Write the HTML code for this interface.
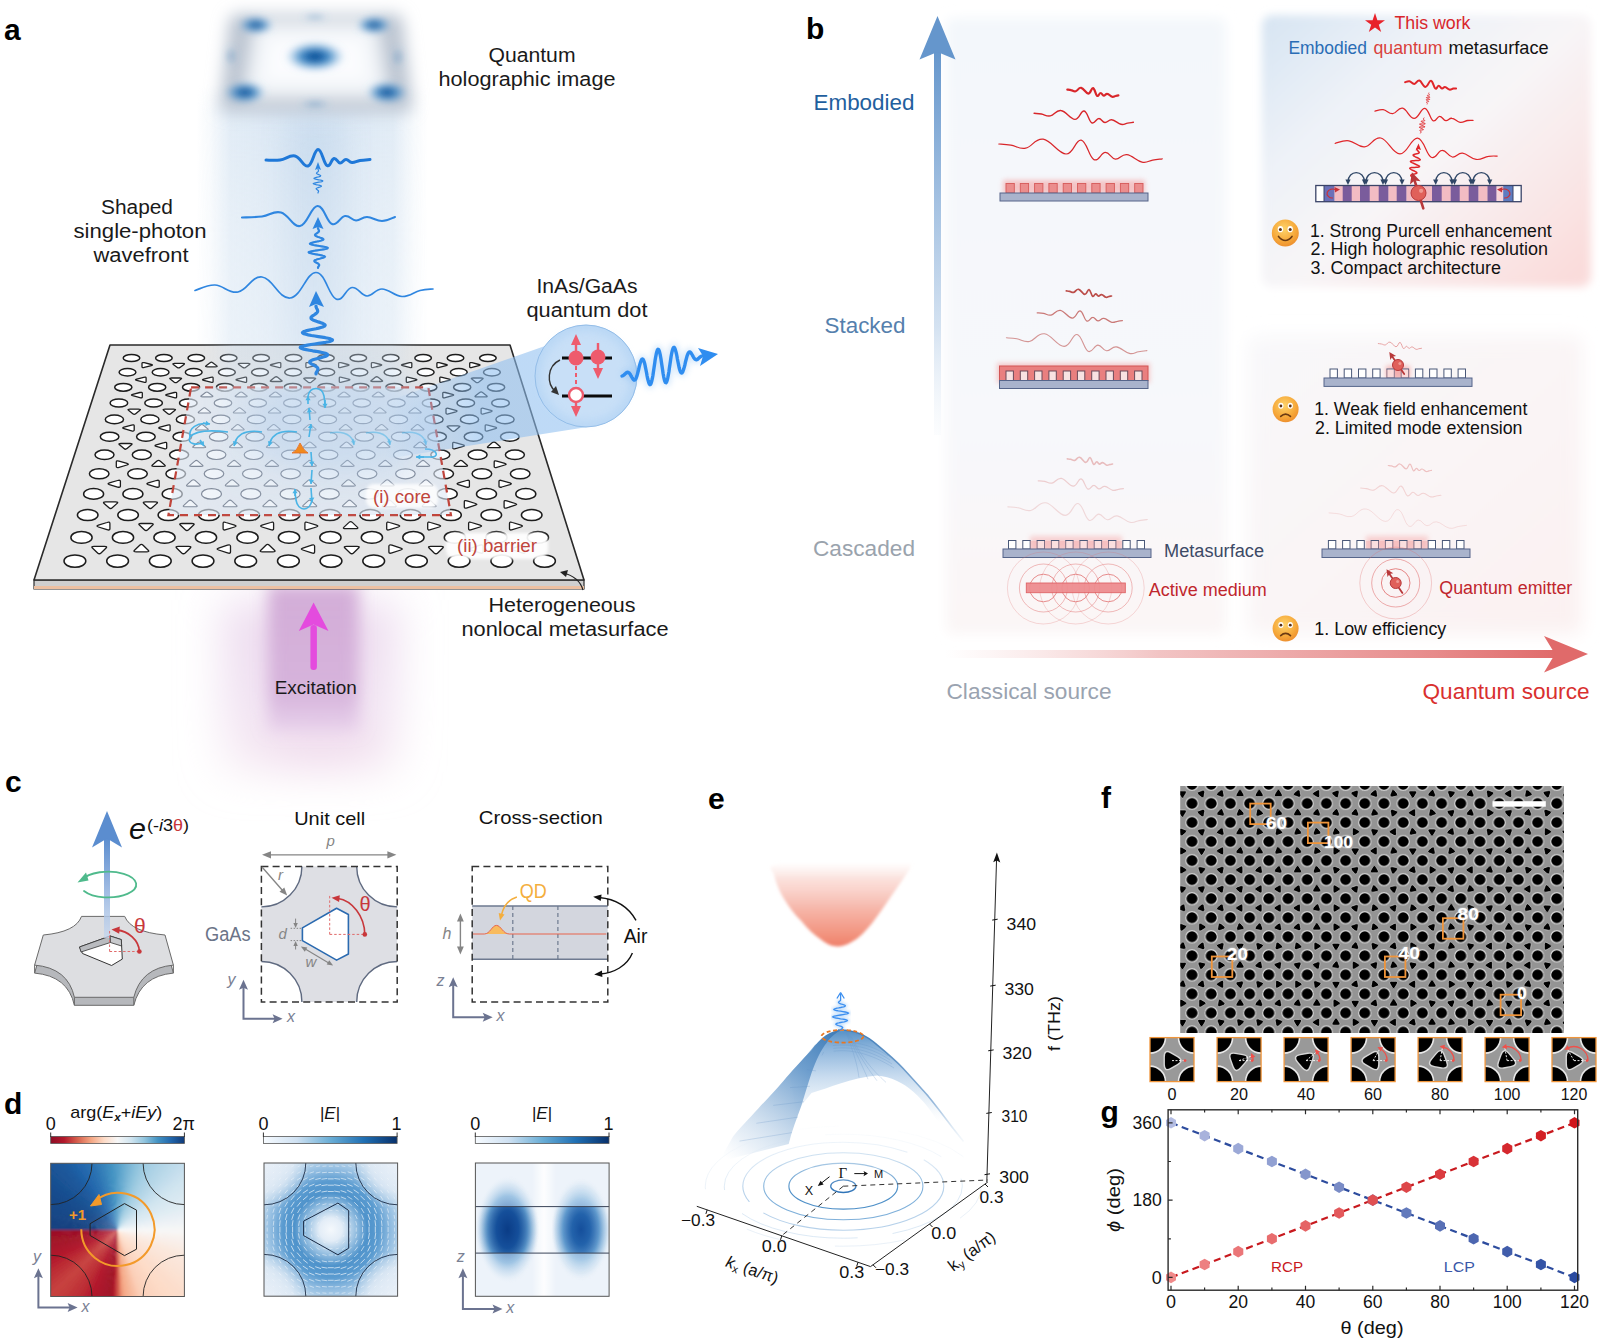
<!DOCTYPE html>
<html><head><meta charset="utf-8"><title>Figure</title>
<style>
html,body{margin:0;padding:0;background:#fff;}
body{width:1600px;height:1342px;overflow:hidden;font-family:"Liberation Sans",sans-serif;}
svg{display:block;}
svg text{font-family:"Liberation Sans",sans-serif;}
svg text.serif{font-family:"Liberation Serif",serif;}
</style></head><body>
<svg width="1600" height="1342" viewBox="0 0 1600 1342">
<rect width="1600" height="1342" fill="#fff"/>
<g id="panel_a">
<defs>
<filter id="blur3" x="-30%" y="-30%" width="160%" height="160%"><feGaussianBlur stdDeviation="3"/></filter>
<filter id="blur6" x="-30%" y="-30%" width="160%" height="160%"><feGaussianBlur stdDeviation="8"/></filter>
<filter id="blur4" x="-30%" y="-30%" width="160%" height="160%"><feGaussianBlur stdDeviation="3.6"/></filter>
<filter id="blur5" x="-30%" y="-30%" width="160%" height="160%"><feGaussianBlur stdDeviation="5"/></filter>
<filter id="blur8" x="-30%" y="-30%" width="160%" height="160%"><feGaussianBlur stdDeviation="8"/></filter>
<filter id="blur14" x="-50%" y="-50%" width="200%" height="200%"><feGaussianBlur stdDeviation="14"/></filter>
<filter id="blur22" x="-50%" y="-50%" width="200%" height="200%"><feGaussianBlur stdDeviation="22"/></filter>
<filter id="blur2" x="-30%" y="-30%" width="160%" height="160%"><feGaussianBlur stdDeviation="1.6"/></filter>
<linearGradient id="beamH" x1="0" x2="1" y1="0" y2="0">
<stop offset="0" stop-color="#c9dcee" stop-opacity="0"/><stop offset="0.06" stop-color="#c9dcee" stop-opacity="0.15"/><stop offset="0.15" stop-color="#c9dcee" stop-opacity="0.55"/>
<stop offset="0.5" stop-color="#c2d7ec" stop-opacity="0.68"/>
<stop offset="0.85" stop-color="#c9dcee" stop-opacity="0.55"/><stop offset="0.94" stop-color="#c9dcee" stop-opacity="0.15"/><stop offset="1" stop-color="#c9dcee" stop-opacity="0"/></linearGradient>
<linearGradient id="beamV" x1="0" x2="0" y1="0" y2="1">
<stop offset="0" stop-color="#fff" stop-opacity="0"/><stop offset="0.06" stop-color="#fff" stop-opacity="1"/><stop offset="0.3" stop-color="#fff" stop-opacity="0.8"/><stop offset="0.85" stop-color="#fff" stop-opacity="0.5"/><stop offset="1" stop-color="#fff" stop-opacity="0"/></linearGradient>
<mask id="beamMask"><rect x="160" y="84" width="310" height="476" fill="url(#beamV)"/></mask>
<radialGradient id="spot"><stop offset="0" stop-color="#063c80"/><stop offset="0.25" stop-color="#1560a8"/><stop offset="0.5" stop-color="#2f7fc0" stop-opacity="0.85"/><stop offset="1" stop-color="#7fb3dd" stop-opacity="0"/></radialGradient>
<linearGradient id="excV" x1="0" x2="0" y1="0" y2="1">
<stop offset="0" stop-color="#cfa6d4" stop-opacity="0.9"/><stop offset="0.75" stop-color="#d2acd8" stop-opacity="0.85"/><stop offset="1" stop-color="#d9b8e2" stop-opacity="0.4"/></linearGradient>
<linearGradient id="excV2" x1="0" x2="0" y1="0" y2="1"><stop offset="0" stop-color="#e6cfe9" stop-opacity="0.75"/><stop offset="0.6" stop-color="#ead6ec" stop-opacity="0.7"/><stop offset="1" stop-color="#f0dcea" stop-opacity="0.45"/></linearGradient>
<linearGradient id="excArrow" x1="0" x2="0" y1="0" y2="1"><stop offset="0" stop-color="#e34ce0"/><stop offset="1" stop-color="#e76fe6" stop-opacity="0.75"/></linearGradient>
</defs>
<g mask="url(#beamMask)"><rect x="196" y="84" width="232" height="476" fill="url(#beamH)"/><rect x="286" y="120" width="60" height="260" fill="#a9c6e4" opacity="0.28" filter="url(#blur14)"/></g>
<g filter="url(#blur6)"><path d="M238 14 L394 14 Q402 14 403 22 L412 102 Q413 112 403 112 L229 112 Q219 112 220 102 L229 22 Q230 14 238 14 Z" fill="#bcc5d1"/><path d="M262 30 L370 30 L379 90 L253 90 Z" fill="#fbfcfe" stroke="#f1f4f8" stroke-width="16" stroke-linejoin="round"/></g>
<g filter="url(#blur4)">
<ellipse cx="315" cy="56.5" rx="30" ry="15" fill="url(#spot)" opacity="1"/>
<ellipse cx="256" cy="25" rx="18" ry="9" fill="url(#spot)" opacity="0.9"/>
<ellipse cx="374" cy="25" rx="18" ry="9" fill="url(#spot)" opacity="0.9"/>
<ellipse cx="245" cy="92.5" rx="21" ry="11" fill="url(#spot)" opacity="0.95"/>
<ellipse cx="387" cy="92.5" rx="21" ry="11" fill="url(#spot)" opacity="0.95"/>
<ellipse cx="315" cy="17" rx="14" ry="4" fill="url(#spot)" opacity="0.3"/>
<ellipse cx="315" cy="104" rx="16" ry="4" fill="url(#spot)" opacity="0.35"/>
<ellipse cx="231" cy="56" rx="6" ry="10" fill="url(#spot)" opacity="0.3"/>
<ellipse cx="398" cy="57" rx="6" ry="10" fill="url(#spot)" opacity="0.3"/>
</g>
<g filter="url(#blur22)"><rect x="222" y="600" width="176" height="172" fill="url(#excV2)"/><ellipse cx="320" cy="748" rx="62" ry="18" fill="#e9c9e4" opacity="0.55"/></g>
<g filter="url(#blur8)"><rect x="268" y="585" width="91" height="146" fill="url(#excV)"/></g>
<rect x="310.4" y="625" width="6.5" height="45" rx="3" fill="#e44bde"/>
<path d="M313.6 602.5 L328.5 631 L313.6 624.5 L298.8 631 Z" fill="#e44bde"/>
<path d="M34 580 L584 580 L584 589 L34 589 Z" fill="#cfcfcf" stroke="#2a2a2a" stroke-width="1.2"/>
<path d="M34 586 L584 586 L584 589 L34 589 Z" fill="#ecc0a2"/>
<path d="M110 345 L510 345 L584 580 L34 580 Z" fill="#e6e6e6" stroke="#2a2a2a" stroke-width="1.6" stroke-linejoin="round"/>
<g fill="#fff" stroke="#1c1c1c" stroke-width="1.5"><ellipse cx="131.5" cy="358" rx="8.3" ry="3.6"/><ellipse cx="163.9" cy="358" rx="8.3" ry="3.6"/><ellipse cx="196.3" cy="358" rx="8.3" ry="3.6"/><ellipse cx="228.7" cy="358" rx="8.3" ry="3.6"/><ellipse cx="261.1" cy="358" rx="8.3" ry="3.6"/><ellipse cx="293.5" cy="358" rx="8.3" ry="3.6"/><ellipse cx="325.9" cy="358" rx="8.3" ry="3.6"/><ellipse cx="358.3" cy="358" rx="8.3" ry="3.6"/><ellipse cx="390.7" cy="358" rx="8.3" ry="3.6"/><ellipse cx="423.1" cy="358" rx="8.3" ry="3.6"/><ellipse cx="455.5" cy="358" rx="8.3" ry="3.6"/><ellipse cx="487.9" cy="358" rx="8.3" ry="3.6"/><ellipse cx="127.5" cy="372.3" rx="8.4" ry="3.7"/><ellipse cx="160.6" cy="372.3" rx="8.4" ry="3.7"/><ellipse cx="193.7" cy="372.3" rx="8.4" ry="3.7"/><ellipse cx="226.9" cy="372.3" rx="8.4" ry="3.7"/><ellipse cx="260" cy="372.3" rx="8.4" ry="3.7"/><ellipse cx="293.1" cy="372.3" rx="8.4" ry="3.7"/><ellipse cx="326.3" cy="372.3" rx="8.4" ry="3.7"/><ellipse cx="359.4" cy="372.3" rx="8.4" ry="3.7"/><ellipse cx="392.5" cy="372.3" rx="8.4" ry="3.7"/><ellipse cx="425.7" cy="372.3" rx="8.4" ry="3.7"/><ellipse cx="458.8" cy="372.3" rx="8.4" ry="3.7"/><ellipse cx="491.9" cy="372.3" rx="8.4" ry="3.7"/><ellipse cx="123.3" cy="387.3" rx="8.6" ry="3.9"/><ellipse cx="157.2" cy="387.3" rx="8.6" ry="3.9"/><ellipse cx="191.1" cy="387.3" rx="8.6" ry="3.9"/><ellipse cx="225" cy="387.3" rx="8.6" ry="3.9"/><ellipse cx="258.9" cy="387.3" rx="8.6" ry="3.9"/><ellipse cx="292.8" cy="387.3" rx="8.6" ry="3.9"/><ellipse cx="326.6" cy="387.3" rx="8.6" ry="3.9"/><ellipse cx="360.5" cy="387.3" rx="8.6" ry="3.9"/><ellipse cx="394.4" cy="387.3" rx="8.6" ry="3.9"/><ellipse cx="428.3" cy="387.3" rx="8.6" ry="3.9"/><ellipse cx="462.2" cy="387.3" rx="8.6" ry="3.9"/><ellipse cx="496.1" cy="387.3" rx="8.6" ry="3.9"/><ellipse cx="118.9" cy="403" rx="8.8" ry="4.1"/><ellipse cx="153.6" cy="403" rx="8.8" ry="4.1"/><ellipse cx="188.3" cy="403" rx="8.8" ry="4.1"/><ellipse cx="431.1" cy="403" rx="8.8" ry="4.1"/><ellipse cx="465.8" cy="403" rx="8.8" ry="4.1"/><ellipse cx="500.5" cy="403" rx="8.8" ry="4.1"/><ellipse cx="114.4" cy="419.4" rx="9.1" ry="4.3"/><ellipse cx="149.9" cy="419.4" rx="9.1" ry="4.3"/><ellipse cx="185.4" cy="419.4" rx="9.1" ry="4.3"/><ellipse cx="434" cy="419.4" rx="9.1" ry="4.3"/><ellipse cx="469.5" cy="419.4" rx="9.1" ry="4.3"/><ellipse cx="505" cy="419.4" rx="9.1" ry="4.3"/><ellipse cx="109.6" cy="436.7" rx="9.3" ry="4.5"/><ellipse cx="145.9" cy="436.7" rx="9.3" ry="4.5"/><ellipse cx="182.3" cy="436.7" rx="9.3" ry="4.5"/><ellipse cx="437.1" cy="436.7" rx="9.3" ry="4.5"/><ellipse cx="473.5" cy="436.7" rx="9.3" ry="4.5"/><ellipse cx="509.8" cy="436.7" rx="9.3" ry="4.5"/><ellipse cx="104.5" cy="454.8" rx="9.5" ry="4.7"/><ellipse cx="141.8" cy="454.8" rx="9.5" ry="4.7"/><ellipse cx="179.1" cy="454.8" rx="9.5" ry="4.7"/><ellipse cx="440.3" cy="454.8" rx="9.5" ry="4.7"/><ellipse cx="477.6" cy="454.8" rx="9.5" ry="4.7"/><ellipse cx="514.9" cy="454.8" rx="9.5" ry="4.7"/><ellipse cx="99.2" cy="473.8" rx="9.8" ry="5"/><ellipse cx="137.5" cy="473.8" rx="9.8" ry="5"/><ellipse cx="175.7" cy="473.8" rx="9.8" ry="5"/><ellipse cx="443.7" cy="473.8" rx="9.8" ry="5"/><ellipse cx="481.9" cy="473.8" rx="9.8" ry="5"/><ellipse cx="520.2" cy="473.8" rx="9.8" ry="5"/><ellipse cx="93.6" cy="493.9" rx="10" ry="5.3"/><ellipse cx="132.9" cy="493.9" rx="10" ry="5.3"/><ellipse cx="172.2" cy="493.9" rx="10" ry="5.3"/><ellipse cx="447.2" cy="493.9" rx="10" ry="5.3"/><ellipse cx="486.5" cy="493.9" rx="10" ry="5.3"/><ellipse cx="525.8" cy="493.9" rx="10" ry="5.3"/><ellipse cx="87.7" cy="515.1" rx="10.3" ry="5.5"/><ellipse cx="128.1" cy="515.1" rx="10.3" ry="5.5"/><ellipse cx="168.4" cy="515.1" rx="10.3" ry="5.5"/><ellipse cx="208.8" cy="515.1" rx="10.3" ry="5.5"/><ellipse cx="249.2" cy="515.1" rx="10.3" ry="5.5"/><ellipse cx="289.5" cy="515.1" rx="10.3" ry="5.5"/><ellipse cx="329.9" cy="515.1" rx="10.3" ry="5.5"/><ellipse cx="370.2" cy="515.1" rx="10.3" ry="5.5"/><ellipse cx="410.6" cy="515.1" rx="10.3" ry="5.5"/><ellipse cx="451" cy="515.1" rx="10.3" ry="5.5"/><ellipse cx="491.3" cy="515.1" rx="10.3" ry="5.5"/><ellipse cx="531.7" cy="515.1" rx="10.3" ry="5.5"/><ellipse cx="81.5" cy="537.4" rx="10.6" ry="5.9"/><ellipse cx="123" cy="537.4" rx="10.6" ry="5.9"/><ellipse cx="164.5" cy="537.4" rx="10.6" ry="5.9"/><ellipse cx="206" cy="537.4" rx="10.6" ry="5.9"/><ellipse cx="247.5" cy="537.4" rx="10.6" ry="5.9"/><ellipse cx="289" cy="537.4" rx="10.6" ry="5.9"/><ellipse cx="330.4" cy="537.4" rx="10.6" ry="5.9"/><ellipse cx="371.9" cy="537.4" rx="10.6" ry="5.9"/><ellipse cx="413.4" cy="537.4" rx="10.6" ry="5.9"/><ellipse cx="454.9" cy="537.4" rx="10.6" ry="5.9"/><ellipse cx="496.4" cy="537.4" rx="10.6" ry="5.9"/><ellipse cx="537.9" cy="537.4" rx="10.6" ry="5.9"/><ellipse cx="74.9" cy="561.1" rx="10.9" ry="6.2"/><ellipse cx="117.6" cy="561.1" rx="10.9" ry="6.2"/><ellipse cx="160.3" cy="561.1" rx="10.9" ry="6.2"/><ellipse cx="203" cy="561.1" rx="10.9" ry="6.2"/><ellipse cx="245.7" cy="561.1" rx="10.9" ry="6.2"/><ellipse cx="288.4" cy="561.1" rx="10.9" ry="6.2"/><ellipse cx="331" cy="561.1" rx="10.9" ry="6.2"/><ellipse cx="373.7" cy="561.1" rx="10.9" ry="6.2"/><ellipse cx="416.4" cy="561.1" rx="10.9" ry="6.2"/><ellipse cx="459.1" cy="561.1" rx="10.9" ry="6.2"/><ellipse cx="501.8" cy="561.1" rx="10.9" ry="6.2"/><ellipse cx="544.5" cy="561.1" rx="10.9" ry="6.2"/></g>
<g fill="#fff" stroke="#1c1c1c" stroke-width="1.3" stroke-linejoin="round"><path d="M142 363.3 Q142 362.2 144.3 362.7 L151.3 364.5 Q153.6 365.1 151.3 365.7 L144.3 367.4 Q142 368 142 366.8 Z"/><path d="M173.3 364.4 Q172 363.4 174.6 363.4 L182.6 363.4 Q185.3 363.4 184 364.4 L180 367.4 Q178.6 368.4 177.3 367.4 Z"/><path d="M210.1 362.7 Q211.4 361.7 212.7 362.7 L216.7 365.8 Q218.1 366.8 215.4 366.8 L207.4 366.8 Q204.7 366.8 206.1 365.8 Z"/><path d="M248.2 363.4 Q250.8 363.4 249.5 364.4 L245.5 367.4 Q244.2 368.4 242.8 367.4 L238.8 364.4 Q237.5 363.4 240.2 363.4 Z"/><path d="M271.5 365.7 Q269.2 365.1 271.5 364.5 L278.5 362.7 Q280.8 362.2 280.8 363.3 L280.8 366.8 Q280.8 368 278.5 367.4 Z"/><path d="M315.1 364.5 Q317.4 365.1 315.1 365.7 L308.2 367.4 Q305.9 368 305.9 366.8 L305.9 363.3 Q305.9 362.2 308.2 362.7 Z"/><path d="M340.9 367.4 Q338.6 368 338.6 366.8 L338.6 363.3 Q338.6 362.2 340.9 362.7 L347.9 364.5 Q350.2 365.1 347.9 365.7 Z"/><path d="M380.6 364.5 Q382.9 365.1 380.6 365.7 L373.7 367.4 Q371.4 368 371.4 366.8 L371.4 363.3 Q371.4 362.2 373.7 362.7 Z"/><path d="M411.8 366.8 Q411.8 368 409.5 367.4 L402.6 365.7 Q400.3 365.1 402.6 364.5 L409.5 362.7 Q411.8 362.2 411.8 363.3 Z"/><path d="M439.2 367.4 Q436.9 368 436.9 366.8 L436.9 363.3 Q436.9 362.2 439.2 362.7 L446.1 364.5 Q448.5 365.1 446.1 365.7 Z"/><path d="M478.9 364.5 Q481.2 365.1 478.9 365.7 L472 367.4 Q469.7 368 469.7 366.8 L469.7 363.3 Q469.7 362.2 472 362.7 Z"/><path d="M143.7 377.3 Q146.1 376.7 146.1 377.9 L146.1 381.6 Q146.1 382.8 143.7 382.2 L136.7 380.3 Q134.3 379.7 136.7 379.1 Z"/><path d="M170.2 379 Q168.9 378 171.6 378 L179.8 378 Q182.5 378 181.1 379 L177 382.2 Q175.7 383.2 174.3 382.2 Z"/><path d="M203.7 380.3 Q201.3 379.7 203.7 379.1 L210.8 377.3 Q213.1 376.7 213.1 377.9 L213.1 381.6 Q213.1 382.8 210.8 382.2 Z"/><path d="M237.2 380.3 Q234.8 379.7 237.2 379.1 L244.3 377.3 Q246.6 376.7 246.6 377.9 L246.6 381.6 Q246.6 382.8 244.3 382.2 Z"/><path d="M274.8 377.3 Q276.2 376.2 277.6 377.3 L281.6 380.4 Q283 381.5 280.3 381.5 L272.1 381.5 Q269.4 381.5 270.7 380.4 Z"/><path d="M311.1 382.2 Q309.7 383.2 308.3 382.2 L304.2 379 Q302.9 378 305.6 378 L313.8 378 Q316.5 378 315.2 379 Z"/><path d="M348.7 379.1 Q351.1 379.7 348.7 380.3 L341.6 382.2 Q339.3 382.8 339.3 381.6 L339.3 377.9 Q339.3 376.7 341.6 377.3 Z"/><path d="M382.2 380.4 Q383.5 381.5 380.8 381.5 L372.6 381.5 Q369.9 381.5 371.3 380.4 L375.3 377.3 Q376.7 376.2 378.1 377.3 Z"/><path d="M415.7 379.1 Q418.1 379.7 415.7 380.3 L408.6 382.2 Q406.3 382.8 406.3 381.6 L406.3 377.9 Q406.3 376.7 408.6 377.3 Z"/><path d="M442.1 382.2 Q439.8 382.8 439.8 381.6 L439.8 377.9 Q439.8 376.7 442.1 377.3 L449.2 379.1 Q451.6 379.7 449.2 380.3 Z"/><path d="M478.6 382.2 Q477.2 383.2 475.9 382.2 L471.8 379 Q470.4 378 473.1 378 L481.3 378 Q484 378 482.7 379 Z"/><path d="M132.7 395.7 Q130.2 395.1 132.7 394.4 L139.9 392.5 Q142.3 391.9 142.3 393.1 L142.3 397 Q142.3 398.2 139.9 397.6 Z"/><path d="M174.2 392.5 Q176.6 391.9 176.6 393.1 L176.6 397 Q176.6 398.2 174.2 397.6 L166.9 395.7 Q164.5 395.1 166.9 394.4 Z"/><path d="M452.5 394.4 Q454.9 395.1 452.5 395.7 L445.2 397.6 Q442.8 398.2 442.8 397 L442.8 393.1 Q442.8 391.9 445.2 392.5 Z"/><path d="M486.7 395.8 Q488.1 396.9 485.3 396.9 L476.9 396.9 Q474.1 396.9 475.5 395.8 L479.7 392.5 Q481.1 391.4 482.5 392.5 Z"/><path d="M138.5 409.2 Q141.4 409.2 139.9 410.3 L135.7 413.8 Q134.2 415 132.8 413.8 L128.5 410.3 Q127.1 409.2 129.9 409.2 Z"/><path d="M173.6 409.2 Q176.5 409.2 175 410.3 L170.7 413.8 Q169.3 415 167.9 413.8 L163.6 410.3 Q162.2 409.2 165 409.2 Z"/><path d="M448.4 413.8 Q446 414.5 446 413.1 L446 409.1 Q446 407.8 448.4 408.4 L455.9 410.4 Q458.3 411.1 455.9 411.8 Z"/><path d="M490.9 410.4 Q493.4 411.1 490.9 411.8 L483.5 413.8 Q481.1 414.5 481.1 413.1 L481.1 409.1 Q481.1 407.8 483.5 408.4 Z"/><path d="M131.6 425.1 Q134.2 424.4 134.2 425.8 L134.2 430.1 Q134.2 431.5 131.6 430.8 L124 428.6 Q121.5 427.9 124 427.2 Z"/><path d="M167.6 425.1 Q170.1 424.4 170.1 425.8 L170.1 430.1 Q170.1 431.5 167.6 430.8 L160 428.6 Q157.5 427.9 160 427.2 Z"/><path d="M455 430.8 Q453.5 432 452 430.8 L447.6 427.1 Q446.2 425.9 449.1 425.9 L457.9 425.9 Q460.8 425.9 459.3 427.1 Z"/><path d="M495.4 427.2 Q497.9 427.9 495.4 428.6 L487.8 430.8 Q485.2 431.5 485.2 430.1 L485.2 425.8 Q485.2 424.4 487.8 425.1 Z"/><path d="M119.5 444.8 Q118 443.5 121 443.5 L130 443.5 Q133 443.5 131.5 444.8 L127 448.6 Q125.5 449.9 124 448.6 Z"/><path d="M156.3 446.4 Q153.7 445.6 156.3 444.9 L164.1 442.7 Q166.7 441.9 166.7 443.4 L166.7 447.8 Q166.7 449.3 164.1 448.6 Z"/><path d="M455.3 448.6 Q452.7 449.3 452.7 447.8 L452.7 443.4 Q452.7 441.9 455.3 442.7 L463.1 444.9 Q465.7 445.6 463.1 446.4 Z"/><path d="M499.9 446.5 Q501.4 447.7 498.4 447.7 L489.4 447.7 Q486.4 447.7 487.9 446.5 L492.4 442.6 Q493.9 441.4 495.4 442.6 Z"/><path d="M116.3 461.9 Q116.3 460.3 119 461.1 L127 463.4 Q129.7 464.2 127 465 L119 467.3 Q116.3 468.1 116.3 466.5 Z"/><path d="M157 461.1 Q158.6 459.7 160.1 461.1 L164.7 465.1 Q166.3 466.4 163.2 466.4 L153.9 466.4 Q150.9 466.4 152.4 465.1 Z"/><path d="M467 465.1 Q468.5 466.4 465.5 466.4 L456.2 466.4 Q453.1 466.4 454.7 465.1 L459.3 461.1 Q460.8 459.7 462.4 461.1 Z"/><path d="M496.8 467.3 Q494.2 468.1 494.2 466.5 L494.2 461.9 Q494.2 460.3 496.8 461.1 L504.8 463.4 Q507.5 464.2 504.8 465 Z"/><path d="M109.4 484.6 Q106.7 483.7 109.4 482.9 L117.6 480.5 Q120.4 479.7 120.4 481.3 L120.4 486.2 Q120.4 487.8 117.6 487 Z"/><path d="M156.4 480.5 Q159.2 479.7 159.2 481.3 L159.2 486.2 Q159.2 487.8 156.4 487 L148.2 484.6 Q145.5 483.7 148.2 482.9 Z"/><path d="M469.4 486.2 Q469.4 487.8 466.6 487 L458.4 484.6 Q455.7 483.7 458.4 482.9 L466.6 480.5 Q469.4 479.7 469.4 481.3 Z"/><path d="M501.8 487 Q499 487.8 499 486.2 L499 481.3 Q499 479.7 501.8 480.5 L510 482.9 Q512.7 483.7 510 484.6 Z"/><path d="M115.5 501.9 Q118.7 501.9 117.1 503.4 L112.2 507.8 Q110.6 509.3 109 507.8 L104.1 503.4 Q102.5 501.9 105.7 501.9 Z"/><path d="M143.9 503.4 Q142.3 501.9 145.6 501.9 L155.3 501.9 Q158.5 501.9 156.9 503.4 L152 507.8 Q150.4 509.3 148.8 507.8 Z"/><path d="M475.5 503.5 Q478.3 504.3 475.5 505.2 L467.1 507.8 Q464.3 508.7 464.3 506.9 L464.3 501.8 Q464.3 500 467.1 500.9 Z"/><path d="M506.9 507.8 Q504.1 508.7 504.1 506.9 L504.1 501.8 Q504.1 500 506.9 500.9 L515.3 503.5 Q518.1 504.3 515.3 505.2 Z"/><path d="M107 522.5 Q109.9 521.5 109.9 523.4 L109.9 528.8 Q109.9 530.6 107 529.7 L98.4 527 Q95.5 526.1 98.4 525.2 Z"/><path d="M151 523.5 Q154.3 523.5 152.7 525 L147.7 529.8 Q146 531.3 144.4 529.8 L139.4 525 Q137.7 523.5 141 523.5 Z"/><path d="M180.3 525 Q178.6 523.5 181.9 523.5 L191.9 523.5 Q195.3 523.5 193.6 525 L188.6 529.8 Q186.9 531.3 185.3 529.8 Z"/><path d="M223.1 523.4 Q223.1 521.5 225.9 522.5 L234.6 525.2 Q237.5 526.1 234.6 527 L225.9 529.7 Q223.1 530.6 223.1 528.8 Z"/><path d="M262 527 Q259.2 526.1 262 525.2 L270.7 522.5 Q273.6 521.5 273.6 523.4 L273.6 528.8 Q273.6 530.6 270.7 529.7 Z"/><path d="M307.8 529.7 Q304.9 530.6 304.9 528.8 L304.9 523.4 Q304.9 521.5 307.8 522.5 L316.4 525.2 Q319.3 526.1 316.4 527 Z"/><path d="M345.6 528.7 Q342.3 528.7 344 527.1 L349 522.4 Q350.6 520.8 352.3 522.4 L357.3 527.1 Q358.9 528.7 355.6 528.7 Z"/><path d="M398.3 525.2 Q401.2 526.1 398.3 527 L389.6 529.7 Q386.7 530.6 386.7 528.8 L386.7 523.4 Q386.7 521.5 389.6 522.5 Z"/><path d="M430.5 529.7 Q427.7 530.6 427.7 528.8 L427.7 523.4 Q427.7 521.5 430.5 522.5 L439.2 525.2 Q442.1 526.1 439.2 527 Z"/><path d="M480.1 525.2 Q483 526.1 480.1 527 L471.5 529.7 Q468.6 530.6 468.6 528.8 L468.6 523.4 Q468.6 521.5 471.5 522.5 Z"/><path d="M512.4 529.7 Q509.5 530.6 509.5 528.8 L509.5 523.4 Q509.5 521.5 512.4 522.5 L521 525.2 Q523.9 526.1 521 527 Z"/><path d="M92.4 548 Q90.7 546.3 94.1 546.3 L104.4 546.3 Q107.8 546.3 106.1 548 L101 553 Q99.3 554.6 97.6 553 Z"/><path d="M139.7 545.2 Q141.4 543.5 143.1 545.2 L148.2 550.2 Q149.9 551.8 146.5 551.8 L136.2 551.8 Q132.8 551.8 134.5 550.2 Z"/><path d="M188.6 546.3 Q192 546.3 190.3 548 L185.2 553 Q183.4 554.6 181.7 553 L176.6 548 Q174.9 546.3 178.3 546.3 Z"/><path d="M227.5 545.2 Q230.5 544.3 230.5 546.2 L230.5 552 Q230.5 553.9 227.5 552.9 L218.6 550 Q215.6 549.1 218.6 548.1 Z"/><path d="M265.9 545.2 Q267.6 543.5 269.3 545.2 L274.5 550.2 Q276.2 551.8 272.8 551.8 L262.5 551.8 Q259.1 551.8 260.8 550.2 Z"/><path d="M314.6 552 Q314.6 553.9 311.7 552.9 L302.8 550 Q299.8 549.1 302.8 548.1 L311.7 545.2 Q314.6 544.3 314.6 546.2 Z"/><path d="M353.5 553 Q351.8 554.6 350.1 553 L344.9 548 Q343.2 546.3 346.6 546.3 L356.9 546.3 Q360.3 546.3 358.6 548 Z"/><path d="M391.9 552.9 Q388.9 553.9 388.9 552 L388.9 546.2 Q388.9 544.3 391.9 545.2 L400.8 548.1 Q403.8 549.1 400.8 550 Z"/><path d="M437.7 553 Q436 554.6 434.2 553 L429.1 548 Q427.4 546.3 430.8 546.3 L441.1 546.3 Q444.5 546.3 442.8 548 Z"/><path d="M483 552 Q483 553.9 480 552.9 L471.1 550 Q468.1 549.1 471.1 548.1 L480 545.2 Q483 544.3 483 546.2 Z"/><path d="M525.1 552 Q525.1 553.9 522.1 552.9 L513.2 550 Q510.2 549.1 513.2 548.1 L522.1 545.2 Q525.1 544.3 525.1 546.2 Z"/></g>
<polygon points="191.1,387.3 428.3,387.3 451,515.1 168.4,515.1" fill="#dfe9f5" opacity="0.62"/>
<g fill="#f1f5fa" stroke="#808a9a" stroke-width="1.2"><ellipse cx="223" cy="403" rx="8.8" ry="4.1"/><ellipse cx="257.7" cy="403" rx="8.8" ry="4.1"/><ellipse cx="292.4" cy="403" rx="8.8" ry="4.1"/><ellipse cx="327" cy="403" rx="8.8" ry="4.1"/><ellipse cx="361.7" cy="403" rx="8.8" ry="4.1"/><ellipse cx="396.4" cy="403" rx="8.8" ry="4.1"/><ellipse cx="220.9" cy="419.4" rx="9.1" ry="4.3"/><ellipse cx="256.4" cy="419.4" rx="9.1" ry="4.3"/><ellipse cx="291.9" cy="419.4" rx="9.1" ry="4.3"/><ellipse cx="327.5" cy="419.4" rx="9.1" ry="4.3"/><ellipse cx="363" cy="419.4" rx="9.1" ry="4.3"/><ellipse cx="398.5" cy="419.4" rx="9.1" ry="4.3"/><ellipse cx="218.7" cy="436.7" rx="9.3" ry="4.5"/><ellipse cx="255.1" cy="436.7" rx="9.3" ry="4.5"/><ellipse cx="291.5" cy="436.7" rx="9.3" ry="4.5"/><ellipse cx="327.9" cy="436.7" rx="9.3" ry="4.5"/><ellipse cx="364.3" cy="436.7" rx="9.3" ry="4.5"/><ellipse cx="400.7" cy="436.7" rx="9.3" ry="4.5"/><ellipse cx="216.4" cy="454.8" rx="9.5" ry="4.7"/><ellipse cx="253.7" cy="454.8" rx="9.5" ry="4.7"/><ellipse cx="291" cy="454.8" rx="9.5" ry="4.7"/><ellipse cx="328.4" cy="454.8" rx="9.5" ry="4.7"/><ellipse cx="365.7" cy="454.8" rx="9.5" ry="4.7"/><ellipse cx="403" cy="454.8" rx="9.5" ry="4.7"/><ellipse cx="214" cy="473.8" rx="9.8" ry="5"/><ellipse cx="252.3" cy="473.8" rx="9.8" ry="5"/><ellipse cx="290.6" cy="473.8" rx="9.8" ry="5"/><ellipse cx="328.8" cy="473.8" rx="9.8" ry="5"/><ellipse cx="367.1" cy="473.8" rx="9.8" ry="5"/><ellipse cx="405.4" cy="473.8" rx="9.8" ry="5"/><ellipse cx="211.5" cy="493.9" rx="10" ry="5.3"/><ellipse cx="250.8" cy="493.9" rx="10" ry="5.3"/><ellipse cx="290.1" cy="493.9" rx="10" ry="5.3"/><ellipse cx="329.3" cy="493.9" rx="10" ry="5.3"/><ellipse cx="368.6" cy="493.9" rx="10" ry="5.3"/><ellipse cx="407.9" cy="493.9" rx="10" ry="5.3"/></g>
<g fill="#f1f5fa" stroke="#808a9a" stroke-width="1.1" stroke-linejoin="round"><path d="M205.5 392.5 Q206.9 391.4 208.2 392.5 L212.4 395.8 Q213.8 396.9 211 396.9 L202.7 396.9 Q199.9 396.9 201.3 395.8 Z"/><path d="M239.7 392.5 Q241.1 391.4 242.5 392.5 L246.7 395.8 Q248.1 396.9 245.3 396.9 L237 396.9 Q234.2 396.9 235.6 395.8 Z"/><path d="M274 392.5 Q275.4 391.4 276.8 392.5 L281 395.8 Q282.4 396.9 279.6 396.9 L271.2 396.9 Q268.4 396.9 269.8 395.8 Z"/><path d="M308.3 392.5 Q309.7 391.4 311.1 392.5 L315.3 395.8 Q316.7 396.9 313.9 396.9 L305.5 396.9 Q302.7 396.9 304.1 395.8 Z"/><path d="M342.6 392.5 Q344 391.4 345.4 392.5 L349.6 395.8 Q351 396.9 348.2 396.9 L339.8 396.9 Q337 396.9 338.4 395.8 Z"/><path d="M376.9 392.5 Q378.3 391.4 379.7 392.5 L383.8 395.8 Q385.2 396.9 382.4 396.9 L374.1 396.9 Q371.3 396.9 372.7 395.8 Z"/><path d="M411.2 392.5 Q412.5 391.4 413.9 392.5 L418.1 395.8 Q419.5 396.9 416.7 396.9 L408.4 396.9 Q405.6 396.9 407 395.8 Z"/><path d="M203 408.4 Q204.4 407.2 205.8 408.4 L210.1 411.9 Q211.6 413 208.7 413 L200.1 413 Q197.3 413 198.7 411.9 Z"/><path d="M238.1 408.4 Q239.5 407.2 240.9 408.4 L245.2 411.9 Q246.7 413 243.8 413 L235.2 413 Q232.4 413 233.8 411.9 Z"/><path d="M273.2 408.4 Q274.6 407.2 276 408.4 L280.3 411.9 Q281.7 413 278.9 413 L270.3 413 Q267.5 413 268.9 411.9 Z"/><path d="M308.3 408.4 Q309.7 407.2 311.1 408.4 L315.4 411.9 Q316.8 413 314 413 L305.4 413 Q302.6 413 304 411.9 Z"/><path d="M343.4 408.4 Q344.8 407.2 346.2 408.4 L350.5 411.9 Q351.9 413 349.1 413 L340.5 413 Q337.7 413 339.1 411.9 Z"/><path d="M378.5 408.4 Q379.9 407.2 381.3 408.4 L385.6 411.9 Q387 413 384.2 413 L375.6 413 Q372.7 413 374.2 411.9 Z"/><path d="M413.6 408.4 Q415 407.2 416.4 408.4 L420.7 411.9 Q422.1 413 419.3 413 L410.7 413 Q407.8 413 409.3 411.9 Z"/><path d="M200.4 425.1 Q201.9 423.9 203.3 425.1 L207.7 428.8 Q209.2 430 206.2 430 L197.5 430 Q194.5 430 196 428.8 Z"/><path d="M236.3 425.1 Q237.8 423.9 239.3 425.1 L243.7 428.8 Q245.1 430 242.2 430 L233.4 430 Q230.5 430 232 428.8 Z"/><path d="M272.3 425.1 Q273.8 423.9 275.2 425.1 L279.6 428.8 Q281.1 430 278.1 430 L269.4 430 Q266.4 430 267.9 428.8 Z"/><path d="M308.2 425.1 Q309.7 423.9 311.2 425.1 L315.6 428.8 Q317 430 314.1 430 L305.3 430 Q302.4 430 303.8 428.8 Z"/><path d="M344.2 425.1 Q345.6 423.9 347.1 425.1 L351.5 428.8 Q353 430 350 430 L341.3 430 Q338.3 430 339.8 428.8 Z"/><path d="M380.1 425.1 Q381.6 423.9 383.1 425.1 L387.4 428.8 Q388.9 430 386 430 L377.2 430 Q374.3 430 375.7 428.8 Z"/><path d="M416.1 425.1 Q417.5 423.9 419 425.1 L423.4 428.8 Q424.9 430 421.9 430 L413.2 430 Q410.2 430 411.7 428.8 Z"/><path d="M197.7 442.6 Q199.2 441.4 200.7 442.6 L205.2 446.5 Q206.7 447.7 203.7 447.7 L194.7 447.7 Q191.7 447.7 193.2 446.5 Z"/><path d="M234.5 442.6 Q236 441.4 237.5 442.6 L242 446.5 Q243.5 447.7 240.5 447.7 L231.5 447.7 Q228.5 447.7 230 446.5 Z"/><path d="M271.4 442.6 Q272.9 441.4 274.4 442.6 L278.9 446.5 Q280.4 447.7 277.4 447.7 L268.4 447.7 Q265.4 447.7 266.9 446.5 Z"/><path d="M308.2 442.6 Q309.7 441.4 311.2 442.6 L315.7 446.5 Q317.2 447.7 314.2 447.7 L305.2 447.7 Q302.2 447.7 303.7 446.5 Z"/><path d="M345 442.6 Q346.5 441.4 348 442.6 L352.5 446.5 Q354 447.7 351 447.7 L342 447.7 Q339 447.7 340.5 446.5 Z"/><path d="M381.9 442.6 Q383.4 441.4 384.9 442.6 L389.4 446.5 Q390.9 447.7 387.9 447.7 L378.9 447.7 Q375.9 447.7 377.4 446.5 Z"/><path d="M418.7 442.6 Q420.2 441.4 421.7 442.6 L426.2 446.5 Q427.7 447.7 424.7 447.7 L415.7 447.7 Q412.7 447.7 414.2 446.5 Z"/><path d="M194.8 461.1 Q196.3 459.7 197.9 461.1 L202.5 465.1 Q204 466.4 201 466.4 L191.7 466.4 Q188.7 466.4 190.2 465.1 Z"/><path d="M232.6 461.1 Q234.1 459.7 235.7 461.1 L240.3 465.1 Q241.8 466.4 238.7 466.4 L229.5 466.4 Q226.4 466.4 228 465.1 Z"/><path d="M270.4 461.1 Q271.9 459.7 273.5 461.1 L278.1 465.1 Q279.6 466.4 276.5 466.4 L267.3 466.4 Q264.2 466.4 265.8 465.1 Z"/><path d="M308.2 461.1 Q309.7 459.7 311.2 461.1 L315.9 465.1 Q317.4 466.4 314.3 466.4 L305.1 466.4 Q302 466.4 303.5 465.1 Z"/><path d="M345.9 461.1 Q347.5 459.7 349 461.1 L353.6 465.1 Q355.2 466.4 352.1 466.4 L342.9 466.4 Q339.8 466.4 341.3 465.1 Z"/><path d="M383.7 461.1 Q385.3 459.7 386.8 461.1 L391.4 465.1 Q393 466.4 389.9 466.4 L380.7 466.4 Q377.6 466.4 379.1 465.1 Z"/><path d="M421.5 461.1 Q423.1 459.7 424.6 461.1 L429.2 465.1 Q430.7 466.4 427.7 466.4 L418.4 466.4 Q415.4 466.4 416.9 465.1 Z"/><path d="M191.8 480.4 Q193.4 479 195 480.4 L199.7 484.7 Q201.3 486.1 198.1 486.1 L188.6 486.1 Q185.5 486.1 187.1 484.7 Z"/><path d="M230.6 480.4 Q232.2 479 233.7 480.4 L238.5 484.7 Q240 486.1 236.9 486.1 L227.4 486.1 Q224.3 486.1 225.8 484.7 Z"/><path d="M269.3 480.4 Q270.9 479 272.5 480.4 L277.2 484.7 Q278.8 486.1 275.7 486.1 L266.2 486.1 Q263 486.1 264.6 484.7 Z"/><path d="M308.1 480.4 Q309.7 479 311.3 480.4 L316 484.7 Q317.6 486.1 314.4 486.1 L305 486.1 Q301.8 486.1 303.4 484.7 Z"/><path d="M346.9 480.4 Q348.5 479 350.1 480.4 L354.8 484.7 Q356.4 486.1 353.2 486.1 L343.7 486.1 Q340.6 486.1 342.2 484.7 Z"/><path d="M385.7 480.4 Q387.2 479 388.8 480.4 L393.6 484.7 Q395.1 486.1 392 486.1 L382.5 486.1 Q379.4 486.1 380.9 484.7 Z"/><path d="M424.4 480.4 Q426 479 427.6 480.4 L432.3 484.7 Q433.9 486.1 430.8 486.1 L421.3 486.1 Q418.1 486.1 419.7 484.7 Z"/><path d="M188.6 500.9 Q190.2 499.4 191.9 500.9 L196.7 505.3 Q198.3 506.8 195.1 506.8 L185.4 506.8 Q182.1 506.8 183.8 505.3 Z"/><path d="M228.4 500.9 Q230.1 499.4 231.7 500.9 L236.5 505.3 Q238.2 506.8 234.9 506.8 L225.2 506.8 Q222 506.8 223.6 505.3 Z"/><path d="M268.3 500.9 Q269.9 499.4 271.5 500.9 L276.4 505.3 Q278 506.8 274.7 506.8 L265 506.8 Q261.8 506.8 263.4 505.3 Z"/><path d="M308.1 500.9 Q309.7 499.4 311.3 500.9 L316.2 505.3 Q317.8 506.8 314.6 506.8 L304.8 506.8 Q301.6 506.8 303.2 505.3 Z"/><path d="M347.9 500.9 Q349.5 499.4 351.1 500.9 L356 505.3 Q357.6 506.8 354.4 506.8 L344.7 506.8 Q341.4 506.8 343 505.3 Z"/><path d="M387.7 500.9 Q389.3 499.4 391 500.9 L395.8 505.3 Q397.4 506.8 394.2 506.8 L384.5 506.8 Q381.2 506.8 382.9 505.3 Z"/><path d="M427.5 500.9 Q429.2 499.4 430.8 500.9 L435.6 505.3 Q437.3 506.8 434 506.8 L424.3 506.8 Q421.1 506.8 422.7 505.3 Z"/></g>
<polygon points="191.1,387.3 428.3,387.3 451,515.1 168.4,515.1" fill="none" stroke="#c0453c" stroke-width="2.2" stroke-dasharray="8 6"/>
<linearGradient id="beamOv" x1="0" x2="0" y1="0" y2="1"><stop offset="0" stop-color="#fff" stop-opacity="0.9"/><stop offset="0.45" stop-color="#fff" stop-opacity="0.55"/><stop offset="1" stop-color="#fff" stop-opacity="0"/></linearGradient><mask id="beamOvM"><rect x="190" y="345" width="250" height="190" fill="url(#beamOv)"/></mask>
<g mask="url(#beamOvM)"><rect x="200" y="345" width="225" height="190" fill="url(#beamH)" opacity="0.75"/></g>
<ellipse cx="345" cy="425" rx="100" ry="50" fill="#a9c9ec" opacity="0.3" filter="url(#blur14)"/>
<path d="M292 453 L308 453 Q304 451 300 443 Q297 451 292 453 Z" fill="#f08a1e" stroke="#e8681a" stroke-width="0.8"/>
<path d="M309 437 L311 424" stroke="#4ab4e6" stroke-width="1.6" fill="none" opacity="1"/><path d="M311 424 L312.9 428.6 L307.8 427.8 Z" fill="#4ab4e6" opacity="1"/>
<path d="M310 420 L309 408" stroke="#4ab4e6" stroke-width="1.6" fill="none" opacity="1"/><path d="M309 408 L311.9 412.1 L306.8 412.5 Z" fill="#4ab4e6" opacity="1"/>
<path d="M308 404 L308 396" stroke="#4ab4e6" stroke-width="1.6" fill="none" opacity="1"/><path d="M308 396 L310.6 400.3 L305.4 400.3 Z" fill="#4ab4e6" opacity="1"/>
<path d="M311 452 L312 466" stroke="#4ab4e6" stroke-width="1.6" fill="none" opacity="1"/><path d="M312 466 L309.1 461.9 L314.3 461.5 Z" fill="#4ab4e6" opacity="1"/>
<path d="M312 470 L311 484" stroke="#4ab4e6" stroke-width="1.6" fill="none" opacity="1"/><path d="M311 484 L308.7 479.5 L313.9 479.9 Z" fill="#4ab4e6" opacity="1"/>
<path d="M311 488 L312 502" stroke="#4ab4e6" stroke-width="1.6" fill="none" opacity="1"/><path d="M312 502 L309.1 497.9 L314.3 497.5 Z" fill="#4ab4e6" opacity="1"/>
<path d="M297 432 C285 430 274 432 270 442" fill="none" stroke="#4ab4e6" stroke-width="1.6"/>
<path d="M271 440 L269 446" stroke="#4ab4e6" stroke-width="1.6" fill="none" opacity="1"/><path d="M269 446 L267.9 441.1 L272.8 442.8 Z" fill="#4ab4e6" opacity="1"/>
<path d="M262 432 C250 430 239 432 235 442" fill="none" stroke="#4ab4e6" stroke-width="1.6"/>
<path d="M236 440 L234 446" stroke="#4ab4e6" stroke-width="1.6" fill="none" opacity="1"/><path d="M234 446 L232.9 441.1 L237.8 442.8 Z" fill="#4ab4e6" opacity="1"/>
<path d="M228 432 C212 430 196 430 190 437 C186 444 198 446 203 442" fill="none" stroke="#4ab4e6" stroke-width="1.6"/>
<path d="M200 440 L204 446" stroke="#4ab4e6" stroke-width="1.6" fill="none" opacity="1"/><path d="M204 446 L199.5 443.9 L203.8 441 Z" fill="#4ab4e6" opacity="1"/>
<path d="M190 437 C188 428 198 422 208 424" fill="none" stroke="#4ab4e6" stroke-width="1.6"/>
<path d="M203 423 L210 424" stroke="#4ab4e6" stroke-width="1.6" fill="none" opacity="1"/><path d="M210 424 L205.4 425.9 L206.1 420.8 Z" fill="#4ab4e6" opacity="1"/>
<path d="M330 433 C340 431 350 433 353 441" fill="none" stroke="#4ab4e6" stroke-width="1.6" opacity="0.55"/>
<path d="M353 439 L354 445" stroke="#4ab4e6" stroke-width="1.6" fill="none" opacity="0.55"/><path d="M354 445 L350.8 441.2 L355.8 440.4 Z" fill="#4ab4e6" opacity="0.55"/>
<path d="M366 433 C376 431 386 433 389 441" fill="none" stroke="#4ab4e6" stroke-width="1.6" opacity="0.55"/>
<path d="M389 439 L390 445" stroke="#4ab4e6" stroke-width="1.6" fill="none" opacity="0.55"/><path d="M390 445 L386.8 441.2 L391.8 440.4 Z" fill="#4ab4e6" opacity="0.55"/>
<path d="M402 433 C412 431 422 433 425 441" fill="none" stroke="#4ab4e6" stroke-width="1.6" opacity="0.55"/>
<path d="M425 439 L426 445" stroke="#4ab4e6" stroke-width="1.6" fill="none" opacity="0.55"/><path d="M426 445 L422.8 441.2 L427.8 440.4 Z" fill="#4ab4e6" opacity="0.55"/>
<path d="M425 449 C438 449 440 458 430 457 L418 457" fill="none" stroke="#4ab4e6" stroke-width="1.6"/>
<path d="M424 457 L416 457" stroke="#4ab4e6" stroke-width="1.6" fill="none" opacity="1"/><path d="M416 457 L420.3 454.4 L420.3 459.6 Z" fill="#4ab4e6" opacity="1"/>
<path d="M308 396 C310 386 322 386 324 396 L325 404" fill="none" stroke="#4ab4e6" stroke-width="1.6"/>
<path d="M325 400 L325 408" stroke="#4ab4e6" stroke-width="1.6" fill="none" opacity="1"/><path d="M325 408 L322.4 403.7 L327.6 403.7 Z" fill="#4ab4e6" opacity="1"/>
<path d="M312 500 C310 512 298 512 296 500 L295 492" fill="none" stroke="#4ab4e6" stroke-width="1.6"/>
<path d="M295 496 L295 489" stroke="#4ab4e6" stroke-width="1.6" fill="none" opacity="1"/><path d="M295 489 L297.6 493.3 L292.4 493.3 Z" fill="#4ab4e6" opacity="1"/>
<linearGradient id="coneG" gradientUnits="userSpaceOnUse" x1="385" y1="0" x2="480" y2="0"><stop offset="0" stop-color="#8fbff0" stop-opacity="0"/><stop offset="0.5" stop-color="#8fbff0" stop-opacity="0.32"/><stop offset="1" stop-color="#8fbff0" stop-opacity="0.58"/></linearGradient>
<path d="M385 402 L545 346 A51 51 0 1 1 600 425 L385 459 Z" fill="url(#coneG)"/>
<circle cx="586" cy="376" r="51" fill="#b9d7f5" stroke="#8db9e6" stroke-width="1" opacity="0.95"/>
<circle cx="586" cy="376" r="45" fill="#cfe3f8" opacity="0.7" filter="url(#blur5)"/>
<path d="M562 358 H612 M562 396 H612" stroke="#0b0b0b" stroke-width="3.2"/>
<path d="M576 366 V388" stroke="#ee5b6d" stroke-width="2" stroke-dasharray="4 3"/>
<circle cx="576" cy="358" r="7.5" fill="#ee5b6d"/><circle cx="598" cy="357" r="7.5" fill="#ee5b6d"/>
<path d="M576 351 V340" stroke="#ee5b6d" stroke-width="2.4"/><path d="M576 334 L581 345 L571 345 Z" fill="#ee5b6d"/>
<path d="M598 343 V350 M598 364 V372" stroke="#ee5b6d" stroke-width="2.4"/><path d="M598 379 L603 368 L593 368 Z" fill="#ee5b6d"/>
<circle cx="576" cy="395" r="7" fill="#fff" stroke="#ee5b6d" stroke-width="2.4"/>
<path d="M576 403 V410" stroke="#ee5b6d" stroke-width="2.4"/><path d="M576 417 L581 406 L571 406 Z" fill="#ee5b6d"/>
<path d="M560 360 C547 366 546 384 556 392" fill="none" stroke="#333" stroke-width="1.4"/><path d="M559 395 L551 392 L556 386 Z" fill="#333"/>
<path d="M622 376 L622.6 375.8 L623.1 375.5 L623.7 375.1 L624.3 374.6 L624.9 374.1 L625.4 373.6 L626 373.1 L626.6 372.6 L627.1 372.4 L627.7 372.3 L628.3 372.4 L628.9 372.7 L629.4 373.2 L630 374 L630.6 374.9 L631.1 375.9 L631.7 377 L632.3 378 L632.9 378.9 L633.4 379.6 L634 380 L634.6 380 L635.1 379.7 L635.7 378.9 L636.3 377.7 L636.9 376.1 L637.4 374.2 L638 372 L638.6 369.7 L639.1 367.3 L639.7 365 L640.3 362.9 L640.9 361.2 L641.4 359.9 L642 359.1 L642.6 359 L643.1 359.4 L643.7 360.6 L644.3 362.3 L644.9 364.5 L645.4 367.1 L646 370 L646.6 373 L647.1 376 L647.7 378.8 L648.3 381.1 L648.9 383 L649.4 384.2 L650 384.7 L650.6 384.3 L651.1 383.2 L651.7 381.3 L652.3 378.7 L652.9 375.5 L653.4 371.9 L654 368 L654.6 364.1 L655.1 360.2 L655.7 356.8 L656.3 353.8 L656.9 351.5 L657.4 349.9 L658 349.3 L658.6 349.5 L659.1 350.6 L659.7 352.6 L660.3 355.2 L660.9 358.5 L661.4 362.1 L662 366 L662.6 369.9 L663.1 373.5 L663.7 376.8 L664.3 379.4 L664.9 381.4 L665.4 382.5 L666 382.7 L666.6 382.1 L667.1 380.5 L667.7 378.2 L668.3 375.2 L668.9 371.8 L669.4 367.9 L670 364 L670.6 360.1 L671.1 356.5 L671.7 353.3 L672.3 350.7 L672.9 348.8 L673.4 347.7 L674 347.3 L674.6 347.8 L675.1 349 L675.7 350.9 L676.3 353.2 L676.9 356 L677.4 359 L678 362 L678.6 364.9 L679.1 367.5 L679.7 369.7 L680.3 371.4 L680.9 372.6 L681.4 373 L682 372.9 L682.6 372.1 L683.1 370.8 L683.7 369.1 L684.3 367 L684.9 364.7 L685.4 362.3 L686 360 L686.6 357.8 L687.1 355.9 L687.7 354.3 L688.3 353.1 L688.9 352.3 L689.4 352 L690 352 L690.6 352.4 L691.1 353.1 L691.7 354 L692.3 355 L692.9 356.1 L693.4 357.1 L694 358 L694.6 358.8 L695.1 359.3 L695.7 359.6 L696.3 359.7 L696.9 359.6 L697.4 359.4 L698 358.9 L698.6 358.4 L699.1 357.9 L699.7 357.4 L700.3 356.9 L700.9 356.5 L701.4 356.2 L702 356" fill="none" stroke="#7db8f2" stroke-width="7" opacity="0.35" filter="url(#blur3)"/>
<path d="M622 376 L622.6 375.8 L623.1 375.5 L623.7 375.1 L624.3 374.6 L624.9 374.1 L625.4 373.6 L626 373.1 L626.6 372.6 L627.1 372.4 L627.7 372.3 L628.3 372.4 L628.9 372.7 L629.4 373.2 L630 374 L630.6 374.9 L631.1 375.9 L631.7 377 L632.3 378 L632.9 378.9 L633.4 379.6 L634 380 L634.6 380 L635.1 379.7 L635.7 378.9 L636.3 377.7 L636.9 376.1 L637.4 374.2 L638 372 L638.6 369.7 L639.1 367.3 L639.7 365 L640.3 362.9 L640.9 361.2 L641.4 359.9 L642 359.1 L642.6 359 L643.1 359.4 L643.7 360.6 L644.3 362.3 L644.9 364.5 L645.4 367.1 L646 370 L646.6 373 L647.1 376 L647.7 378.8 L648.3 381.1 L648.9 383 L649.4 384.2 L650 384.7 L650.6 384.3 L651.1 383.2 L651.7 381.3 L652.3 378.7 L652.9 375.5 L653.4 371.9 L654 368 L654.6 364.1 L655.1 360.2 L655.7 356.8 L656.3 353.8 L656.9 351.5 L657.4 349.9 L658 349.3 L658.6 349.5 L659.1 350.6 L659.7 352.6 L660.3 355.2 L660.9 358.5 L661.4 362.1 L662 366 L662.6 369.9 L663.1 373.5 L663.7 376.8 L664.3 379.4 L664.9 381.4 L665.4 382.5 L666 382.7 L666.6 382.1 L667.1 380.5 L667.7 378.2 L668.3 375.2 L668.9 371.8 L669.4 367.9 L670 364 L670.6 360.1 L671.1 356.5 L671.7 353.3 L672.3 350.7 L672.9 348.8 L673.4 347.7 L674 347.3 L674.6 347.8 L675.1 349 L675.7 350.9 L676.3 353.2 L676.9 356 L677.4 359 L678 362 L678.6 364.9 L679.1 367.5 L679.7 369.7 L680.3 371.4 L680.9 372.6 L681.4 373 L682 372.9 L682.6 372.1 L683.1 370.8 L683.7 369.1 L684.3 367 L684.9 364.7 L685.4 362.3 L686 360 L686.6 357.8 L687.1 355.9 L687.7 354.3 L688.3 353.1 L688.9 352.3 L689.4 352 L690 352 L690.6 352.4 L691.1 353.1 L691.7 354 L692.3 355 L692.9 356.1 L693.4 357.1 L694 358 L694.6 358.8 L695.1 359.3 L695.7 359.6 L696.3 359.7 L696.9 359.6 L697.4 359.4 L698 358.9 L698.6 358.4 L699.1 357.9 L699.7 357.4 L700.3 356.9 L700.9 356.5 L701.4 356.2 L702 356" fill="none" stroke="#2f8df0" stroke-width="3.4" stroke-linecap="round" stroke-linejoin="round"/>
<path d="M718 354 L698 348 L703 356 L700 366 Z" fill="#2f8df0"/>
<path d="M195 290.5 C199.1 289.4 206.1 284.7 215 285 C223.9 285.3 228.3 293.7 238 292 C247.7 290.3 251.3 275.8 262 277 C272.7 278.2 278.8 298.9 290 298 C301.2 297.1 306.5 272.3 316 272.5 C325.5 272.7 328.6 295.9 336 299 C343.4 302.1 345.6 288.1 352 287.5 C358.4 286.9 360.8 295.7 367 296 C373.2 296.3 374.8 288.9 382 289 C389.2 289.1 394.1 296.2 402 296.5 C409.9 296.8 413.6 292.1 420 290.5 C426.4 288.9 430.3 289.3 433 289" fill="none" stroke="#2f86e0" stroke-width="1.7" stroke-linecap="round"/>
<path d="M242 217.5 C246.1 217.3 253.9 217.5 262 216.5 C270.1 215.5 273.1 210.5 281 212.5 C288.9 214.5 292.5 227.3 300 226 C307.5 224.7 310.9 206.4 317.5 206 C324.1 205.6 326.3 221.9 332 224 C337.7 226.1 340 216.7 345 216 C350 215.3 351.5 220.3 356 220.5 C360.5 220.7 361.6 216.9 367 217 C372.4 217.1 376.2 221 382 221 C387.8 221 392.3 217.8 395 217" fill="none" stroke="#2f86e0" stroke-width="2.1" stroke-linecap="round"/>
<path d="M266 160 C268.9 160 274 160.8 280 160 C286 159.2 289.2 154.8 295 156 C300.8 157.2 303.2 167.3 308 166 C312.8 164.7 314.1 149.6 318 149.5 C321.9 149.4 323.7 163.6 327 165.5 C330.3 167.4 331.3 159 334 158.5 C336.7 158 337.5 162.8 340 163 C342.5 163.2 343.5 159.6 346 159.5 C348.5 159.4 349.1 162.3 352 162.5 C354.9 162.7 356.3 161.1 360 160.5 C363.7 159.9 367.9 159.7 370 159.5" fill="none" stroke="#1f78d8" stroke-width="3" stroke-linecap="round"/>
<path d="M316 374 L316 373.4 L316.2 372.9 L316.4 372.3 L316.7 371.7 L317.1 371.2 L317.4 370.6 L317.7 370 L317.9 369.5 L318 368.9 L317.8 368.3 L317.5 367.8 L317 367.2 L316.3 366.6 L315.4 366.1 L314.4 365.5 L313.3 364.9 L312.2 364.4 L311.2 363.8 L310.4 363.2 L309.9 362.7 L309.7 362.1 L309.9 361.5 L310.5 361 L311.5 360.4 L312.9 359.8 L314.7 359.3 L316.7 358.7 L318.9 358.1 L321.1 357.6 L323.2 357 L325 356.4 L326.5 355.9 L327.4 355.3 L327.7 354.7 L327.3 354.2 L326.2 353.6 L324.4 353 L322 352.5 L319.2 351.9 L316 351.3 L312.7 350.8 L309.4 350.2 L306.3 349.6 L303.7 349.1 L301.7 348.5 L300.5 347.9 L300.2 347.4 L300.7 346.8 L302.2 346.2 L304.4 345.7 L307.4 345.1 L310.9 344.5 L314.7 344 L318.6 343.4 L322.4 342.8 L325.8 342.3 L328.7 341.7 L330.8 341.1 L332.1 340.6 L332.5 340 L331.9 339.4 L330.5 338.9 L328.2 338.3 L325.3 337.7 L322 337.2 L318.4 336.6 L314.8 336 L311.4 335.5 L308.3 334.9 L305.8 334.3 L303.9 333.8 L302.8 333.2 L302.4 332.6 L302.9 332.1 L304 331.5 L305.8 330.9 L308 330.4 L310.6 329.8 L313.3 329.2 L316 328.7 L318.6 328.1 L320.8 327.5 L322.7 327 L324 326.4 L324.9 325.8 L325.2 325.3 L324.9 324.7 L324.2 324.1 L323.1 323.6 L321.6 323 L320 322.4 L318.3 321.9 L316.5 321.3 L315 320.7 L313.6 320.2 L312.4 319.6 L311.6 319 L311.1 318.5 L311 317.9 L311.1 317.3 L311.5 316.8 L312.1 316.2 L312.9 315.6 L313.8 315.1 L314.7 314.5 L315.5 313.9 L316.2 313.4 L316.8 312.8 L317.3 312.2 L317.6 311.7 L317.7 311.1 L317.6 310.5 L317.5 310 L317.2 309.4 L316.9 308.8 L316.6 308.3 L316.4 307.7 L316.2 307.1 L316 306.6 L316 306" fill="none" stroke="#2f86e0" stroke-width="3.2" stroke-linecap="round" stroke-linejoin="round"/>
<path d="M316 291 L324 307 L316 304 L309 307 Z" fill="#2f86e0"/>
<path d="M318 268 L318 267.7 L318.1 267.3 L318.2 267 L318.4 266.7 L318.6 266.3 L318.8 266 L319 265.7 L319.1 265.3 L319.2 265 L319.1 264.7 L318.9 264.3 L318.6 264 L318.2 263.7 L317.6 263.3 L317 263 L316.4 262.7 L315.8 262.3 L315.2 262 L314.7 261.7 L314.4 261.3 L314.3 261 L314.4 260.7 L314.7 260.3 L315.3 260 L316.2 259.7 L317.2 259.3 L318.4 259 L319.7 258.7 L321 258.3 L322.2 258 L323.3 257.7 L324.2 257.3 L324.7 257 L324.9 256.7 L324.6 256.3 L324 256 L322.9 255.7 L321.6 255.3 L319.9 255 L318 254.7 L316 254.3 L314.1 254 L312.3 253.7 L310.8 253.3 L309.6 253 L308.9 252.7 L308.7 252.3 L309 252 L309.9 251.7 L311.2 251.3 L312.9 251 L315 250.7 L317.2 250.3 L319.5 250 L321.8 249.7 L323.8 249.3 L325.5 249 L326.7 248.7 L327.5 248.3 L327.7 248 L327.4 247.7 L326.5 247.3 L325.2 247 L323.5 246.7 L321.5 246.3 L319.4 246 L317.3 245.7 L315.3 245.3 L313.5 245 L312 244.7 L310.9 244.3 L310.2 244 L310 243.7 L310.3 243.3 L311 243 L312 242.7 L313.3 242.3 L314.8 242 L316.4 241.7 L318 241.3 L319.5 241 L320.8 240.7 L321.9 240.3 L322.7 240 L323.2 239.7 L323.4 239.3 L323.2 239 L322.8 238.7 L322.1 238.3 L321.3 238 L320.3 237.7 L319.3 237.3 L318.3 237 L317.4 236.7 L316.6 236.3 L315.9 236 L315.4 235.7 L315.1 235.3 L315 235 L315.1 234.7 L315.4 234.3 L315.7 234 L316.2 233.7 L316.7 233.3 L317.2 233 L317.7 232.7 L318.1 232.3 L318.5 232 L318.8 231.7 L318.9 231.3 L319 231 L319 230.7 L318.9 230.3 L318.7 230 L318.6 229.7 L318.4 229.3 L318.2 229 L318.1 228.7 L318 228.3 L318 228" fill="none" stroke="#2f86e0" stroke-width="2.2" stroke-linecap="round"/>
<path d="M318 217 L323.5 229 L318 227 L312.5 229 Z" fill="#2f86e0"/>
<path d="M318 193 L318 192.8 L318.1 192.6 L318.1 192.4 L318.2 192.2 L318.3 192 L318.4 191.8 L318.5 191.6 L318.6 191.4 L318.6 191.2 L318.5 191 L318.4 190.8 L318.3 190.6 L318.1 190.4 L317.8 190.2 L317.5 190 L317.2 189.8 L316.9 189.6 L316.6 189.4 L316.4 189.2 L316.2 189 L316.1 188.8 L316.2 188.6 L316.4 188.4 L316.7 188.2 L317.1 188 L317.6 187.8 L318.2 187.6 L318.8 187.4 L319.5 187.2 L320.1 187 L320.7 186.8 L321.1 186.6 L321.3 186.4 L321.4 186.2 L321.3 186 L321 185.8 L320.5 185.6 L319.8 185.4 L318.9 185.2 L318 185 L317 184.8 L316 184.6 L315.2 184.4 L314.4 184.2 L313.8 184 L313.5 183.8 L313.3 183.6 L313.5 183.4 L313.9 183.2 L314.6 183 L315.5 182.8 L316.5 182.6 L317.6 182.4 L318.8 182.2 L319.9 182 L320.9 181.8 L321.7 181.6 L322.4 181.4 L322.7 181.2 L322.8 181 L322.7 180.8 L322.3 180.6 L321.6 180.4 L320.7 180.2 L319.8 180 L318.7 179.8 L317.6 179.6 L316.6 179.4 L315.7 179.2 L315 179 L314.4 178.8 L314.1 178.6 L314 178.4 L314.1 178.2 L314.5 178 L315 177.8 L315.6 177.6 L316.4 177.4 L317.2 177.2 L318 177 L318.8 176.8 L319.4 176.6 L320 176.4 L320.4 176.2 L320.6 176 L320.7 175.8 L320.6 175.6 L320.4 175.4 L320.1 175.2 L319.7 175 L319.2 174.8 L318.7 174.6 L318.2 174.4 L317.7 174.2 L317.3 174 L317 173.8 L316.7 173.6 L316.6 173.4 L316.5 173.2 L316.6 173 L316.7 172.8 L316.9 172.6 L317.1 172.4 L317.3 172.2 L317.6 172 L317.9 171.8 L318.1 171.6 L318.2 171.4 L318.4 171.2 L318.5 171 L318.5 170.8 L318.5 170.6 L318.4 170.4 L318.4 170.2 L318.3 170 L318.2 169.8 L318.1 169.6 L318 169.4 L318 169.2 L318 169" fill="none" stroke="#2f86e0" stroke-width="1.2" stroke-linecap="round"/>
<path d="M318 162 L321 170 L318 168.5 L315 170 Z" fill="#2f86e0"/>
<text x="4" y="40" font-size="30" fill="#000" text-anchor="start" font-weight="bold" >a</text>
<text x="532" y="62" font-size="20" fill="#1a1a1a" text-anchor="middle" textLength="87" lengthAdjust="spacingAndGlyphs" >Quantum</text>
<text x="527" y="86" font-size="20" fill="#1a1a1a" text-anchor="middle" textLength="177" lengthAdjust="spacingAndGlyphs" >holographic image</text>
<text x="137" y="214" font-size="20" fill="#1a1a1a" text-anchor="middle" textLength="72" lengthAdjust="spacingAndGlyphs" >Shaped</text>
<text x="140" y="238" font-size="20" fill="#1a1a1a" text-anchor="middle" textLength="133" lengthAdjust="spacingAndGlyphs" >single-photon</text>
<text x="141" y="262" font-size="20" fill="#1a1a1a" text-anchor="middle" textLength="95" lengthAdjust="spacingAndGlyphs" >wavefront</text>
<text x="587" y="293" font-size="20" fill="#1a1a1a" text-anchor="middle" textLength="101" lengthAdjust="spacingAndGlyphs" >InAs/GaAs</text>
<text x="587" y="317" font-size="20" fill="#1a1a1a" text-anchor="middle" textLength="121" lengthAdjust="spacingAndGlyphs" >quantum dot</text>
<text x="562" y="612" font-size="20" fill="#1a1a1a" text-anchor="middle" textLength="147" lengthAdjust="spacingAndGlyphs" >Heterogeneous</text>
<text x="565" y="636" font-size="20" fill="#1a1a1a" text-anchor="middle" textLength="207" lengthAdjust="spacingAndGlyphs" >nonlocal metasurface</text>
<text x="315.7" y="694.3" font-size="18.5" fill="#1a1a1a" text-anchor="middle" textLength="82" lengthAdjust="spacingAndGlyphs" >Excitation</text>
<rect x="366" y="484" width="72" height="24" rx="8" fill="#fff" opacity="0.85" filter="url(#blur2)"/>
<text x="402" y="503" font-size="18" fill="#c0453c" text-anchor="middle" textLength="58" lengthAdjust="spacingAndGlyphs" >(i) core</text>
<rect x="446" y="533" width="102" height="26" rx="9" fill="#fff" opacity="0.92" filter="url(#blur2)"/>
<text x="497" y="552" font-size="18" fill="#c0453c" text-anchor="middle" textLength="80" lengthAdjust="spacingAndGlyphs" >(ii) barrier</text>
<path d="M583 590 C580 580 572 575 563 573" fill="none" stroke="#222" stroke-width="1.2"/><path d="M560 572 L568 570 L566 577 Z" fill="#222"/>
</g>
<g id="panel_b">
<defs>
<linearGradient id="bV" x1="0" x2="0" y1="0" y2="1"><stop offset="0" stop-color="#6596cc"/><stop offset="0.4" stop-color="#a5c2e2"/><stop offset="0.72" stop-color="#d4e2f1"/><stop offset="1" stop-color="#eef3f9" stop-opacity="0.2"/></linearGradient>
<linearGradient id="bH" x1="0" x2="1" y1="0" y2="0"><stop offset="0" stop-color="#f6d6d6" stop-opacity="0"/><stop offset="0.35" stop-color="#f2c4c4"/><stop offset="0.8" stop-color="#e78b8b"/><stop offset="1" stop-color="#e06a6a"/></linearGradient>
<linearGradient id="twork" x1="0" x2="1" y1="0" y2="0.9"><stop offset="0" stop-color="#d6e4f2"/><stop offset="0.3" stop-color="#eef2f8"/><stop offset="0.55" stop-color="#f8f5f7"/><stop offset="1" stop-color="#fadcdb"/></linearGradient>
<radialGradient id="emo" cx="0.45" cy="0.35" r="0.75"><stop offset="0" stop-color="#fdd36a"/><stop offset="0.6" stop-color="#f6a83a"/><stop offset="1" stop-color="#e9842a"/></radialGradient>
<linearGradient id="bgC" x1="0" x2="1" y1="0" y2="1"><stop offset="0" stop-color="#f8f8fa"/><stop offset="1" stop-color="#fbf1f1"/></linearGradient>
<linearGradient id="bgB" x1="0" x2="0" y1="0" y2="1"><stop offset="0" stop-color="#f3f7fb"/><stop offset="0.65" stop-color="#f7f8fb"/><stop offset="1" stop-color="#fbf6f6"/></linearGradient>
<filter id="bblur10" x="-10%" y="-10%" width="120%" height="120%"><feGaussianBlur stdDeviation="9"/></filter>
<filter id="bblur6" x="-10%" y="-10%" width="120%" height="120%"><feGaussianBlur stdDeviation="6"/></filter>
<filter id="bblur5" x="-10%" y="-10%" width="120%" height="120%"><feGaussianBlur stdDeviation="4.5"/></filter>
<filter id="bblur3" x="-30%" y="-60%" width="160%" height="220%"><feGaussianBlur stdDeviation="2.5"/></filter>
</defs>
<rect x="946" y="18" width="280" height="616" rx="8" fill="url(#bgB)" filter="url(#bblur6)"/>
<rect x="1248" y="336" width="334" height="298" rx="8" fill="url(#bgC)" filter="url(#bblur10)"/>
<rect x="1262" y="15" width="329" height="272" rx="10" fill="url(#twork)" filter="url(#bblur5)"/>
<rect x="934" y="50" width="7" height="385" fill="url(#bV)"/>
<path d="M937.5 16 L955.5 59.5 L937.5 52 L919.5 59.5 Z" fill="#6596cc"/>
<rect x="945" y="650" width="612" height="8" fill="url(#bH)"/>
<path d="M1588 654 L1544 636 L1555 654 L1544 672.5 Z" fill="#e06a6a"/>
<text x="806" y="39" font-size="30" fill="#000" text-anchor="start" font-weight="bold" >b</text>
<text x="864" y="110" font-size="22" fill="#1f5f9e" text-anchor="middle" textLength="101" lengthAdjust="spacingAndGlyphs" >Embodied</text>
<text x="865" y="333" font-size="22" fill="#5580ad" text-anchor="middle" textLength="81" lengthAdjust="spacingAndGlyphs" >Stacked</text>
<text x="864" y="556" font-size="22" fill="#9aa3ad" text-anchor="middle" textLength="102" lengthAdjust="spacingAndGlyphs" >Cascaded</text>
<text x="1029" y="699" font-size="22" fill="#9aa3b0" text-anchor="middle" textLength="165" lengthAdjust="spacingAndGlyphs" >Classical source</text>
<text x="1506" y="699" font-size="22" fill="#d9302f" text-anchor="middle" textLength="167" lengthAdjust="spacingAndGlyphs" >Quantum source</text>
<path d="M1067.3 89.6 C1068.1 89.7 1069.3 89.7 1071.1 90.1 C1072.8 90.4 1073.6 91.8 1075.7 91.3 C1077.7 90.8 1078.6 87.3 1081.2 87.8 C1083.8 88.3 1085.9 93.5 1088.3 93.6 C1090.8 93.6 1091.2 87.7 1093.1 88.1 C1094.9 88.6 1095.5 94.8 1097 95.8 C1098.6 96.8 1099.2 93 1100.6 93 C1102 92.9 1102.4 95.4 1103.8 95.6 C1105.2 95.7 1105.6 93.5 1107.3 93.8 C1109 94 1110.4 96.3 1112.1 96.7 C1113.7 97.2 1114.1 96.2 1115.4 96 C1116.8 95.7 1117.8 95.5 1118.4 95.4" fill="none" stroke="#d8262a" stroke-width="2.2" stroke-linecap="round" opacity="1"/><path d="M1034.1 113.3 C1035.6 113.5 1038.1 113.5 1041.4 114 C1044.8 114.6 1046.3 116.6 1050.3 115.9 C1054.4 115.2 1056 109.7 1061 110.5 C1066.1 111.2 1070.1 119.3 1074.9 119.4 C1079.7 119.5 1080.6 110.3 1084.1 111 C1087.6 111.7 1088.8 121.3 1091.8 122.8 C1094.8 124.4 1096.1 118.5 1098.8 118.5 C1101.5 118.4 1102.2 122.3 1104.9 122.5 C1107.6 122.8 1108.5 119.4 1111.8 119.8 C1115.2 120.1 1117.8 123.6 1121 124.3 C1124.3 125 1125 123.5 1127.6 123.1 C1130.1 122.7 1132.2 122.5 1133.4 122.3" fill="none" stroke="#d8262a" stroke-width="1.4" stroke-linecap="round" opacity="1"/><path d="M998.8 144 C1001.3 144.2 1005.4 144.2 1010.9 145.1 C1016.4 146 1018.9 149.4 1025.6 148.2 C1032.2 147 1034.8 138 1043.2 139.2 C1051.5 140.4 1058.2 153.8 1066 154 C1073.9 154.2 1075.4 138.9 1081.2 140.1 C1086.9 141.2 1088.9 157.1 1093.9 159.6 C1098.9 162.2 1100.8 152.5 1105.3 152.4 C1109.7 152.3 1110.9 158.7 1115.4 159.1 C1119.8 159.6 1121.3 154 1126.8 154.6 C1132.3 155.2 1136.6 160.9 1142 162.1 C1147.3 163.2 1148.5 160.8 1152.7 160.1 C1156.9 159.4 1160.3 159.1 1162.3 158.8" fill="none" stroke="#d8262a" stroke-width="1.2" stroke-linecap="round" opacity="1"/>
<rect x="1003" y="180" width="142" height="14" fill="#f29a9a" opacity="0.55" filter="url(#bblur3)"/>
<rect x="1006" y="183.5" width="8.3" height="9.5" fill="#eb8d8d" stroke="#d65a5a" stroke-width="0.9"/><rect x="1020.3" y="183.5" width="8.3" height="9.5" fill="#eb8d8d" stroke="#d65a5a" stroke-width="0.9"/><rect x="1034.6" y="183.5" width="8.3" height="9.5" fill="#eb8d8d" stroke="#d65a5a" stroke-width="0.9"/><rect x="1048.9" y="183.5" width="8.3" height="9.5" fill="#eb8d8d" stroke="#d65a5a" stroke-width="0.9"/><rect x="1063.2" y="183.5" width="8.3" height="9.5" fill="#eb8d8d" stroke="#d65a5a" stroke-width="0.9"/><rect x="1077.5" y="183.5" width="8.3" height="9.5" fill="#eb8d8d" stroke="#d65a5a" stroke-width="0.9"/><rect x="1091.8" y="183.5" width="8.3" height="9.5" fill="#eb8d8d" stroke="#d65a5a" stroke-width="0.9"/><rect x="1106.1" y="183.5" width="8.3" height="9.5" fill="#eb8d8d" stroke="#d65a5a" stroke-width="0.9"/><rect x="1120.4" y="183.5" width="8.3" height="9.5" fill="#eb8d8d" stroke="#d65a5a" stroke-width="0.9"/><rect x="1134.7" y="183.5" width="8.3" height="9.5" fill="#eb8d8d" stroke="#d65a5a" stroke-width="0.9"/>
<rect x="1000" y="193" width="148" height="8" fill="#a9b3cc" stroke="#56658a" stroke-width="1"/>
<path d="M1066.3 290.9 C1067 291 1068.1 291 1069.7 291.3 C1071.2 291.6 1071.9 292.8 1073.7 292.4 C1075.5 292 1076.3 288.9 1078.6 289.3 C1080.9 289.7 1082.7 294.3 1084.9 294.4 C1087 294.4 1087.5 289.2 1089 289.6 C1090.6 290 1091.2 295.4 1092.6 296.3 C1093.9 297.2 1094.5 293.9 1095.7 293.8 C1096.9 293.8 1097.3 296 1098.5 296.1 C1099.7 296.3 1100.1 294.4 1101.6 294.6 C1103.2 294.8 1104.4 296.8 1105.8 297.2 C1107.3 297.6 1107.6 296.7 1108.8 296.5 C1110 296.3 1110.9 296.1 1111.5 296" fill="none" stroke="#b8433f" stroke-width="1.7" stroke-linecap="round" opacity="0.95"/><path d="M1037.2 312.9 C1038.5 313 1040.6 313 1043.5 313.4 C1046.3 313.9 1047.6 315.7 1051.1 315.1 C1054.6 314.4 1055.9 309.8 1060.3 310.4 C1064.6 311 1068.1 318 1072.2 318.1 C1076.3 318.2 1077.1 310.2 1080.1 310.8 C1083.1 311.4 1084.1 319.7 1086.7 321 C1089.3 322.4 1090.3 317.3 1092.7 317.3 C1095 317.2 1095.6 320.5 1097.9 320.8 C1100.3 321 1101 318.1 1103.9 318.4 C1106.7 318.7 1109 321.7 1111.8 322.3 C1114.6 322.9 1115.2 321.6 1117.4 321.3 C1119.6 320.9 1121.4 320.7 1122.4 320.6" fill="none" stroke="#b8433f" stroke-width="1.25" stroke-linecap="round" opacity="0.7"/><path d="M1006.4 337.8 C1008.6 338 1012.1 338 1016.8 338.8 C1021.5 339.6 1023.7 342.5 1029.4 341.5 C1035.1 340.4 1037.3 332.7 1044.5 333.8 C1051.7 334.8 1057.4 346.3 1064.1 346.4 C1070.9 346.6 1072.2 333.5 1077.1 334.5 C1082.1 335.5 1083.8 349.1 1088.1 351.3 C1092.3 353.5 1094 345.2 1097.9 345.1 C1101.7 345 1102.7 350.5 1106.5 350.8 C1110.4 351.2 1111.6 346.4 1116.3 346.9 C1121.1 347.4 1124.8 352.4 1129.4 353.4 C1134 354.3 1135 352.3 1138.6 351.7 C1142.2 351.1 1145.2 350.8 1146.9 350.6" fill="none" stroke="#b8433f" stroke-width="1.1" stroke-linecap="round" opacity="0.55"/>
<rect x="997" y="363" width="153" height="20" fill="#f29a9a" opacity="0.5" filter="url(#bblur3)"/>
<rect x="999.5" y="366" width="148.5" height="14.5" fill="#e97f7f" stroke="#d25555" stroke-width="1"/>
<rect x="1006" y="371" width="7.4" height="9.5" fill="#f8e2e2" stroke="#6a4a5a" stroke-width="1"/><rect x="1020.3" y="371" width="7.4" height="9.5" fill="#f8e2e2" stroke="#6a4a5a" stroke-width="1"/><rect x="1034.6" y="371" width="7.4" height="9.5" fill="#f8e2e2" stroke="#6a4a5a" stroke-width="1"/><rect x="1048.9" y="371" width="7.4" height="9.5" fill="#f8e2e2" stroke="#6a4a5a" stroke-width="1"/><rect x="1063.2" y="371" width="7.4" height="9.5" fill="#f8e2e2" stroke="#6a4a5a" stroke-width="1"/><rect x="1077.4" y="371" width="7.4" height="9.5" fill="#f8e2e2" stroke="#6a4a5a" stroke-width="1"/><rect x="1091.7" y="371" width="7.4" height="9.5" fill="#f8e2e2" stroke="#6a4a5a" stroke-width="1"/><rect x="1106" y="371" width="7.4" height="9.5" fill="#f8e2e2" stroke="#6a4a5a" stroke-width="1"/><rect x="1120.3" y="371" width="7.4" height="9.5" fill="#f8e2e2" stroke="#6a4a5a" stroke-width="1"/><rect x="1134.6" y="371" width="7.4" height="9.5" fill="#f8e2e2" stroke="#6a4a5a" stroke-width="1"/>
<rect x="999.5" y="380.5" width="148.5" height="8" fill="#a9b3cc" stroke="#56658a" stroke-width="1"/>
<path d="M1067.3 458.9 C1068 459 1069.1 459 1070.7 459.3 C1072.2 459.6 1072.9 460.8 1074.7 460.4 C1076.5 460 1077.3 456.9 1079.6 457.3 C1081.9 457.7 1083.7 462.3 1085.9 462.4 C1088 462.4 1088.5 457.2 1090 457.6 C1091.6 458 1092.2 463.4 1093.6 464.3 C1094.9 465.2 1095.5 461.9 1096.7 461.8 C1097.9 461.8 1098.3 464 1099.5 464.1 C1100.7 464.3 1101.1 462.4 1102.6 462.6 C1104.2 462.8 1105.4 464.8 1106.8 465.2 C1108.3 465.6 1108.6 464.7 1109.8 464.5 C1111 464.3 1111.9 464.1 1112.5 464" fill="none" stroke="#dd9494" stroke-width="1.6" stroke-linecap="round" opacity="0.6"/><path d="M1038.2 480.9 C1039.5 481 1041.6 481 1044.5 481.4 C1047.3 481.9 1048.6 483.7 1052.1 483.1 C1055.6 482.4 1056.9 477.8 1061.3 478.4 C1065.6 479 1069.1 486 1073.2 486.1 C1077.3 486.2 1078.1 478.2 1081.1 478.8 C1084.1 479.4 1085.1 487.7 1087.7 489 C1090.3 490.4 1091.3 485.3 1093.7 485.3 C1096 485.2 1096.6 488.5 1098.9 488.8 C1101.3 489 1102 486.1 1104.9 486.4 C1107.7 486.7 1110 489.7 1112.8 490.3 C1115.6 490.9 1116.2 489.6 1118.4 489.3 C1120.6 488.9 1122.4 488.7 1123.4 488.6" fill="none" stroke="#dd9494" stroke-width="1.2" stroke-linecap="round" opacity="0.42"/><path d="M1007.9 506.9 C1010.1 507.1 1013.5 507.1 1018.2 507.8 C1022.9 508.6 1025.1 511.5 1030.7 510.5 C1036.4 509.4 1038.6 501.8 1045.8 502.8 C1052.9 503.8 1058.5 515.3 1065.2 515.4 C1071.9 515.5 1073.2 502.5 1078.1 503.5 C1083.1 504.5 1084.7 518 1089 520.2 C1093.2 522.4 1094.9 514.2 1098.7 514.1 C1102.5 514 1103.5 519.4 1107.3 519.8 C1111.1 520.2 1112.4 515.4 1117.1 515.9 C1121.7 516.4 1125.4 521.3 1130 522.3 C1134.6 523.3 1135.6 521.2 1139.2 520.6 C1142.8 520 1145.7 519.7 1147.4 519.5" fill="none" stroke="#dd9494" stroke-width="1.1" stroke-linecap="round" opacity="0.32"/>
<rect x="1030" y="536" width="92" height="14" fill="#f4a3a3" opacity="0.45" filter="url(#bblur3)"/>
<rect x="1008.5" y="540.5" width="7.4" height="8.5" fill="#fff" stroke="#4a5878" stroke-width="1"/><rect x="1022.8" y="540.5" width="7.4" height="8.5" fill="#fff" stroke="#4a5878" stroke-width="1"/><rect x="1037.1" y="540.5" width="7.4" height="8.5" fill="#fff" stroke="#4a5878" stroke-width="1"/><rect x="1051.4" y="540.5" width="7.4" height="8.5" fill="#fff" stroke="#4a5878" stroke-width="1"/><rect x="1065.7" y="540.5" width="7.4" height="8.5" fill="#fff" stroke="#4a5878" stroke-width="1"/><rect x="1079.9" y="540.5" width="7.4" height="8.5" fill="#fff" stroke="#4a5878" stroke-width="1"/><rect x="1094.2" y="540.5" width="7.4" height="8.5" fill="#fff" stroke="#4a5878" stroke-width="1"/><rect x="1108.5" y="540.5" width="7.4" height="8.5" fill="#fff" stroke="#4a5878" stroke-width="1"/><rect x="1122.8" y="540.5" width="7.4" height="8.5" fill="#fff" stroke="#4a5878" stroke-width="1"/><rect x="1137.1" y="540.5" width="7.4" height="8.5" fill="#fff" stroke="#4a5878" stroke-width="1"/>
<rect x="1030" y="541" width="92" height="8" fill="#f4a3a3" opacity="0.35"/>
<rect x="1003" y="549" width="148" height="8.5" fill="#a9b3cc" stroke="#56658a" stroke-width="1"/>
<circle cx="1043.4" cy="588" r="13.8" fill="none" stroke="#e06a6a" stroke-width="0.9" opacity="0.85"/>
<circle cx="1043.4" cy="588" r="24" fill="none" stroke="#e06a6a" stroke-width="0.9" opacity="0.5"/>
<circle cx="1043.4" cy="588" r="36" fill="none" stroke="#e06a6a" stroke-width="0.9" opacity="0.28"/>
<circle cx="1075.7" cy="588" r="13.8" fill="none" stroke="#e06a6a" stroke-width="0.9" opacity="0.85"/>
<circle cx="1075.7" cy="588" r="24" fill="none" stroke="#e06a6a" stroke-width="0.9" opacity="0.5"/>
<circle cx="1075.7" cy="588" r="36" fill="none" stroke="#e06a6a" stroke-width="0.9" opacity="0.28"/>
<circle cx="1108.2" cy="588" r="13.8" fill="none" stroke="#e06a6a" stroke-width="0.9" opacity="0.85"/>
<circle cx="1108.2" cy="588" r="24" fill="none" stroke="#e06a6a" stroke-width="0.9" opacity="0.5"/>
<circle cx="1108.2" cy="588" r="36" fill="none" stroke="#e06a6a" stroke-width="0.9" opacity="0.28"/>
<rect x="1026.3" y="583" width="99" height="9.7" fill="#ee8d90" stroke="#dd5c60" stroke-width="0.9" opacity="0.95"/>
<text x="1214" y="557" font-size="18" fill="#3d4a66" text-anchor="middle" textLength="100" lengthAdjust="spacingAndGlyphs" >Metasurface</text>
<text x="1207.8" y="595.5" font-size="18" fill="#c0262d" text-anchor="middle" textLength="118" lengthAdjust="spacingAndGlyphs" >Active medium</text>
<path d="M1375 13 L1377.4 20.3 L1385 20.3 L1378.8 24.8 L1381.2 32 L1375 27.5 L1368.8 32 L1371.2 24.8 L1365 20.3 L1372.6 20.3 Z" fill="#e8222a"/>
<text x="1394.5" y="29" font-size="19" fill="#d9262c" text-anchor="start" textLength="76" lengthAdjust="spacingAndGlyphs" >This work</text>
<text x="1288.4" y="53.6" font-size="19" fill="#2a6db5" text-anchor="start" textLength="78.6" lengthAdjust="spacingAndGlyphs" >Embodied</text>
<text x="1373.5" y="53.6" font-size="19" fill="#d9413c" text-anchor="start" textLength="69" lengthAdjust="spacingAndGlyphs" >quantum</text>
<text x="1448.6" y="53.6" font-size="19" fill="#111" text-anchor="start" textLength="100" lengthAdjust="spacingAndGlyphs" >metasurface</text>
<path d="M1335.2 143.3 C1338.1 142.8 1342.8 140 1348.9 140.8 C1354.9 141.5 1357.9 147.4 1364.5 146.8 C1371.1 146.3 1373.5 136.6 1380.8 138 C1388.2 139.5 1392.3 153.9 1399.9 153.9 C1407.5 154 1411.1 137.4 1417.6 138.1 C1424.1 138.8 1426.1 154.7 1431.2 157.3 C1436.3 159.8 1437.7 150.4 1442.1 150.4 C1446.5 150.3 1448.1 156.5 1452.3 157 C1456.5 157.6 1457.6 152.6 1462.5 153.1 C1467.4 153.6 1470.8 158.7 1476.1 159.4 C1481.5 160.1 1484 157 1488.4 156.4 C1492.8 155.7 1495.4 156.1 1497.2 156.1" fill="none" stroke="#e0262a" stroke-width="1.2" stroke-linecap="round" opacity="1"/>
<path d="M1375 111.2 C1376.7 110.9 1379.6 109.2 1383.2 109.7 C1386.9 110.2 1388.7 114 1392.7 113.7 C1396.7 113.3 1398.1 107.2 1402.6 108.2 C1407 109.1 1409.5 118.3 1414.1 118.4 C1418.7 118.4 1420.9 108 1424.8 108.4 C1428.7 108.9 1430 119.1 1433 120.7 C1436.1 122.4 1437 116.4 1439.6 116.4 C1442.3 116.4 1443.2 120.3 1445.8 120.7 C1448.4 121.1 1449 117.9 1452 118.3 C1455 118.6 1457 121.9 1460.2 122.4 C1463.4 122.8 1465 120.9 1467.6 120.5 C1470.3 120.1 1471.9 120.4 1473 120.4" fill="none" stroke="#e0262a" stroke-width="1.3" stroke-linecap="round" opacity="1"/>
<path d="M1405.1 82.3 C1406 82.1 1407.5 81 1409.4 81.3 C1411.3 81.7 1412.2 84 1414.3 83.9 C1416.4 83.7 1417.1 79.9 1419.4 80.5 C1421.7 81.1 1423 86.9 1425.4 86.9 C1427.8 87 1429 80.5 1431 80.8 C1433 81.1 1433.7 87.4 1435.3 88.5 C1436.9 89.5 1437.3 85.8 1438.7 85.8 C1440.1 85.8 1440.6 88.3 1441.9 88.5 C1443.3 88.8 1443.6 86.8 1445.1 87.1 C1446.7 87.3 1447.7 89.3 1449.4 89.6 C1451.1 89.9 1451.9 88.8 1453.3 88.5 C1454.7 88.3 1455.5 88.5 1456.1 88.5" fill="none" stroke="#e0262a" stroke-width="2.0" stroke-linecap="round" opacity="1"/>
<path d="M1412 181 L1412.1 180.6 L1412.3 180.3 L1412.6 179.9 L1412.8 179.6 L1413 179.2 L1413.2 178.9 L1413.1 178.5 L1412.9 178 L1412.6 177.6 L1412.1 177.1 L1411.7 176.7 L1411.2 176.2 L1410.9 175.7 L1410.8 175.3 L1411 175 L1411.5 174.7 L1412.2 174.4 L1413.2 174.2 L1414.3 174 L1415.3 173.8 L1416.1 173.6 L1416.7 173.3 L1416.9 172.9 L1416.7 172.5 L1416 172 L1415 171.4 L1413.8 170.8 L1412.5 170.2 L1411.3 169.6 L1410.4 169 L1409.8 168.5 L1409.8 168.2 L1410.3 167.9 L1411.4 167.6 L1412.8 167.5 L1414.4 167.4 L1416.1 167.3 L1417.6 167.2 L1418.8 167 L1419.4 166.7 L1419.5 166.4 L1419 165.9 L1418 165.3 L1416.6 164.7 L1415 164 L1413.4 163.3 L1412 162.7 L1411 162.1 L1410.5 161.6 L1410.6 161.3 L1411.2 161 L1412.4 160.8 L1413.9 160.7 L1415.6 160.6 L1417.2 160.5 L1418.6 160.4 L1419.7 160.1 L1420.2 159.8 L1420.2 159.5 L1419.6 159 L1418.7 158.4 L1417.5 157.8 L1416.2 157.2 L1415 156.6 L1414 156 L1413.3 155.5 L1413.1 155.1 L1413.3 154.7 L1413.9 154.4 L1414.7 154.2 L1415.7 154 L1416.8 153.8 L1417.8 153.6 L1418.5 153.3 L1419 153 L1419.2 152.7 L1419.1 152.3 L1418.8 151.8 L1418.3 151.3 L1417.9 150.9 L1417.4 150.4 L1417.1 150 L1416.9 149.5 L1416.8 149.1 L1417 148.8 L1417.2 148.4 L1417.4 148.1 L1417.7 147.7 L1417.9 147.4 L1418 147" fill="none" stroke="#e0262a" stroke-width="1.5" stroke-linecap="round" opacity="1"/>
<path d="M1418.5 143.5 L1421 150 L1418 149 L1415.5 150.5 Z" fill="#e0262a"/>
<path d="M1420.5 133 L1420.6 132.8 L1420.7 132.7 L1420.8 132.5 L1421 132.4 L1421.1 132.3 L1421.2 132.1 L1421.2 131.9 L1421.1 131.7 L1420.8 131.5 L1420.6 131.3 L1420.3 131 L1420 130.8 L1419.8 130.6 L1419.8 130.4 L1419.9 130.2 L1420.2 130.1 L1420.6 130 L1421.2 130 L1421.8 130 L1422.4 129.9 L1422.9 129.9 L1423.3 129.8 L1423.4 129.6 L1423.3 129.4 L1422.9 129.2 L1422.3 128.8 L1421.5 128.5 L1420.8 128.1 L1420.1 127.8 L1419.5 127.5 L1419.2 127.2 L1419.2 127.1 L1419.5 127 L1420.1 126.9 L1420.9 126.9 L1421.9 127 L1422.9 127.1 L1423.8 127.1 L1424.5 127.1 L1424.9 127 L1424.9 126.8 L1424.6 126.6 L1424 126.3 L1423.2 125.9 L1422.2 125.5 L1421.3 125.1 L1420.5 124.7 L1419.9 124.4 L1419.6 124.2 L1419.6 124 L1420 123.9 L1420.7 123.9 L1421.6 123.9 L1422.6 124 L1423.6 124.1 L1424.4 124.1 L1425 124 L1425.3 123.9 L1425.3 123.8 L1425 123.5 L1424.4 123.2 L1423.7 122.9 L1423 122.5 L1422.2 122.2 L1421.6 121.8 L1421.2 121.6 L1421.1 121.4 L1421.2 121.2 L1421.6 121.1 L1422.1 121.1 L1422.7 121 L1423.3 121 L1423.9 121 L1424.3 120.9 L1424.6 120.8 L1424.7 120.6 L1424.7 120.4 L1424.5 120.2 L1424.2 120 L1423.9 119.7 L1423.7 119.5 L1423.4 119.3 L1423.3 119.1 L1423.3 118.9 L1423.4 118.7 L1423.5 118.6 L1423.7 118.5 L1423.8 118.3 L1423.9 118.2 L1424 118" fill="none" stroke="#e0262a" stroke-width="1" stroke-linecap="round" opacity="1"/>
<path d="M1427 104 L1427 103.9 L1427.1 103.8 L1427.2 103.7 L1427.3 103.6 L1427.4 103.4 L1427.4 103.3 L1427.4 103.2 L1427.3 103.1 L1427.2 102.9 L1427 102.7 L1426.8 102.6 L1426.6 102.4 L1426.5 102.3 L1426.5 102.1 L1426.5 102 L1426.7 101.9 L1427 101.9 L1427.4 101.8 L1427.8 101.7 L1428.2 101.7 L1428.6 101.6 L1428.8 101.5 L1428.9 101.4 L1428.8 101.3 L1428.5 101.1 L1428.1 100.9 L1427.6 100.7 L1427.1 100.5 L1426.6 100.3 L1426.2 100.1 L1426 99.9 L1426 99.8 L1426.2 99.7 L1426.6 99.6 L1427.1 99.6 L1427.8 99.6 L1428.5 99.6 L1429.1 99.6 L1429.5 99.5 L1429.8 99.5 L1429.8 99.3 L1429.6 99.2 L1429.2 99 L1428.7 98.7 L1428 98.5 L1427.3 98.3 L1426.8 98 L1426.4 97.8 L1426.2 97.7 L1426.2 97.5 L1426.5 97.5 L1426.9 97.4 L1427.5 97.4 L1428.2 97.4 L1428.9 97.4 L1429.4 97.4 L1429.8 97.3 L1430 97.2 L1430 97.1 L1429.8 96.9 L1429.4 96.7 L1428.9 96.5 L1428.4 96.3 L1427.9 96.1 L1427.5 95.9 L1427.2 95.7 L1427.1 95.6 L1427.2 95.5 L1427.4 95.4 L1427.8 95.3 L1428.2 95.3 L1428.6 95.2 L1429 95.1 L1429.3 95.1 L1429.5 95 L1429.5 94.9 L1429.5 94.7 L1429.4 94.6 L1429.2 94.4 L1429 94.3 L1428.8 94.1 L1428.7 93.9 L1428.6 93.8 L1428.6 93.7 L1428.6 93.6 L1428.7 93.4 L1428.8 93.3 L1428.9 93.2 L1429 93.1 L1429 93" fill="none" stroke="#e0262a" stroke-width="0.8" stroke-linecap="round" opacity="1"/>
<rect x="1315.7" y="185.5" width="8.5" height="16.2" fill="#fff"/>
<rect x="1324" y="185.5" width="10.8" height="16.2" fill="#6b70b8"/>
<rect x="1334.5" y="185.5" width="8.5" height="16.2" fill="#f2bcc3"/>
<rect x="1342.7" y="185.5" width="9.3" height="16.2" fill="#7a5c9c"/>
<rect x="1351.7" y="185.5" width="8.5" height="16.2" fill="#f2bcc3"/>
<rect x="1360" y="185.5" width="10" height="16.2" fill="#7a5c9c"/>
<rect x="1369.7" y="185.5" width="9.3" height="16.2" fill="#f2bcc3"/>
<rect x="1378.7" y="185.5" width="10" height="16.2" fill="#7a5c9c"/>
<rect x="1388.5" y="185.5" width="8.5" height="16.2" fill="#f2bcc3"/>
<rect x="1396.7" y="185.5" width="10" height="16.2" fill="#7a5c9c"/>
<rect x="1406.5" y="185.5" width="25.8" height="16.2" fill="#f2bcc3"/>
<rect x="1432" y="185.5" width="10" height="16.2" fill="#7a5c9c"/>
<rect x="1441.7" y="185.5" width="9.3" height="16.2" fill="#f2bcc3"/>
<rect x="1450.7" y="185.5" width="9.3" height="16.2" fill="#7a5c9c"/>
<rect x="1459.7" y="185.5" width="9.3" height="16.2" fill="#f2bcc3"/>
<rect x="1468.7" y="185.5" width="10" height="16.2" fill="#7a5c9c"/>
<rect x="1478.5" y="185.5" width="9.3" height="16.2" fill="#f2bcc3"/>
<rect x="1487.5" y="185.5" width="9.3" height="16.2" fill="#7a5c9c"/>
<rect x="1496.5" y="185.5" width="7" height="16.2" fill="#f7d6da"/>
<rect x="1503.2" y="185.5" width="10" height="16.2" fill="#5f7cc0"/>
<rect x="1513" y="185.5" width="8.5" height="16.2" fill="#fff"/>
<rect x="1315.8" y="185.5" width="205.4" height="16.2" fill="none" stroke="#3a4468" stroke-width="1.3"/>
<path d="M1324 185.5 V201.7 M1513 185.5 V201.7" stroke="#3a4468" stroke-width="1"/>
<path d="M1348 182 C1348 169.5 1364.5 169.5 1364.5 182" fill="none" stroke="#2f4666" stroke-width="1.3"/>
<path d="M1348 185 L1345.4 179.5 L1350.6 179.5 Z" fill="#2f4666"/>
<path d="M1364.5 185 L1361.9 179.5 L1367.1 179.5 Z" fill="#2f4666"/>
<path d="M1366 182 C1366 169.5 1383 169.5 1383 182" fill="none" stroke="#2f4666" stroke-width="1.3"/>
<path d="M1366 185 L1363.4 179.5 L1368.6 179.5 Z" fill="#2f4666"/>
<path d="M1383 185 L1380.4 179.5 L1385.6 179.5 Z" fill="#2f4666"/>
<path d="M1385.5 182 C1385.5 169.5 1402 169.5 1402 182" fill="none" stroke="#2f4666" stroke-width="1.3"/>
<path d="M1385.5 185 L1382.9 179.5 L1388.1 179.5 Z" fill="#2f4666"/>
<path d="M1402 185 L1399.4 179.5 L1404.6 179.5 Z" fill="#2f4666"/>
<path d="M1435.7 182 C1435.7 169.5 1452 169.5 1452 182" fill="none" stroke="#2f4666" stroke-width="1.3"/>
<path d="M1435.7 185 L1433.1 179.5 L1438.3 179.5 Z" fill="#2f4666"/>
<path d="M1452 185 L1449.4 179.5 L1454.6 179.5 Z" fill="#2f4666"/>
<path d="M1454.5 182 C1454.5 169.5 1471 169.5 1471 182" fill="none" stroke="#2f4666" stroke-width="1.3"/>
<path d="M1454.5 185 L1451.9 179.5 L1457.1 179.5 Z" fill="#2f4666"/>
<path d="M1471 185 L1468.4 179.5 L1473.6 179.5 Z" fill="#2f4666"/>
<path d="M1473 182 C1473 169.5 1489.7 169.5 1489.7 182" fill="none" stroke="#2f4666" stroke-width="1.3"/>
<path d="M1473 185 L1470.4 179.5 L1475.6 179.5 Z" fill="#2f4666"/>
<path d="M1489.7 185 L1487.1 179.5 L1492.3 179.5 Z" fill="#2f4666"/>
<path d="M1423.3 208.3 L1414.6 180.6" stroke="#b8383a" stroke-width="2.6" stroke-linecap="round"/><path d="M1411.9 172.2 L1420.6 181.2 L1414.6 180.6 L1410 184.6 Z" fill="#b8383a"/><circle cx="1418.5" cy="193" r="7.5" fill="#e0605a" stroke="#b8383a" stroke-width="1"/><circle cx="1421.1" cy="190.8" r="2.1" fill="#f3a8a0" opacity="0.8"/>
<path d="M1336 190 A5.5 4.5 0 1 0 1333 198" fill="none" stroke="#c8323a" stroke-width="1.2"/>
<path d="M1340 189.5 L1334.5 187 L1335 192.5 Z" fill="#c8323a"/>
<path d="M1501 190 A5.5 4.5 0 1 1 1504 198" fill="none" stroke="#c8323a" stroke-width="1.2"/>
<path d="M1497 189.5 L1502.5 187 L1502 192.5 Z" fill="#c8323a"/>
<circle cx="1285.3" cy="233" r="13.5" fill="url(#emo)"/><ellipse cx="1280.4" cy="229.2" rx="2.7" ry="3.1" fill="#fff"/><circle cx="1280.4" cy="229.5" r="1.5" fill="#5a3216"/><ellipse cx="1290.2" cy="229.2" rx="2.7" ry="3.1" fill="#fff"/><circle cx="1290.2" cy="229.5" r="1.5" fill="#5a3216"/><path d="M1278.5 236.4 Q1285.3 244.5 1292 236.4" fill="none" stroke="#6b3a12" stroke-width="1.6" stroke-linecap="round"/>
<text x="1309.9" y="236.5" font-size="18" fill="#111" text-anchor="start" textLength="241.7" lengthAdjust="spacingAndGlyphs" >1. Strong Purcell enhancement</text>
<text x="1310.5" y="255" font-size="18" fill="#111" text-anchor="start" textLength="237.5" lengthAdjust="spacingAndGlyphs" >2. High holographic resolution</text>
<text x="1310.5" y="273.7" font-size="18" fill="#111" text-anchor="start" textLength="190.5" lengthAdjust="spacingAndGlyphs" >3. Compact architecture</text>
<path d="M1378.3 343.6 C1379 343.7 1380.1 343.7 1381.5 344 C1383 344.2 1383.6 345.3 1385.4 344.9 C1387.1 344.5 1387.8 341.7 1390 342.1 C1392.2 342.5 1394 346.7 1396 346.8 C1398.1 346.8 1398.5 342 1400 342.4 C1401.6 342.7 1402.1 347.7 1403.4 348.5 C1404.7 349.4 1405.2 346.3 1406.4 346.3 C1407.6 346.2 1407.9 348.3 1409.1 348.4 C1410.2 348.5 1410.6 346.8 1412.1 346.9 C1413.5 347.1 1414.7 349 1416.1 349.3 C1417.5 349.7 1417.8 348.9 1418.9 348.7 C1420 348.5 1420.9 348.4 1421.5 348.3" fill="none" stroke="#e59a9a" stroke-width="1.0" stroke-linecap="round" opacity="0.9"/>
<rect x="1386" y="366" width="24" height="12" fill="#f4a3a3" opacity="0.75" filter="url(#bblur3)"/>
<rect x="1330" y="369" width="7.4" height="9" fill="#fff" stroke="#4a5878" stroke-width="1"/><rect x="1344.2" y="369" width="7.4" height="9" fill="#fff" stroke="#4a5878" stroke-width="1"/><rect x="1358.5" y="369" width="7.4" height="9" fill="#fff" stroke="#4a5878" stroke-width="1"/><rect x="1372.7" y="369" width="7.4" height="9" fill="#fff" stroke="#4a5878" stroke-width="1"/><rect x="1386.9" y="369" width="7.4" height="9" fill="#fff" stroke="#4a5878" stroke-width="1"/><rect x="1401.2" y="369" width="7.4" height="9" fill="#fff" stroke="#4a5878" stroke-width="1"/><rect x="1415.4" y="369" width="7.4" height="9" fill="#fff" stroke="#4a5878" stroke-width="1"/><rect x="1429.6" y="369" width="7.4" height="9" fill="#fff" stroke="#4a5878" stroke-width="1"/><rect x="1443.9" y="369" width="7.4" height="9" fill="#fff" stroke="#4a5878" stroke-width="1"/><rect x="1458.1" y="369" width="7.4" height="9" fill="#fff" stroke="#4a5878" stroke-width="1"/>
<rect x="1386" y="369.5" width="24" height="8.5" fill="#f4a3a3" opacity="0.4"/>
<rect x="1324" y="378" width="148" height="8.4" fill="#a9b3cc" stroke="#56658a" stroke-width="1"/>
<path d="M1404.2 374.1 L1392.4 356.7" stroke="#b8383a" stroke-width="1.8" stroke-linecap="round"/><path d="M1389.3 352.1 L1396.1 356 L1392.4 356.7 L1390.3 359.9 Z" fill="#b8383a"/><circle cx="1398" cy="365" r="5.5" fill="#e0605a" stroke="#b8383a" stroke-width="1"/><circle cx="1399.9" cy="363.4" r="1.5" fill="#f3a8a0" opacity="0.8"/>
<circle cx="1285.6" cy="409.3" r="13" fill="url(#emo)"/><ellipse cx="1280.9" cy="405.7" rx="2.6" ry="3" fill="#fff"/><circle cx="1280.9" cy="406" r="1.4" fill="#5a3216"/><ellipse cx="1290.3" cy="405.7" rx="2.6" ry="3" fill="#fff"/><circle cx="1290.3" cy="406" r="1.4" fill="#5a3216"/><path d="M1280.7 416.4 Q1285.6 411.9 1290.5 416.4" fill="none" stroke="#6b3a12" stroke-width="1.6" stroke-linecap="round"/>
<text x="1314.3" y="414.8" font-size="18" fill="#111" text-anchor="start" textLength="213" lengthAdjust="spacingAndGlyphs" >1. Weak field enhancement</text>
<text x="1315" y="433.8" font-size="18" fill="#111" text-anchor="start" textLength="207.5" lengthAdjust="spacingAndGlyphs" >2. Limited mode extension</text>
<path d="M1388.3 465.5 C1389 465.6 1390.1 465.6 1391.5 465.9 C1393 466.2 1393.6 467.3 1395.4 466.9 C1397.1 466.5 1397.8 463.6 1400 464 C1402.2 464.3 1404 468.8 1406 468.8 C1408.1 468.9 1408.5 463.8 1410 464.2 C1411.6 464.6 1412.1 469.8 1413.4 470.7 C1414.7 471.5 1415.2 468.3 1416.4 468.3 C1417.6 468.3 1417.9 470.4 1419.1 470.5 C1420.2 470.7 1420.6 468.8 1422.1 469 C1423.5 469.2 1424.7 471.1 1426.1 471.5 C1427.5 471.9 1427.8 471.1 1428.9 470.8 C1430 470.6 1430.9 470.5 1431.5 470.4" fill="none" stroke="#e8a9a9" stroke-width="1.2" stroke-linecap="round" opacity="0.7"/><path d="M1360.7 488 C1361.9 488.2 1363.9 488.2 1366.6 488.6 C1369.3 489 1370.5 490.7 1373.8 490.1 C1377.1 489.5 1378.3 485.1 1382.4 485.7 C1386.5 486.3 1389.8 492.9 1393.6 493 C1397.5 493 1398.3 485.5 1401.1 486.1 C1403.9 486.7 1404.9 494.5 1407.3 495.7 C1409.8 497 1410.7 492.2 1412.9 492.2 C1415.1 492.2 1415.7 495.3 1417.9 495.5 C1420.1 495.7 1420.8 492.9 1423.5 493.2 C1426.2 493.5 1428.3 496.4 1430.9 496.9 C1433.5 497.5 1434.1 496.3 1436.2 496 C1438.3 495.6 1439.9 495.5 1440.9 495.3" fill="none" stroke="#e8a9a9" stroke-width="1.1" stroke-linecap="round" opacity="0.45"/><path d="M1329 512.9 C1331 513.1 1334.4 513.2 1339.1 513.9 C1343.7 514.6 1345.8 517.5 1351.4 516.5 C1357 515.5 1359.2 508 1366.2 509 C1373.2 510 1378.8 521.2 1385.4 521.4 C1392 521.5 1393.3 508.7 1398.1 509.6 C1403 510.6 1404.6 523.9 1408.8 526.1 C1413 528.2 1414.7 520.1 1418.4 520.1 C1422.2 520 1423.2 525.3 1426.9 525.7 C1430.6 526 1431.9 521.3 1436.5 521.8 C1441.1 522.3 1444.7 527.2 1449.2 528.1 C1453.7 529.1 1454.7 527.1 1458.3 526.5 C1461.8 525.9 1464.7 525.6 1466.4 525.4" fill="none" stroke="#e8a9a9" stroke-width="1.0" stroke-linecap="round" opacity="0.32"/>
<rect x="1366" y="536" width="62" height="14" fill="#f4a3a3" opacity="0.45" filter="url(#bblur3)"/>
<rect x="1328.4" y="540.5" width="7.4" height="8.5" fill="#fff" stroke="#4a5878" stroke-width="1"/><rect x="1342.6" y="540.5" width="7.4" height="8.5" fill="#fff" stroke="#4a5878" stroke-width="1"/><rect x="1356.9" y="540.5" width="7.4" height="8.5" fill="#fff" stroke="#4a5878" stroke-width="1"/><rect x="1371.1" y="540.5" width="7.4" height="8.5" fill="#fff" stroke="#4a5878" stroke-width="1"/><rect x="1385.4" y="540.5" width="7.4" height="8.5" fill="#fff" stroke="#4a5878" stroke-width="1"/><rect x="1399.6" y="540.5" width="7.4" height="8.5" fill="#fff" stroke="#4a5878" stroke-width="1"/><rect x="1413.9" y="540.5" width="7.4" height="8.5" fill="#fff" stroke="#4a5878" stroke-width="1"/><rect x="1428.1" y="540.5" width="7.4" height="8.5" fill="#fff" stroke="#4a5878" stroke-width="1"/><rect x="1442.4" y="540.5" width="7.4" height="8.5" fill="#fff" stroke="#4a5878" stroke-width="1"/><rect x="1456.6" y="540.5" width="7.4" height="8.5" fill="#fff" stroke="#4a5878" stroke-width="1"/>
<rect x="1366" y="541" width="62" height="8" fill="#f4a3a3" opacity="0.35"/>
<rect x="1322" y="549" width="148" height="8.5" fill="#a9b3cc" stroke="#56658a" stroke-width="1"/>
<circle cx="1395.7" cy="583" r="14.3" fill="none" stroke="#e06a6a" stroke-width="0.9" opacity="0.9"/>
<circle cx="1395.7" cy="583" r="24" fill="none" stroke="#e06a6a" stroke-width="0.9" opacity="0.6"/>
<circle cx="1395.7" cy="583" r="35.9" fill="none" stroke="#e06a6a" stroke-width="0.9" opacity="0.35"/>
<path d="M1402.4 592.9 L1389.5 573.9" stroke="#b8383a" stroke-width="1.8" stroke-linecap="round"/><path d="M1386.5 569.3 L1393.3 573.2 L1389.5 573.9 L1387.5 577.1 Z" fill="#b8383a"/><circle cx="1395.7" cy="583" r="5.5" fill="#e0605a" stroke="#b8383a" stroke-width="1"/><circle cx="1397.6" cy="581.4" r="1.5" fill="#f3a8a0" opacity="0.8"/>
<text x="1439.3" y="594" font-size="18" fill="#c0262d" text-anchor="start" textLength="133" lengthAdjust="spacingAndGlyphs" >Quantum emitter</text>
<circle cx="1285.6" cy="628.5" r="13" fill="url(#emo)"/><ellipse cx="1280.9" cy="624.9" rx="2.6" ry="3" fill="#fff"/><circle cx="1280.9" cy="625.2" r="1.4" fill="#5a3216"/><ellipse cx="1290.3" cy="624.9" rx="2.6" ry="3" fill="#fff"/><circle cx="1290.3" cy="625.2" r="1.4" fill="#5a3216"/><path d="M1280.7 635.6 Q1285.6 631.1 1290.5 635.6" fill="none" stroke="#6b3a12" stroke-width="1.6" stroke-linecap="round"/>
<text x="1314.3" y="634.6" font-size="18" fill="#111" text-anchor="start" textLength="132" lengthAdjust="spacingAndGlyphs" >1. Low efficiency</text>
</g>
<g id="panel_c">
<defs>
<linearGradient id="cArr" x1="0" x2="0" y1="0" y2="1"><stop offset="0" stop-color="#5b8dcf"/><stop offset="0.4" stop-color="#8fb0de"/><stop offset="1" stop-color="#c5d6ee" stop-opacity="0.75"/></linearGradient>
</defs>
<text x="5" y="792" font-size="30" fill="#000" text-anchor="start" font-weight="bold" >c</text>
<path d="M81.5 916.4 L124.7 916.4 Q131 932 165 935 L173.4 965.1 Q141 968 133.8 997.3 L74.4 997.3 Q68 968 34.6 965.1 L43.3 935 Q76 932 81.5 916.4 Z" transform="translate(0,8)" fill="#b6b8bc" stroke="#6a6a6a" stroke-width="1"/>
<path d="M34.6 965.1 V973.1 M173.4 965.1 V973.1 M74.4 997.3 V1005.3 M133.8 997.3 V1005.3" stroke="#6a6a6a" stroke-width="1"/>
<path d="M81.5 916.4 L124.7 916.4 Q131 932 165 935 L173.4 965.1 Q141 968 133.8 997.3 L74.4 997.3 Q68 968 34.6 965.1 L43.3 935 Q76 932 81.5 916.4 Z" fill="#dddee1" stroke="#6a6a6a" stroke-width="1"/>
<path d="M79.5 947 L110.2 936 L121.3 939.6 L122.3 959.1 L111.6 965.5 L82.5 953.5 Z" fill="#fff" stroke="#333" stroke-width="1"/>
<path d="M79.5 947 L110.2 936 L110.4 942.5 L81 952 Z" fill="#b9bbbf" stroke="#333" stroke-width="0.8"/>
<path d="M110.2 936 L121.3 939.6 L121.6 946 L110.4 942.5 Z" fill="#c9cbce" stroke="#333" stroke-width="0.8"/>
<rect x="104" y="838" width="6" height="100" fill="url(#cArr)"/>
<path d="M107 811 L122 847.5 L107 838.5 L92 847.5 Z" fill="#5b8dcf"/>
<path d="M84 891 A28 12.9 0 1 0 82 880" fill="none" stroke="#4fba8c" stroke-width="1.8" stroke-linecap="round"/>
<path d="M77.5 882.5 L86 872.5 L88.5 880.5 Z" fill="#4fba8c"/>
<path d="M109.6 951.5 H139.4 M109.6 951.5 V929" stroke="#e06a6a" stroke-width="1" stroke-dasharray="2.5 2" fill="none"/>
<path d="M139.4 951.5 C139 940 128 931 117 930" fill="none" stroke="#c8373b" stroke-width="1.8"/>
<path d="M111.5 929.5 L119.8 926.6 L119.2 933.8 Z" fill="#c8373b"/>
<circle cx="139.4" cy="951.5" r="2.3" fill="#c8373b"/>
<text x="139.8" y="933" font-size="21" fill="#c8373b" text-anchor="middle" >θ</text>
<text x="129" y="839" font-size="30" fill="#111" text-anchor="start" textLength="17" lengthAdjust="spacingAndGlyphs" font-style="italic" >e</text>
<text x="147" y="830.5" font-size="17" fill="#111" textLength="42" lengthAdjust="spacingAndGlyphs">(-<tspan font-style="italic">i</tspan>3<tspan fill="#c8373b">θ</tspan>)</text>
<text x="329.7" y="824.5" font-size="19" fill="#111" text-anchor="middle" textLength="71" lengthAdjust="spacingAndGlyphs" >Unit cell</text>
<path d="M301.9 866.4 H356.7 A40.5 40.5 0 0 0 397.2 906.9 V961.5 A40.5 40.5 0 0 0 356.7 1002 H301.9 A40.5 40.5 0 0 0 261.4 961.5 V906.9 A40.5 40.5 0 0 0 301.9 866.4 Z" fill="#dedfe4"/>
<path d="M301.9 866.4 A40.5 40.5 0 0 1 261.4 906.9 M356.7 866.4 A40.5 40.5 0 0 0 397.2 906.9 M397.2 961.5 A40.5 40.5 0 0 0 356.7 1002 M301.9 1002 A40.5 40.5 0 0 0 261.4 961.5" fill="none" stroke="#5f6a80" stroke-width="1.4"/>
<rect x="261.4" y="866.4" width="135.8" height="135.6" fill="none" stroke="#333" stroke-width="1.5" stroke-dasharray="7 4.2"/>
<path d="M302.4 927.9 L336.6 908.3 L348.4 914.5 L348.4 954 L336.6 960.1 L302.4 940.6 Z" fill="#fff" stroke="#2a6ab0" stroke-width="1.6" stroke-linejoin="round"/>
<path d="M268 854.8 H390" stroke="#858585" stroke-width="1.3"/>
<path d="M262 854.8 L271 851.2 L271 858.4 Z" fill="#858585"/>
<path d="M396.4 854.8 L387.4 858.4 L387.4 851.2 Z" fill="#858585"/>
<text x="330.7" y="846" font-size="15" fill="#858585" text-anchor="middle" font-style="italic" >p</text>
<path d="M262 867 L283 891" stroke="#858585" stroke-width="1.3"/>
<path d="M287.2 895.6 L279.5 891.7 L284.3 887.5 Z" fill="#858585"/>
<text x="280.5" y="880" font-size="15" fill="#858585" text-anchor="middle" font-style="italic" >r</text>
<path d="M329.7 934.4 H364.8 M329.7 934.4 V895.3" stroke="#e06a6a" stroke-width="1" stroke-dasharray="2.5 2" fill="none"/>
<path d="M364.8 934.4 C364.5 916 352 900.5 338 898.5" fill="none" stroke="#c8373b" stroke-width="1.6"/>
<path d="M331.5 897.8 L339.8 895.3 L339.1 902 Z" fill="#c8373b"/>
<circle cx="364.8" cy="934.4" r="2.3" fill="#c8373b"/>
<text x="365" y="911" font-size="20" fill="#c8373b" text-anchor="middle" >θ</text>
<path d="M290.6 928.3 H301.8 M290.6 940.6 H301.8" stroke="#858585" stroke-width="1" stroke-dasharray="1.5 1.5"/>
<path d="M295.6 918.6 V924 M295.6 949.5 V945" stroke="#858585" stroke-width="1"/>
<path d="M295.6 928 L293.4 923 L297.8 923 Z" fill="#858585"/>
<path d="M295.6 941 L297.8 946 L293.4 946 Z" fill="#858585"/>
<text x="282.6" y="938.5" font-size="15" fill="#858585" text-anchor="middle" font-style="italic" >d</text>
<path d="M304 948.3 L330 963.7" stroke="#858585" stroke-width="1.1"/>
<path d="M333.1 965.5 L326.7 964.6 L329.2 960.3 Z" fill="#858585"/>
<path d="M300.9 946.5 L307.3 947.4 L304.8 951.7 Z" fill="#858585"/>
<text x="311" y="967" font-size="15" fill="#858585" text-anchor="middle" font-style="italic" >w</text>
<text x="227.8" y="940.5" font-size="20" fill="#6b7488" text-anchor="middle" textLength="45.6" lengthAdjust="spacingAndGlyphs" >GaAs</text>
<path d="M243.5 985.7 V1018.8 H276.6" fill="none" stroke="#6b7390" stroke-width="2"/><path d="M243.5 979.7 L248.0 989.7 L243.5 987.7 L239.0 989.7 Z" fill="#6b7390"/><path d="M282.6 1018.8 L272.6 1014.3 L274.6 1018.8 L272.6 1023.3 Z" fill="#6b7390"/><text x="231.4" y="985" font-size="16" fill="#7a8194" text-anchor="middle" font-style="italic" >y</text><text x="291" y="1022" font-size="16" fill="#7a8194" text-anchor="middle" font-style="italic" >x</text>
<text x="540.8" y="823.5" font-size="19" fill="#111" text-anchor="middle" textLength="124" lengthAdjust="spacingAndGlyphs" >Cross-section</text>
<rect x="472.2" y="906" width="135.6" height="53.2" fill="#d3d6de"/>
<path d="M472.2 906 H607.8 M472.2 959.2 H607.8" stroke="#6e7a90" stroke-width="1.6"/>
<path d="M512.8 906 V959 M557.9 906 V959" stroke="#6e7a90" stroke-width="1.2" stroke-dasharray="4 3"/>
<path d="M484.3 934 C490 934 492 925.4 496.4 925.4 C501 925.4 503 934 509.4 934 Z" fill="#f8bb5e"/>
<path d="M472.2 934 H484.3 C490 934 492 925.4 496.4 925.4 C501 925.4 503 934 509.4 934 H606.3" fill="none" stroke="#e8644c" stroke-width="1"/>
<rect x="472.2" y="866.4" width="135.6" height="135.6" fill="none" stroke="#333" stroke-width="1.5" stroke-dasharray="7 4.2"/>
<text x="533.2" y="898" font-size="20" fill="#f4ae3d" text-anchor="middle" textLength="27" lengthAdjust="spacingAndGlyphs" >QD</text>
<path d="M516.9 897 C507 900 503 908 501.5 915" fill="none" stroke="#f4ae3d" stroke-width="1.5"/>
<path d="M500 920.5 L498.7 913 L504.5 914.4 Z" fill="#f4ae3d"/>
<path d="M460.4 919 V949" stroke="#858585" stroke-width="1.4"/>
<path d="M460.4 913.5 L463.8 921.5 L457 921.5 Z" fill="#858585"/>
<path d="M460.4 954.6 L457 946.6 L463.8 946.6 Z" fill="#858585"/>
<text x="447" y="938.5" font-size="16" fill="#858585" text-anchor="middle" font-style="italic" >h</text>
<text x="635.5" y="943" font-size="20" fill="#111" text-anchor="middle" textLength="23.7" lengthAdjust="spacingAndGlyphs" >Air</text>
<path d="M636 920.4 C628 906 615 899 599 897.5" fill="none" stroke="#111" stroke-width="1.4"/>
<path d="M593.2 896.7 L601.6 894.6 L600.7 901 Z" fill="#111"/>
<path d="M632.4 953 C627 966 614 973 600 974" fill="none" stroke="#111" stroke-width="1.4"/>
<path d="M594.2 974.4 L602 970.6 L602.4 977 Z" fill="#111"/>
<path d="M453.2 983.2 V1017.3 H486.7" fill="none" stroke="#6b7390" stroke-width="2"/><path d="M453.2 977.2 L457.7 987.2 L453.2 985.2 L448.7 987.2 Z" fill="#6b7390"/><path d="M492.7 1017.3 L482.7 1012.8 L484.7 1017.3 L482.7 1021.8 Z" fill="#6b7390"/><text x="440.5" y="986" font-size="16" fill="#7a8194" text-anchor="middle" font-style="italic" >z</text><text x="500.5" y="1021" font-size="16" fill="#7a8194" text-anchor="middle" font-style="italic" >x</text>
</g>
<g id="panel_d">
<defs>
<linearGradient id="rdbu" x1="0" x2="1" y1="0" y2="0"><stop offset="0" stop-color="#8e0d25"/><stop offset="0.1" stop-color="#b2182b"/><stop offset="0.2" stop-color="#d6604d"/><stop offset="0.3" stop-color="#f4a582"/><stop offset="0.4" stop-color="#fddbc7"/><stop offset="0.5" stop-color="#f7f7f7"/><stop offset="0.6" stop-color="#d1e5f0"/><stop offset="0.7" stop-color="#92c5de"/><stop offset="0.8" stop-color="#4393c3"/><stop offset="0.9" stop-color="#2166ac"/><stop offset="1.0" stop-color="#103a78"/></linearGradient>
<linearGradient id="blues" x1="0" x2="1" y1="0" y2="0"><stop offset="0" stop-color="#f7fbff"/><stop offset="0.25" stop-color="#cfe1f2"/><stop offset="0.5" stop-color="#6aaed6"/><stop offset="0.75" stop-color="#2070b4"/><stop offset="1" stop-color="#08306b"/></linearGradient>
<clipPath id="m1"><rect x="50.7" y="1163.3" width="133.7" height="133.2"/></clipPath>
<clipPath id="m2"><rect x="264" y="1163" width="133.6" height="133.2"/></clipPath>
<clipPath id="m3"><rect x="475.4" y="1163" width="133.7" height="133.3"/></clipPath>
<radialGradient id="ring" gradientUnits="userSpaceOnUse" cx="330.8" cy="1229.5" r="96">
<stop offset="0" stop-color="#f4f8fc"/><stop offset="0.12" stop-color="#e3edf7"/><stop offset="0.25" stop-color="#9cc3e3"/><stop offset="0.38" stop-color="#4f93cb"/><stop offset="0.5" stop-color="#5a9bd0"/><stop offset="0.62" stop-color="#8fbbe0"/><stop offset="0.78" stop-color="#cadff0"/><stop offset="1" stop-color="#e6eef7"/></radialGradient>
<radialGradient id="cornp"><stop offset="0" stop-color="#e9f0f8" stop-opacity="0.95"/><stop offset="0.6" stop-color="#e3ecf6" stop-opacity="0.75"/><stop offset="0.9" stop-color="#d5e4f2" stop-opacity="0.25"/><stop offset="1" stop-color="#d5e4f2" stop-opacity="0"/></radialGradient>
<linearGradient id="stripe" x1="0" x2="1"><stop offset="0" stop-color="#fff" stop-opacity="0"/><stop offset="0.5" stop-color="#fff" stop-opacity="0.9"/><stop offset="1" stop-color="#fff" stop-opacity="0"/></linearGradient>
<radialGradient id="blobL"><stop offset="0" stop-color="#0a3c86"/><stop offset="0.35" stop-color="#1b5aa6"/><stop offset="0.62" stop-color="#5a9bd0" stop-opacity="0.9"/><stop offset="0.85" stop-color="#b5d2ea" stop-opacity="0.5"/><stop offset="1" stop-color="#eef4fa" stop-opacity="0"/></radialGradient>
<radialGradient id="blobR"><stop offset="0" stop-color="#164f9c"/><stop offset="0.3" stop-color="#2a6bb2"/><stop offset="0.6" stop-color="#6aa6d6" stop-opacity="0.85"/><stop offset="0.85" stop-color="#b9d5eb" stop-opacity="0.5"/><stop offset="1" stop-color="#eef4fa" stop-opacity="0"/></radialGradient>
<filter id="dblur4" x="-30%" y="-30%" width="160%" height="160%"><feGaussianBlur stdDeviation="5"/></filter>
<filter id="dblur" x="-10%" y="-10%" width="120%" height="120%"><feGaussianBlur stdDeviation="1.2"/></filter>
</defs>
<text x="4" y="1114" font-size="30" fill="#000" text-anchor="start" font-weight="bold" >d</text>
<rect x="50.7" y="1136.4" width="133.7" height="7" fill="url(#rdbu)" stroke="#555" stroke-width="0.8"/><path d="M50.7 1132.5 V1137 M184.39999999999998 1132.5 V1137" stroke="#333" stroke-width="1"/><text x="50.7" y="1130.3" font-size="18" fill="#111" text-anchor="middle" >0</text><text x="183.7" y="1130.3" font-size="18" fill="#111" text-anchor="middle" >2π</text><text x="116.3" y="1118" font-size="17" fill="#111" text-anchor="middle" textLength="92" lengthAdjust="spacingAndGlyphs">arg(<tspan font-style="italic">E</tspan><tspan font-size="11" dy="3" font-style="italic" font-weight="bold">x</tspan><tspan dy="-3">+</tspan><tspan font-style="italic">iEy</tspan>)</text>
<rect x="263.4" y="1136.4" width="133.7" height="7" fill="url(#blues)" stroke="#555" stroke-width="0.8"/><path d="M263.4 1132.5 V1137 M397.09999999999997 1132.5 V1137" stroke="#333" stroke-width="1"/><text x="263.4" y="1130.3" font-size="18" fill="#111" text-anchor="middle" >0</text><text x="396.59999999999997" y="1130.3" font-size="18" fill="#111" text-anchor="middle" >1</text><text x="330" y="1119" font-size="17" fill="#111" text-anchor="middle">|<tspan font-style="italic">E</tspan>|</text>
<rect x="475.3" y="1136.4" width="133.7" height="7" fill="url(#blues)" stroke="#555" stroke-width="0.8"/><path d="M475.3 1132.5 V1137 M609.0 1132.5 V1137" stroke="#333" stroke-width="1"/><text x="475.3" y="1130.3" font-size="18" fill="#111" text-anchor="middle" >0</text><text x="608.5" y="1130.3" font-size="18" fill="#111" text-anchor="middle" >1</text><text x="542" y="1119" font-size="17" fill="#111" text-anchor="middle">|<tspan font-style="italic">E</tspan>|</text>
<g clip-path="url(#m1)"><g filter="url(#dblur)"><path d="M117.6 1230 L217.6 1230 L217.5 1224.6 Z" fill="#f5f6f7"/><path d="M117.6 1230 L217.5 1225.6 L217.1 1220.3 Z" fill="#f2f5f6"/><path d="M117.6 1230 L217.2 1221.3 L216.6 1216 Z" fill="#f0f3f6"/><path d="M117.6 1230 L216.7 1216.9 L215.9 1211.7 Z" fill="#edf2f5"/><path d="M117.6 1230 L216.1 1212.6 L215 1207.4 Z" fill="#eaf1f5"/><path d="M117.6 1230 L215.2 1208.4 L213.9 1203.2 Z" fill="#e7eff4"/><path d="M117.6 1230 L214.2 1204.1 L212.7 1199 Z" fill="#e4eef4"/><path d="M117.6 1230 L213 1199.9 L211.2 1194.9 Z" fill="#e1edf3"/><path d="M117.6 1230 L211.6 1195.8 L209.6 1190.8 Z" fill="#dfecf3"/><path d="M117.6 1230 L210 1191.7 L207.8 1186.8 Z" fill="#ddeaf2"/><path d="M117.6 1230 L208.2 1187.7 L205.8 1182.9 Z" fill="#dae9f2"/><path d="M117.6 1230 L206.3 1183.8 L203.7 1179.1 Z" fill="#d8e8f1"/><path d="M117.6 1230 L204.2 1180 L201.4 1175.4 Z" fill="#d6e7f1"/><path d="M117.6 1230 L201.9 1176.3 L198.9 1171.8 Z" fill="#d3e6f0"/><path d="M117.6 1230 L199.5 1172.6 L196.3 1168.3 Z" fill="#d1e5f0"/><path d="M117.6 1230 L196.9 1169.1 L193.6 1165 Z" fill="#cde3ef"/><path d="M117.6 1230 L194.2 1165.7 L190.6 1161.7 Z" fill="#cae1ee"/><path d="M117.6 1230 L191.3 1162.4 L187.6 1158.6 Z" fill="#c6dfed"/><path d="M117.6 1230 L188.3 1159.3 L184.4 1155.6 Z" fill="#c2ddec"/><path d="M117.6 1230 L185.2 1156.3 L181.1 1152.8 Z" fill="#bedbeb"/><path d="M117.6 1230 L181.9 1153.4 L177.7 1150.1 Z" fill="#bad9e9"/><path d="M117.6 1230 L178.5 1150.7 L174.1 1147.5 Z" fill="#b6d7e8"/><path d="M117.6 1230 L175 1148.1 L170.5 1145.1 Z" fill="#b2d5e7"/><path d="M117.6 1230 L171.3 1145.7 L166.7 1142.9 Z" fill="#aed3e6"/><path d="M117.6 1230 L167.6 1143.4 L162.9 1140.8 Z" fill="#aad1e5"/><path d="M117.6 1230 L163.8 1141.3 L159 1139 Z" fill="#a6cfe4"/><path d="M117.6 1230 L159.9 1139.4 L154.9 1137.2 Z" fill="#a1cde2"/><path d="M117.6 1230 L155.9 1137.6 L150.9 1135.7 Z" fill="#9bc9e0"/><path d="M117.6 1230 L151.8 1136 L146.7 1134.3 Z" fill="#94c6df"/><path d="M117.6 1230 L147.7 1134.6 L142.5 1133.2 Z" fill="#8dc2dc"/><path d="M117.6 1230 L143.5 1133.4 L138.3 1132.2 Z" fill="#85bdda"/><path d="M117.6 1230 L139.2 1132.4 L134 1131.4 Z" fill="#7db8d7"/><path d="M117.6 1230 L135 1131.5 L129.7 1130.7 Z" fill="#75b2d4"/><path d="M117.6 1230 L130.7 1130.9 L125.3 1130.3 Z" fill="#6badd1"/><path d="M117.6 1230 L126.3 1130.4 L121 1130.1 Z" fill="#62a7ce"/><path d="M117.6 1230 L122 1130.1 L116.6 1130 Z" fill="#59a1cb"/><path d="M117.6 1230 L117.6 1130 L112.2 1130.1 Z" fill="#509bc7"/><path d="M117.6 1230 L113.2 1130.1 L107.9 1130.5 Z" fill="#4795c4"/><path d="M117.6 1230 L108.9 1130.4 L103.6 1131 Z" fill="#4190c1"/><path d="M117.6 1230 L104.5 1130.9 L99.3 1131.7 Z" fill="#3d8bbf"/><path d="M117.6 1230 L100.2 1131.5 L95 1132.6 Z" fill="#3985bc"/><path d="M117.6 1230 L96 1132.4 L90.8 1133.7 Z" fill="#3580b9"/><path d="M117.6 1230 L91.7 1133.4 L86.6 1134.9 Z" fill="#317bb7"/><path d="M117.6 1230 L87.5 1134.6 L82.5 1136.4 Z" fill="#2d76b4"/><path d="M117.6 1230 L83.4 1136 L78.4 1138 Z" fill="#2a71b2"/><path d="M117.6 1230 L79.3 1137.6 L74.4 1139.8 Z" fill="#276eb0"/><path d="M117.6 1230 L75.3 1139.4 L70.5 1141.8 Z" fill="#256bae"/><path d="M117.6 1230 L71.4 1141.3 L66.7 1143.9 Z" fill="#2267ad"/><path d="M117.6 1230 L67.6 1143.4 L63 1146.2 Z" fill="#2064aa"/><path d="M117.6 1230 L63.9 1145.7 L59.4 1148.7 Z" fill="#1f61a6"/><path d="M117.6 1230 L60.2 1148.1 L55.9 1151.3 Z" fill="#1e5da2"/><path d="M117.6 1230 L56.7 1150.7 L52.6 1154 Z" fill="#1c5a9e"/><path d="M117.6 1230 L53.3 1153.4 L49.3 1157 Z" fill="#1c589b"/><path d="M117.6 1230 L50 1156.3 L46.2 1160 Z" fill="#1b5699"/><path d="M117.6 1230 L46.9 1159.3 L43.2 1163.2 Z" fill="#1a5497"/><path d="M117.6 1230 L43.9 1162.4 L40.4 1166.5 Z" fill="#1a5395"/><path d="M117.6 1230 L41 1165.7 L37.7 1169.9 Z" fill="#195193"/><path d="M117.6 1230 L38.3 1169.1 L35.1 1173.5 Z" fill="#185091"/><path d="M117.6 1230 L35.7 1172.6 L32.7 1177.1 Z" fill="#184e90"/><path d="M117.6 1230 L33.3 1176.3 L30.5 1180.9 Z" fill="#174c8e"/><path d="M117.6 1230 L31 1180 L28.4 1184.7 Z" fill="#174b8c"/><path d="M117.6 1230 L28.9 1183.8 L26.6 1188.6 Z" fill="#164a8b"/><path d="M117.6 1230 L27 1187.7 L24.8 1192.7 Z" fill="#16498a"/><path d="M117.6 1230 L25.2 1191.7 L23.3 1196.7 Z" fill="#164889"/><path d="M117.6 1230 L23.6 1195.8 L21.9 1200.9 Z" fill="#154788"/><path d="M117.6 1230 L22.2 1199.9 L20.8 1205.1 Z" fill="#154687"/><path d="M117.6 1230 L21 1204.1 L19.8 1209.3 Z" fill="#144686"/><path d="M117.6 1230 L20 1208.4 L19 1213.6 Z" fill="#144585"/><path d="M117.6 1230 L19.1 1212.6 L18.3 1217.9 Z" fill="#144483"/><path d="M117.6 1230 L18.5 1216.9 L17.9 1222.3 Z" fill="#134382"/><path d="M117.6 1230 L18 1221.3 L17.7 1226.6 Z" fill="#134281"/><path d="M117.6 1230 L17.7 1225.6 L17.6 1231 Z" fill="#134180"/><path d="M117.6 1230 L17.6 1230 L17.7 1235.4 Z" fill="#9a1127"/><path d="M117.6 1230 L17.7 1234.4 L18.1 1239.7 Z" fill="#9d1127"/><path d="M117.6 1230 L18 1238.7 L18.6 1244 Z" fill="#9f1228"/><path d="M117.6 1230 L18.5 1243.1 L19.3 1248.3 Z" fill="#a11328"/><path d="M117.6 1230 L19.1 1247.4 L20.2 1252.6 Z" fill="#a41429"/><path d="M117.6 1230 L20 1251.6 L21.3 1256.8 Z" fill="#a61429"/><path d="M117.6 1230 L21 1255.9 L22.5 1261 Z" fill="#a9152a"/><path d="M117.6 1230 L22.2 1260.1 L24 1265.1 Z" fill="#ac162a"/><path d="M117.6 1230 L23.6 1264.2 L25.6 1269.2 Z" fill="#af172b"/><path d="M117.6 1230 L25.2 1268.3 L27.4 1273.2 Z" fill="#b2182b"/><path d="M117.6 1230 L27 1272.3 L29.4 1277.1 Z" fill="#b51e2e"/><path d="M117.6 1230 L28.9 1276.2 L31.5 1280.9 Z" fill="#b82431"/><path d="M117.6 1230 L31 1280 L33.8 1284.6 Z" fill="#bb2933"/><path d="M117.6 1230 L33.3 1283.7 L36.3 1288.2 Z" fill="#bd2e35"/><path d="M117.6 1230 L35.7 1287.4 L38.9 1291.7 Z" fill="#bf3338"/><path d="M117.6 1230 L38.3 1290.9 L41.6 1295 Z" fill="#c2383a"/><path d="M117.6 1230 L41 1294.3 L44.6 1298.3 Z" fill="#c43d3c"/><path d="M117.6 1230 L43.9 1297.6 L47.6 1301.4 Z" fill="#c7413f"/><path d="M117.6 1230 L46.9 1300.7 L50.8 1304.4 Z" fill="#c6413e"/><path d="M117.6 1230 L50 1303.7 L54.1 1307.2 Z" fill="#c53d3d"/><path d="M117.6 1230 L53.3 1306.6 L57.5 1309.9 Z" fill="#c33a3b"/><path d="M117.6 1230 L56.7 1309.3 L61.1 1312.5 Z" fill="#c13639"/><path d="M117.6 1230 L60.2 1311.9 L64.7 1314.9 Z" fill="#bf3338"/><path d="M117.6 1230 L63.9 1314.3 L68.5 1317.1 Z" fill="#bd2f36"/><path d="M117.6 1230 L67.6 1316.6 L72.3 1319.2 Z" fill="#bb2a33"/><path d="M117.6 1230 L71.4 1318.7 L76.2 1321 Z" fill="#b82431"/><path d="M117.6 1230 L75.3 1320.6 L80.3 1322.8 Z" fill="#b51e2e"/><path d="M117.6 1230 L79.3 1322.4 L84.3 1324.3 Z" fill="#b2182b"/><path d="M117.6 1230 L83.4 1324 L88.5 1325.7 Z" fill="#af172a"/><path d="M117.6 1230 L87.5 1325.4 L92.7 1326.8 Z" fill="#ac162a"/><path d="M117.6 1230 L91.7 1326.6 L96.9 1327.8 Z" fill="#a9152a"/><path d="M117.6 1230 L96 1327.6 L101.2 1328.6 Z" fill="#a61429"/><path d="M117.6 1230 L100.2 1328.5 L105.5 1329.3 Z" fill="#a41429"/><path d="M117.6 1230 L104.5 1329.1 L109.9 1329.7 Z" fill="#a11328"/><path d="M117.6 1230 L108.9 1329.6 L114.2 1329.9 Z" fill="#ae172a"/><path d="M117.6 1230 L113.2 1329.9 L118.6 1330 Z" fill="#c43d3c"/><path d="M117.6 1230 L117.6 1330 L123 1329.9 Z" fill="#da6954"/><path d="M117.6 1230 L122 1329.9 L127.3 1329.5 Z" fill="#ed9475"/><path d="M117.6 1230 L126.3 1329.6 L131.6 1329 Z" fill="#f5a988"/><path d="M117.6 1230 L130.7 1329.1 L135.9 1328.3 Z" fill="#f6b191"/><path d="M117.6 1230 L135 1328.5 L140.2 1327.4 Z" fill="#f7b89a"/><path d="M117.6 1230 L139.2 1327.6 L144.4 1326.3 Z" fill="#f8bfa3"/><path d="M117.6 1230 L143.5 1326.6 L148.6 1325.1 Z" fill="#fac6ac"/><path d="M117.6 1230 L147.7 1325.4 L152.7 1323.6 Z" fill="#fbcdb6"/><path d="M117.6 1230 L151.8 1324 L156.8 1322 Z" fill="#fbd1ba"/><path d="M117.6 1230 L155.9 1322.4 L160.8 1320.2 Z" fill="#fcd3bd"/><path d="M117.6 1230 L159.9 1320.6 L164.7 1318.2 Z" fill="#fcd4bf"/><path d="M117.6 1230 L163.8 1318.7 L168.5 1316.1 Z" fill="#fcd6c1"/><path d="M117.6 1230 L167.6 1316.6 L172.2 1313.8 Z" fill="#fcd8c3"/><path d="M117.6 1230 L171.3 1314.3 L175.8 1311.3 Z" fill="#fdd9c5"/><path d="M117.6 1230 L175 1311.9 L179.3 1308.7 Z" fill="#fddbc7"/><path d="M117.6 1230 L178.5 1309.3 L182.6 1306 Z" fill="#fddcc8"/><path d="M117.6 1230 L181.9 1306.6 L185.9 1303 Z" fill="#fdddca"/><path d="M117.6 1230 L185.2 1303.7 L189 1300 Z" fill="#fcddcb"/><path d="M117.6 1230 L188.3 1300.7 L192 1296.8 Z" fill="#fcdecd"/><path d="M117.6 1230 L191.3 1297.6 L194.8 1293.5 Z" fill="#fce0cf"/><path d="M117.6 1230 L194.2 1294.3 L197.5 1290.1 Z" fill="#fce1d1"/><path d="M117.6 1230 L196.9 1290.9 L200.1 1286.5 Z" fill="#fce2d3"/><path d="M117.6 1230 L199.5 1287.4 L202.5 1282.9 Z" fill="#fbe3d5"/><path d="M117.6 1230 L201.9 1283.7 L204.7 1279.1 Z" fill="#fbe4d7"/><path d="M117.6 1230 L204.2 1280 L206.8 1275.3 Z" fill="#fbe5d9"/><path d="M117.6 1230 L206.3 1276.2 L208.6 1271.4 Z" fill="#fbe6da"/><path d="M117.6 1230 L208.2 1272.3 L210.4 1267.3 Z" fill="#fae7dc"/><path d="M117.6 1230 L210 1268.3 L211.9 1263.3 Z" fill="#fae9de"/><path d="M117.6 1230 L211.6 1264.2 L213.3 1259.1 Z" fill="#faeae1"/><path d="M117.6 1230 L213 1260.1 L214.4 1254.9 Z" fill="#f9ece4"/><path d="M117.6 1230 L214.2 1255.9 L215.4 1250.7 Z" fill="#f9eee7"/><path d="M117.6 1230 L215.2 1251.6 L216.2 1246.4 Z" fill="#f9efea"/><path d="M117.6 1230 L216.1 1247.4 L216.9 1242.1 Z" fill="#f8f1ed"/><path d="M117.6 1230 L216.7 1243.1 L217.3 1237.7 Z" fill="#f8f3f0"/><path d="M117.6 1230 L217.2 1238.7 L217.5 1233.4 Z" fill="#f8f5f3"/><path d="M117.6 1230 L217.5 1234.4 L217.6 1229 Z" fill="#f7f6f6"/></g></g>
<path d="M92.0 1163.3 A41.3 41.3 0 0 1 50.7 1204.6 M143.10000000000002 1163.3 A41.3 41.3 0 0 0 184.4 1204.6 M184.4 1255.2 A41.3 41.3 0 0 0 143.10000000000002 1296.5 M92.0 1296.5 A41.3 41.3 0 0 0 50.7 1255.2" fill="none" stroke="#222" stroke-width="0.9"/><path d="M90.1 1223.7 L124.5 1203.6 L136.5 1210.1 L136.5 1249.2 L124.5 1255.6 L90.1 1235.5 Z" fill="none" stroke="#222" stroke-width="1.0" stroke-linejoin="round"/><rect x="50.7" y="1163.3" width="133.7" height="133.2" fill="none" stroke="#555" stroke-width="1"/>
<path d="M81.3 1229.3 A36.6 36.6 0 1 0 95.4 1200.5" fill="none" stroke="#f39a2a" stroke-width="2"/>
<path d="M90.5 1206 L99 1194.5 L101.5 1204.5 Z" fill="#f39a2a" stroke="#f39a2a" stroke-width="1" stroke-linejoin="round"/>
<text x="77.5" y="1219.5" font-size="15" fill="#f39a2a" text-anchor="middle" font-weight="bold" >+1</text>
<path d="M38.4 1274.3 V1307.5 H71.6" fill="none" stroke="#6b7390" stroke-width="2"/><path d="M38.4 1268.3 L42.9 1278.3 L38.4 1276.3 L33.9 1278.3 Z" fill="#6b7390"/><path d="M77.6 1307.5 L67.6 1303.0 L69.6 1307.5 L67.6 1312.0 Z" fill="#6b7390"/><text x="37" y="1262" font-size="16" fill="#7a8194" text-anchor="middle" font-style="italic" >y</text><text x="85.4" y="1312" font-size="16" fill="#7a8194" text-anchor="middle" font-style="italic" >x</text>
<rect x="264" y="1163" width="133.6" height="133.2" fill="url(#ring)"/>
<g clip-path="url(#m2)"><circle cx="264" cy="1163" r="46" fill="url(#cornp)"/><circle cx="397.6" cy="1163" r="46" fill="url(#cornp)"/><circle cx="264" cy="1296.2" r="46" fill="url(#cornp)"/><circle cx="397.6" cy="1296.2" r="46" fill="url(#cornp)"/></g>
<g clip-path="url(#m2)" stroke="#fff" stroke-width="0.8" stroke-linecap="round" opacity="0.8"><path d="M267.6 1165.8 L266.8 1166.6" opacity="0.4"/><path d="M267.6 1172.1 L266.8 1173" opacity="0.4"/><path d="M267.6 1178.3 L266.7 1179.4" opacity="0.4"/><path d="M267.6 1184.5 L266.7 1185.9" opacity="0.4"/><path d="M267.7 1190.7 L266.7 1192.4" opacity="0.5"/><path d="M267.7 1196.9 L266.7 1198.9" opacity="0.5"/><path d="M267.7 1203 L266.7 1205.4" opacity="0.6"/><path d="M267.6 1209.2 L266.8 1211.9" opacity="0.6"/><path d="M267.5 1215.4 L266.9 1218.4" opacity="0.7"/><path d="M267.3 1221.7 L267 1224.9" opacity="0.7"/><path d="M267.2 1228 L267.2 1231.2" opacity="0.7"/><path d="M267 1234.3 L267.3 1237.5" opacity="0.7"/><path d="M266.9 1240.8 L267.5 1243.8" opacity="0.7"/><path d="M266.8 1247.3 L267.6 1250" opacity="0.6"/><path d="M266.7 1253.8 L267.7 1256.2" opacity="0.6"/><path d="M266.7 1260.3 L267.7 1262.3" opacity="0.5"/><path d="M266.7 1266.8 L267.7 1268.5" opacity="0.5"/><path d="M266.7 1273.3 L267.6 1274.7" opacity="0.4"/><path d="M266.7 1279.8 L267.6 1280.9" opacity="0.4"/><path d="M266.8 1286.2 L267.6 1287.1" opacity="0.4"/><path d="M266.8 1292.6 L267.6 1293.4" opacity="0.4"/><path d="M274 1165.8 L273.1 1166.6" opacity="0.4"/><path d="M274 1172 L273 1173" opacity="0.4"/><path d="M274.1 1178.2 L273 1179.5" opacity="0.5"/><path d="M274.2 1184.4 L272.9 1186" opacity="0.5"/><path d="M274.2 1190.5 L272.8 1192.6" opacity="0.6"/><path d="M274.3 1196.6 L272.8 1199.2" opacity="0.6"/><path d="M274.2 1202.7 L272.9 1205.8" opacity="0.7"/><path d="M274.1 1208.8 L273 1212.4" opacity="0.8"/><path d="M274 1214.9 L273.1 1218.9" opacity="0.8"/><path d="M273.8 1221.2 L273.3 1225.3" opacity="0.8"/><path d="M273.5 1227.5 L273.5 1231.7" opacity="0.8"/><path d="M273.3 1233.9 L273.8 1238" opacity="0.8"/><path d="M273.1 1240.3 L274 1244.3" opacity="0.8"/><path d="M272.9 1246.8 L274.1 1250.4" opacity="0.8"/><path d="M272.9 1253.4 L274.2 1256.5" opacity="0.7"/><path d="M272.8 1260 L274.3 1262.6" opacity="0.6"/><path d="M272.8 1266.6 L274.2 1268.7" opacity="0.6"/><path d="M272.9 1273.2 L274.2 1274.8" opacity="0.5"/><path d="M273 1279.7 L274.1 1281" opacity="0.5"/><path d="M273 1286.2 L274 1287.2" opacity="0.4"/><path d="M273.1 1292.6 L274 1293.4" opacity="0.4"/><path d="M280.4 1165.7 L279.4 1166.6" opacity="0.4"/><path d="M280.5 1171.9 L279.3 1173.1" opacity="0.5"/><path d="M280.7 1178.1 L279.1 1179.6" opacity="0.5"/><path d="M280.8 1184.2 L279 1186.2" opacity="0.6"/><path d="M280.9 1190.2 L278.9 1192.9" opacity="0.7"/><path d="M280.9 1196.3 L278.9 1199.5" opacity="0.8"/><path d="M280.9 1202.3 L278.9 1206.2" opacity="0.8"/><path d="M280.7 1208.4 L279.1 1212.8" opacity="0.9"/><path d="M280.5 1214.5 L279.3 1219.3" opacity="0.9"/><path d="M280.2 1220.8 L279.6 1225.7" opacity="0.9"/><path d="M279.9 1227.1 L279.9 1232.1" opacity="0.9"/><path d="M279.6 1233.5 L280.2 1238.4" opacity="0.9"/><path d="M279.3 1239.9 L280.5 1244.7" opacity="0.9"/><path d="M279.1 1246.5 L280.7 1250.8" opacity="0.9"/><path d="M278.9 1253.1 L280.9 1256.9" opacity="0.8"/><path d="M278.9 1259.7 L280.9 1262.9" opacity="0.8"/><path d="M278.9 1266.4 L280.9 1269" opacity="0.7"/><path d="M279 1273 L280.8 1275" opacity="0.6"/><path d="M279.2 1279.6 L280.7 1281.1" opacity="0.5"/><path d="M279.3 1286.1 L280.5 1287.3" opacity="0.5"/><path d="M279.4 1292.6 L280.4 1293.5" opacity="0.4"/><path d="M286.9 1165.7 L285.6 1166.6" opacity="0.4"/><path d="M287.1 1171.9 L285.4 1173.2" opacity="0.5"/><path d="M287.3 1178 L285.3 1179.7" opacity="0.6"/><path d="M287.5 1184 L285.1 1186.4" opacity="0.7"/><path d="M287.6 1190 L285 1193.1" opacity="0.8"/><path d="M287.6 1196 L284.9 1199.8" opacity="0.9"/><path d="M287.5 1202 L285 1206.4" opacity="0.9"/><path d="M287.3 1208.2 L285.2 1213" opacity="1"/><path d="M287 1214.3 L285.5 1219.5" opacity="1"/><path d="M286.6 1220.6 L285.9 1225.9" opacity="1"/><path d="M286.3 1226.9 L286.3 1232.3" opacity="1"/><path d="M285.9 1233.3 L286.7 1238.6" opacity="1"/><path d="M285.5 1239.7 L287 1244.9" opacity="1"/><path d="M285.2 1246.2 L287.3 1251" opacity="1"/><path d="M285 1252.8 L287.5 1257.1" opacity="0.9"/><path d="M284.9 1259.4 L287.6 1263.2" opacity="0.9"/><path d="M285 1266.1 L287.6 1269.2" opacity="0.8"/><path d="M285.1 1272.8 L287.5 1275.2" opacity="0.7"/><path d="M285.3 1279.5 L287.3 1281.2" opacity="0.6"/><path d="M285.4 1286 L287.1 1287.3" opacity="0.5"/><path d="M285.6 1292.6 L286.9 1293.5" opacity="0.4"/><path d="M293.5 1165.7 L291.8 1166.7" opacity="0.5"/><path d="M293.7 1171.8 L291.6 1173.2" opacity="0.6"/><path d="M293.9 1177.9 L291.3 1179.8" opacity="0.7"/><path d="M294.2 1183.9 L291.1 1186.5" opacity="0.8"/><path d="M294.3 1189.9 L291 1193.2" opacity="0.9"/><path d="M294.3 1195.9 L291 1199.9" opacity="1"/><path d="M294.1 1202 L291.1 1206.5" opacity="1"/><path d="M293.8 1208.2 L291.4 1213" opacity="1"/><path d="M293.5 1214.4 L291.8 1219.4" opacity="1"/><path d="M293 1220.7 L292.2 1225.8" opacity="1"/><path d="M292.6 1227 L292.6 1232.2" opacity="1"/><path d="M292.2 1233.4 L293.1 1238.5" opacity="1"/><path d="M291.8 1239.8 L293.5 1244.8" opacity="1"/><path d="M291.4 1246.2 L293.8 1251" opacity="1"/><path d="M291.1 1252.7 L294.1 1257.2" opacity="1"/><path d="M291 1259.3 L294.3 1263.3" opacity="1"/><path d="M291 1266 L294.3 1269.3" opacity="0.9"/><path d="M291.1 1272.7 L294.2 1275.3" opacity="0.8"/><path d="M291.3 1279.4 L293.9 1281.3" opacity="0.7"/><path d="M291.6 1286 L293.7 1287.4" opacity="0.6"/><path d="M291.8 1292.5 L293.4 1293.5" opacity="0.5"/><path d="M300 1165.7 L298 1166.7" opacity="0.5"/><path d="M300.3 1171.8 L297.7 1173.2" opacity="0.6"/><path d="M300.6 1177.8 L297.4 1179.9" opacity="0.8"/><path d="M300.9 1183.9 L297.1 1186.5" opacity="0.9"/><path d="M301 1189.9 L297 1193.2" opacity="1"/><path d="M300.9 1196 L297.1 1199.8" opacity="1"/><path d="M300.6 1202.1 L297.3 1206.3" opacity="1"/><path d="M300.3 1208.4 L297.7 1212.7" opacity="0.9"/><path d="M299.9 1214.7 L298.1 1219.1" opacity="0.9"/><path d="M299.4 1221.1 L298.6 1225.5" opacity="0.9"/><path d="M299 1227.4 L299 1231.8" opacity="0.9"/><path d="M298.5 1233.7 L299.4 1238.1" opacity="0.9"/><path d="M298.1 1240.1 L299.9 1244.5" opacity="0.9"/><path d="M297.7 1246.5 L300.3 1250.8" opacity="0.9"/><path d="M297.3 1252.9 L300.7 1257" opacity="1"/><path d="M297.1 1259.4 L300.9 1263.2" opacity="1"/><path d="M297 1266 L301 1269.3" opacity="1"/><path d="M297.1 1272.7 L300.9 1275.3" opacity="0.9"/><path d="M297.4 1279.3 L300.6 1281.4" opacity="0.8"/><path d="M297.7 1286 L300.3 1287.4" opacity="0.6"/><path d="M298 1292.5 L300 1293.5" opacity="0.5"/><path d="M306.6 1165.7 L304.2 1166.7" opacity="0.6"/><path d="M306.9 1171.8 L303.8 1173.2" opacity="0.7"/><path d="M307.3 1177.9 L303.4 1179.8" opacity="0.8"/><path d="M307.5 1183.9 L303.2 1186.5" opacity="0.9"/><path d="M307.6 1190 L303.1 1193" opacity="1"/><path d="M307.4 1196.2 L303.3 1199.6" opacity="1"/><path d="M307.1 1202.5 L303.6 1206" opacity="0.9"/><path d="M306.7 1208.8 L304 1212.3" opacity="0.9"/><path d="M306.2 1215.2 L304.5 1218.7" opacity="0.8"/><path d="M305.8 1221.5 L304.9 1225" opacity="0.7"/><path d="M305.3 1227.9 L305.4 1231.3" opacity="0.7"/><path d="M304.9 1234.2 L305.8 1237.7" opacity="0.7"/><path d="M304.5 1240.5 L306.2 1244" opacity="0.8"/><path d="M304 1246.9 L306.7 1250.4" opacity="0.9"/><path d="M303.6 1253.2 L307.1 1256.7" opacity="0.9"/><path d="M303.3 1259.7 L307.4 1263" opacity="1"/><path d="M303.1 1266.2 L307.6 1269.1" opacity="1"/><path d="M303.2 1272.8 L307.5 1275.2" opacity="0.9"/><path d="M303.4 1279.4 L307.3 1281.3" opacity="0.8"/><path d="M303.8 1286 L306.9 1287.4" opacity="0.7"/><path d="M304.2 1292.6 L306.5 1293.5" opacity="0.6"/><path d="M313.1 1165.8 L310.3 1166.6" opacity="0.6"/><path d="M313.5 1171.9 L309.9 1173.1" opacity="0.8"/><path d="M313.9 1178 L309.5 1179.7" opacity="0.9"/><path d="M314.1 1184.2 L309.3 1186.2" opacity="1"/><path d="M314.1 1190.3 L309.3 1192.8" opacity="1"/><path d="M313.9 1196.6 L309.6 1199.2" opacity="0.9"/><path d="M313.5 1202.9 L310 1205.5" opacity="0.8"/><path d="M313 1209.3 L310.4 1211.9" opacity="0.7"/><path d="M312.5 1215.7 L310.9 1218.2" opacity="0.6"/><path d="M312.1 1222 L311.3 1224.5" opacity="0.6"/><path d="M311.7 1228.4 L311.7 1230.8" opacity="0.6"/><path d="M311.3 1234.7 L312.1 1237.2" opacity="0.6"/><path d="M310.9 1241 L312.6 1243.5" opacity="0.7"/><path d="M310.4 1247.3 L313 1249.9" opacity="0.7"/><path d="M310 1253.7 L313.5 1256.3" opacity="0.9"/><path d="M309.5 1260 L313.9 1262.6" opacity="0.9"/><path d="M309.3 1266.5 L314.1 1268.9" opacity="1"/><path d="M309.3 1273 L314.1 1275" opacity="1"/><path d="M309.5 1279.5 L313.9 1281.2" opacity="0.9"/><path d="M309.9 1286.1 L313.5 1287.3" opacity="0.8"/><path d="M310.3 1292.6 L313.1 1293.4" opacity="0.6"/><path d="M319.6 1165.9 L316.6 1166.5" opacity="0.7"/><path d="M320.1 1172.1 L316.1 1173" opacity="0.8"/><path d="M320.5 1178.3 L315.7 1179.5" opacity="0.9"/><path d="M320.7 1184.5 L315.5 1185.9" opacity="1"/><path d="M320.6 1190.7 L315.6 1192.4" opacity="1"/><path d="M320.3 1197 L315.9 1198.8" opacity="0.9"/><path d="M319.8 1203.4 L316.3 1205.1" opacity="0.8"/><path d="M319.3 1209.7 L316.8 1211.4" opacity="0.6"/><path d="M318.9 1216.1 L317.3 1217.7" opacity="0.5"/><path d="M318.5 1222.4 L317.6 1224.1" opacity="0.5"/><path d="M317.6 1235.1 L318.5 1236.8" opacity="0.5"/><path d="M317.2 1241.5 L318.9 1243.1" opacity="0.6"/><path d="M316.8 1247.8 L319.3 1249.5" opacity="0.7"/><path d="M316.3 1254.1 L319.8 1255.8" opacity="0.8"/><path d="M315.9 1260.4 L320.3 1262.2" opacity="0.9"/><path d="M315.6 1266.8 L320.6 1268.5" opacity="1"/><path d="M315.5 1273.3 L320.7 1274.7" opacity="1"/><path d="M315.7 1279.7 L320.4 1280.9" opacity="0.9"/><path d="M316.1 1286.2 L320 1287.1" opacity="0.8"/><path d="M316.6 1292.7 L319.6 1293.3" opacity="0.7"/><path d="M326.1 1166 L322.8 1166.3" opacity="0.7"/><path d="M326.5 1172.3 L322.3 1172.7" opacity="0.8"/><path d="M326.9 1178.5 L321.9 1179.2" opacity="0.9"/><path d="M327.1 1184.8 L321.8 1185.6" opacity="1"/><path d="M327 1191.1 L321.9 1192" opacity="1"/><path d="M326.6 1197.4 L322.3 1198.3" opacity="0.9"/><path d="M326.1 1203.8 L322.7 1204.7" opacity="0.7"/><path d="M325.7 1210.2 L323.2 1211" opacity="0.6"/><path d="M325.3 1216.5 L323.6 1217.4" opacity="0.5"/><path d="M323.6 1241.9 L325.3 1242.7" opacity="0.5"/><path d="M323.2 1248.2 L325.7 1249" opacity="0.6"/><path d="M322.7 1254.5 L326.2 1255.4" opacity="0.7"/><path d="M322.2 1260.9 L326.6 1261.8" opacity="0.9"/><path d="M321.9 1267.2 L327 1268.1" opacity="1"/><path d="M321.8 1273.6 L327.1 1274.4" opacity="1"/><path d="M321.9 1280 L326.9 1280.7" opacity="0.9"/><path d="M322.4 1286.5 L326.5 1286.9" opacity="0.8"/><path d="M322.8 1292.9 L326 1293.2" opacity="0.7"/><path d="M332.5 1166.2 L329.1 1166.2" opacity="0.7"/><path d="M332.9 1172.5 L328.7 1172.5" opacity="0.8"/><path d="M333.3 1178.9 L328.3 1178.9" opacity="1"/><path d="M333.5 1185.2 L328.1 1185.2" opacity="1"/><path d="M333.4 1191.5 L328.2 1191.5" opacity="1"/><path d="M333 1197.9 L328.6 1197.9" opacity="0.8"/><path d="M332.5 1204.2 L329.1 1204.2" opacity="0.7"/><path d="M332 1210.6 L329.6 1210.6" opacity="0.6"/><path d="M329.5 1248.6 L332.1 1248.6" opacity="0.6"/><path d="M329.1 1255 L332.5 1255" opacity="0.7"/><path d="M328.6 1261.3 L333 1261.3" opacity="0.9"/><path d="M328.2 1267.7 L333.4 1267.7" opacity="1"/><path d="M328.1 1274 L333.5 1274" opacity="1"/><path d="M328.3 1280.3 L333.3 1280.3" opacity="0.9"/><path d="M328.7 1286.7 L332.9 1286.7" opacity="0.8"/><path d="M329.2 1293 L332.4 1293" opacity="0.7"/><path d="M338.8 1166.3 L335.5 1166" opacity="0.7"/><path d="M339.3 1172.7 L335.1 1172.3" opacity="0.8"/><path d="M339.7 1179.2 L334.7 1178.5" opacity="0.9"/><path d="M339.8 1185.6 L334.5 1184.8" opacity="1"/><path d="M339.7 1192 L334.6 1191.1" opacity="1"/><path d="M339.3 1198.3 L335 1197.4" opacity="0.9"/><path d="M338.9 1204.7 L335.5 1203.8" opacity="0.7"/><path d="M338.4 1211 L335.9 1210.2" opacity="0.6"/><path d="M338 1217.4 L336.3 1216.5" opacity="0.5"/><path d="M336.3 1242.7 L338 1241.9" opacity="0.5"/><path d="M335.9 1249 L338.4 1248.2" opacity="0.6"/><path d="M335.4 1255.4 L338.9 1254.5" opacity="0.7"/><path d="M335 1261.8 L339.4 1260.9" opacity="0.9"/><path d="M334.6 1268.1 L339.7 1267.2" opacity="1"/><path d="M334.5 1274.4 L339.8 1273.6" opacity="1"/><path d="M334.7 1280.7 L339.7 1280" opacity="0.9"/><path d="M335.1 1286.9 L339.2 1286.5" opacity="0.8"/><path d="M335.6 1293.2 L338.8 1292.9" opacity="0.7"/><path d="M345 1166.5 L342 1165.9" opacity="0.7"/><path d="M345.5 1173 L341.5 1172.1" opacity="0.8"/><path d="M345.9 1179.5 L341.1 1178.3" opacity="0.9"/><path d="M346.1 1185.9 L340.9 1184.5" opacity="1"/><path d="M346 1192.4 L341 1190.7" opacity="1"/><path d="M345.7 1198.8 L341.3 1197" opacity="0.9"/><path d="M345.3 1205.1 L341.8 1203.4" opacity="0.8"/><path d="M344.8 1211.4 L342.3 1209.7" opacity="0.6"/><path d="M344.3 1217.7 L342.7 1216.1" opacity="0.5"/><path d="M344 1224.1 L343.1 1222.4" opacity="0.5"/><path d="M343.1 1236.8 L344 1235.1" opacity="0.5"/><path d="M342.7 1243.1 L344.4 1241.5" opacity="0.6"/><path d="M342.3 1249.5 L344.8 1247.8" opacity="0.7"/><path d="M341.8 1255.8 L345.3 1254.1" opacity="0.8"/><path d="M341.3 1262.2 L345.7 1260.4" opacity="0.9"/><path d="M341 1268.5 L346 1266.8" opacity="1"/><path d="M340.9 1274.7 L346.1 1273.3" opacity="1"/><path d="M341.2 1280.9 L345.9 1279.7" opacity="0.9"/><path d="M341.6 1287.1 L345.5 1286.2" opacity="0.8"/><path d="M342 1293.3 L345 1292.7" opacity="0.7"/><path d="M351.3 1166.6 L348.5 1165.8" opacity="0.6"/><path d="M351.7 1173.1 L348.1 1171.9" opacity="0.8"/><path d="M352.1 1179.7 L347.7 1178" opacity="0.9"/><path d="M352.3 1186.2 L347.5 1184.2" opacity="1"/><path d="M352.3 1192.8 L347.5 1190.3" opacity="1"/><path d="M352 1199.2 L347.7 1196.6" opacity="0.9"/><path d="M351.6 1205.5 L348.1 1202.9" opacity="0.8"/><path d="M351.2 1211.9 L348.6 1209.3" opacity="0.7"/><path d="M350.7 1218.2 L349.1 1215.7" opacity="0.6"/><path d="M350.3 1224.5 L349.5 1222" opacity="0.6"/><path d="M349.9 1230.8 L349.9 1228.4" opacity="0.6"/><path d="M349.5 1237.2 L350.3 1234.7" opacity="0.6"/><path d="M349 1243.5 L350.7 1241" opacity="0.7"/><path d="M348.6 1249.9 L351.2 1247.3" opacity="0.7"/><path d="M348.1 1256.3 L351.6 1253.7" opacity="0.9"/><path d="M347.7 1262.6 L352.1 1260" opacity="0.9"/><path d="M347.5 1268.9 L352.3 1266.5" opacity="1"/><path d="M347.5 1275 L352.3 1273" opacity="1"/><path d="M347.7 1281.2 L352.1 1279.5" opacity="0.9"/><path d="M348.1 1287.3 L351.7 1286.1" opacity="0.8"/><path d="M348.5 1293.4 L351.3 1292.6" opacity="0.6"/><path d="M357.4 1166.7 L355 1165.7" opacity="0.6"/><path d="M357.8 1173.2 L354.7 1171.8" opacity="0.7"/><path d="M358.2 1179.8 L354.3 1177.9" opacity="0.8"/><path d="M358.4 1186.5 L354.1 1183.9" opacity="0.9"/><path d="M358.5 1193 L354 1190" opacity="1"/><path d="M358.3 1199.6 L354.2 1196.2" opacity="1"/><path d="M358 1206 L354.5 1202.5" opacity="0.9"/><path d="M357.6 1212.3 L354.9 1208.8" opacity="0.9"/><path d="M357.1 1218.7 L355.4 1215.2" opacity="0.8"/><path d="M356.7 1225 L355.8 1221.5" opacity="0.7"/><path d="M356.2 1231.3 L356.3 1227.9" opacity="0.7"/><path d="M355.8 1237.7 L356.7 1234.2" opacity="0.7"/><path d="M355.4 1244 L357.1 1240.5" opacity="0.8"/><path d="M354.9 1250.4 L357.6 1246.9" opacity="0.9"/><path d="M354.5 1256.7 L358 1253.2" opacity="0.9"/><path d="M354.2 1263 L358.3 1259.7" opacity="1"/><path d="M354 1269.1 L358.5 1266.2" opacity="1"/><path d="M354.1 1275.2 L358.4 1272.8" opacity="0.9"/><path d="M354.3 1281.3 L358.2 1279.4" opacity="0.8"/><path d="M354.7 1287.4 L357.8 1286" opacity="0.7"/><path d="M355.1 1293.5 L357.4 1292.6" opacity="0.6"/><path d="M363.6 1166.7 L361.6 1165.7" opacity="0.5"/><path d="M363.9 1173.2 L361.3 1171.8" opacity="0.6"/><path d="M364.2 1179.9 L361 1177.8" opacity="0.8"/><path d="M364.5 1186.5 L360.7 1183.9" opacity="0.9"/><path d="M364.6 1193.2 L360.6 1189.9" opacity="1"/><path d="M364.5 1199.8 L360.7 1196" opacity="1"/><path d="M364.3 1206.3 L361 1202.1" opacity="1"/><path d="M363.9 1212.7 L361.3 1208.4" opacity="0.9"/><path d="M363.5 1219.1 L361.7 1214.7" opacity="0.9"/><path d="M363 1225.5 L362.2 1221.1" opacity="0.9"/><path d="M362.6 1231.8 L362.6 1227.4" opacity="0.9"/><path d="M362.2 1238.1 L363.1 1233.7" opacity="0.9"/><path d="M361.7 1244.5 L363.5 1240.1" opacity="0.9"/><path d="M361.3 1250.8 L363.9 1246.5" opacity="0.9"/><path d="M360.9 1257 L364.3 1252.9" opacity="1"/><path d="M360.7 1263.2 L364.5 1259.4" opacity="1"/><path d="M360.6 1269.3 L364.6 1266" opacity="1"/><path d="M360.7 1275.3 L364.5 1272.7" opacity="0.9"/><path d="M361 1281.4 L364.2 1279.3" opacity="0.8"/><path d="M361.3 1287.4 L363.9 1286" opacity="0.6"/><path d="M361.6 1293.5 L363.6 1292.5" opacity="0.5"/><path d="M369.8 1166.7 L368.1 1165.7" opacity="0.5"/><path d="M370 1173.2 L367.9 1171.8" opacity="0.6"/><path d="M370.3 1179.8 L367.7 1177.9" opacity="0.7"/><path d="M370.5 1186.5 L367.4 1183.9" opacity="0.8"/><path d="M370.6 1193.2 L367.3 1189.9" opacity="0.9"/><path d="M370.6 1199.9 L367.3 1195.9" opacity="1"/><path d="M370.5 1206.5 L367.5 1202" opacity="1"/><path d="M370.2 1213 L367.8 1208.2" opacity="1"/><path d="M369.8 1219.4 L368.1 1214.4" opacity="1"/><path d="M369.4 1225.8 L368.6 1220.7" opacity="1"/><path d="M369 1232.2 L369 1227" opacity="1"/><path d="M368.5 1238.5 L369.4 1233.4" opacity="1"/><path d="M368.1 1244.8 L369.8 1239.8" opacity="1"/><path d="M367.8 1251 L370.2 1246.2" opacity="1"/><path d="M367.5 1257.2 L370.5 1252.7" opacity="1"/><path d="M367.3 1263.3 L370.6 1259.3" opacity="1"/><path d="M367.3 1269.3 L370.6 1266" opacity="0.9"/><path d="M367.4 1275.3 L370.5 1272.7" opacity="0.8"/><path d="M367.7 1281.3 L370.3 1279.4" opacity="0.7"/><path d="M367.9 1287.4 L370 1286" opacity="0.6"/><path d="M368.2 1293.5 L369.8 1292.5" opacity="0.5"/><path d="M376 1166.6 L374.7 1165.7" opacity="0.4"/><path d="M376.2 1173.2 L374.5 1171.9" opacity="0.5"/><path d="M376.3 1179.7 L374.3 1178" opacity="0.6"/><path d="M376.5 1186.4 L374.1 1184" opacity="0.7"/><path d="M376.6 1193.1 L374 1190" opacity="0.8"/><path d="M376.7 1199.8 L374 1196" opacity="0.9"/><path d="M376.6 1206.4 L374.1 1202" opacity="0.9"/><path d="M376.4 1213 L374.3 1208.2" opacity="1"/><path d="M376.1 1219.5 L374.6 1214.3" opacity="1"/><path d="M375.7 1225.9 L375 1220.6" opacity="1"/><path d="M375.3 1232.3 L375.3 1226.9" opacity="1"/><path d="M374.9 1238.6 L375.7 1233.3" opacity="1"/><path d="M374.6 1244.9 L376.1 1239.7" opacity="1"/><path d="M374.3 1251 L376.4 1246.2" opacity="1"/><path d="M374.1 1257.1 L376.6 1252.8" opacity="0.9"/><path d="M374 1263.2 L376.7 1259.4" opacity="0.9"/><path d="M374 1269.2 L376.6 1266.1" opacity="0.8"/><path d="M374.1 1275.2 L376.5 1272.8" opacity="0.7"/><path d="M374.3 1281.2 L376.3 1279.5" opacity="0.6"/><path d="M374.5 1287.3 L376.2 1286" opacity="0.5"/><path d="M374.7 1293.5 L376 1292.6" opacity="0.4"/><path d="M382.2 1166.6 L381.2 1165.7" opacity="0.4"/><path d="M382.3 1173.1 L381.1 1171.9" opacity="0.5"/><path d="M382.5 1179.6 L380.9 1178.1" opacity="0.5"/><path d="M382.6 1186.2 L380.8 1184.2" opacity="0.6"/><path d="M382.7 1192.9 L380.7 1190.2" opacity="0.7"/><path d="M382.7 1199.5 L380.7 1196.3" opacity="0.8"/><path d="M382.7 1206.2 L380.7 1202.3" opacity="0.8"/><path d="M382.5 1212.8 L380.9 1208.4" opacity="0.9"/><path d="M382.3 1219.3 L381.1 1214.5" opacity="0.9"/><path d="M382 1225.7 L381.4 1220.8" opacity="0.9"/><path d="M381.7 1232.1 L381.7 1227.1" opacity="0.9"/><path d="M381.4 1238.4 L382 1233.5" opacity="0.9"/><path d="M381.1 1244.7 L382.3 1239.9" opacity="0.9"/><path d="M380.9 1250.8 L382.5 1246.5" opacity="0.9"/><path d="M380.7 1256.9 L382.7 1253.1" opacity="0.8"/><path d="M380.7 1262.9 L382.7 1259.7" opacity="0.8"/><path d="M380.7 1269 L382.7 1266.4" opacity="0.7"/><path d="M380.8 1275 L382.6 1273" opacity="0.6"/><path d="M380.9 1281.1 L382.4 1279.6" opacity="0.5"/><path d="M381.1 1287.3 L382.3 1286.1" opacity="0.5"/><path d="M381.2 1293.5 L382.2 1292.6" opacity="0.4"/><path d="M388.5 1166.6 L387.6 1165.8" opacity="0.4"/><path d="M388.6 1173 L387.6 1172" opacity="0.4"/><path d="M388.6 1179.5 L387.5 1178.2" opacity="0.5"/><path d="M388.7 1186 L387.4 1184.4" opacity="0.5"/><path d="M388.8 1192.6 L387.4 1190.5" opacity="0.6"/><path d="M388.8 1199.2 L387.3 1196.6" opacity="0.6"/><path d="M388.7 1205.8 L387.4 1202.7" opacity="0.7"/><path d="M388.6 1212.4 L387.5 1208.8" opacity="0.8"/><path d="M388.5 1218.9 L387.6 1214.9" opacity="0.8"/><path d="M388.3 1225.3 L387.8 1221.2" opacity="0.8"/><path d="M388.1 1231.7 L388.1 1227.5" opacity="0.8"/><path d="M387.8 1238 L388.3 1233.9" opacity="0.8"/><path d="M387.6 1244.3 L388.5 1240.3" opacity="0.8"/><path d="M387.5 1250.4 L388.7 1246.8" opacity="0.8"/><path d="M387.4 1256.5 L388.7 1253.4" opacity="0.7"/><path d="M387.3 1262.6 L388.8 1260" opacity="0.6"/><path d="M387.4 1268.7 L388.8 1266.6" opacity="0.6"/><path d="M387.4 1274.8 L388.7 1273.2" opacity="0.5"/><path d="M387.5 1281 L388.6 1279.7" opacity="0.5"/><path d="M387.6 1287.2 L388.6 1286.2" opacity="0.4"/><path d="M387.6 1293.4 L388.5 1292.6" opacity="0.4"/><path d="M394.8 1166.6 L394 1165.8" opacity="0.4"/><path d="M394.8 1173 L394 1172.1" opacity="0.4"/><path d="M394.9 1179.4 L394 1178.3" opacity="0.4"/><path d="M394.9 1185.9 L394 1184.5" opacity="0.4"/><path d="M394.9 1192.4 L393.9 1190.7" opacity="0.5"/><path d="M394.9 1198.9 L393.9 1196.9" opacity="0.5"/><path d="M394.9 1205.4 L393.9 1203" opacity="0.6"/><path d="M394.8 1211.9 L394 1209.2" opacity="0.6"/><path d="M394.7 1218.4 L394.1 1215.4" opacity="0.7"/><path d="M394.6 1224.9 L394.3 1221.7" opacity="0.7"/><path d="M394.4 1231.2 L394.4 1228" opacity="0.7"/><path d="M394.3 1237.5 L394.6 1234.3" opacity="0.7"/><path d="M394.1 1243.8 L394.7 1240.8" opacity="0.7"/><path d="M394 1250 L394.8 1247.3" opacity="0.6"/><path d="M393.9 1256.2 L394.9 1253.8" opacity="0.6"/><path d="M393.9 1262.3 L394.9 1260.3" opacity="0.5"/><path d="M393.9 1268.5 L394.9 1266.8" opacity="0.5"/><path d="M394 1274.7 L394.9 1273.3" opacity="0.4"/><path d="M394 1280.9 L394.9 1279.8" opacity="0.4"/><path d="M394 1287.1 L394.8 1286.2" opacity="0.4"/><path d="M394 1293.4 L394.8 1292.6" opacity="0.4"/></g>
<path d="M305.8 1163 A41.8 41.8 0 0 1 264 1204.8 M355.8 1163 A41.8 41.8 0 0 0 397.6 1204.8 M397.6 1254.4 A41.8 41.8 0 0 0 355.8 1296.2 M305.8 1296.2 A41.8 41.8 0 0 0 264 1254.4" fill="none" stroke="#1a2a44" stroke-width="0.9"/><path d="M303.6 1221.1 L337.9 1203.1 L348.7 1210.5 L348.7 1248.2 L337.9 1254.8 L303.6 1235.6 Z" fill="none" stroke="#1a2a44" stroke-width="1.0" stroke-linejoin="round"/><rect x="264" y="1163" width="133.6" height="133.2" fill="none" stroke="#555" stroke-width="1"/>
<rect x="475.4" y="1163" width="133.7" height="133.3" fill="#edf3fa"/>
<clipPath id="m3in"><rect x="475.4" y="1206.6" width="133.7" height="46.5"/></clipPath>
<g clip-path="url(#m3)"><rect x="532" y="1163" width="24" height="134" fill="url(#stripe)"/><g opacity="0.6"><ellipse cx="507.5" cy="1229.5" rx="32" ry="54" fill="url(#blobL)"/><ellipse cx="581" cy="1229.5" rx="30" ry="52" fill="url(#blobR)"/></g></g>
<g clip-path="url(#m3in)"><ellipse cx="507.5" cy="1229.5" rx="32" ry="54" fill="url(#blobL)"/><ellipse cx="581" cy="1229.5" rx="30" ry="52" fill="url(#blobR)"/><ellipse cx="507.5" cy="1229.5" rx="22" ry="30" fill="#0a3c86" opacity="0.35" filter="url(#dblur4)"/><ellipse cx="581" cy="1229.5" rx="20" ry="30" fill="#164f9c" opacity="0.3" filter="url(#dblur4)"/></g>
<path d="M475.4 1206.6 H609.1 M475.4 1253.1 H609.1" stroke="#3a4458" stroke-width="1"/>
<rect x="475.4" y="1163" width="133.7" height="133.3" fill="none" stroke="#555" stroke-width="1"/>
<path d="M462.9 1274.3 V1309 H496.5" fill="none" stroke="#6b7390" stroke-width="2"/><path d="M462.9 1268.3 L467.4 1278.3 L462.9 1276.3 L458.4 1278.3 Z" fill="#6b7390"/><path d="M502.5 1309 L492.5 1304.5 L494.5 1309 L492.5 1313.5 Z" fill="#6b7390"/><text x="460.8" y="1262" font-size="16" fill="#7a8194" text-anchor="middle" font-style="italic" >z</text><text x="510.3" y="1313" font-size="16" fill="#7a8194" text-anchor="middle" font-style="italic" >x</text>
</g>
<g id="panel_e">
<defs>
<linearGradient id="eRed" x1="0" x2="0" y1="0" y2="1" gradientUnits="userSpaceOnUse"><stop offset="0" stop-color="#fff" stop-opacity="0"/></linearGradient>
<linearGradient id="eRedV" gradientUnits="userSpaceOnUse" x1="0" y1="862" x2="0" y2="948"><stop offset="0" stop-color="#fbe4e0" stop-opacity="0"/><stop offset="0.2" stop-color="#fad9d3" stop-opacity="0.8"/><stop offset="0.55" stop-color="#f6b5a8"/><stop offset="0.85" stop-color="#f2927d"/><stop offset="1" stop-color="#ef7c66"/></linearGradient>
<linearGradient id="eBlueV" gradientUnits="userSpaceOnUse" x1="0" y1="1030" x2="0" y2="1122"><stop offset="0" stop-color="#5590c6"/><stop offset="0.2" stop-color="#8db5dc"/><stop offset="0.5" stop-color="#c4d9ee" stop-opacity="0.95"/><stop offset="0.8" stop-color="#e1ecf6" stop-opacity="0.6"/><stop offset="1" stop-color="#eef4fa" stop-opacity="0"/></linearGradient>
<linearGradient id="eWing" gradientUnits="userSpaceOnUse" x1="835" y1="1030" x2="735" y2="1165"><stop offset="0" stop-color="#3f7cb8"/><stop offset="0.3" stop-color="#6f9fce"/><stop offset="0.6" stop-color="#b3cce5" stop-opacity="0.9"/><stop offset="0.85" stop-color="#dbe7f3" stop-opacity="0.6"/><stop offset="1" stop-color="#e6eef7" stop-opacity="0"/></linearGradient>
<linearGradient id="eRim" gradientUnits="userSpaceOnUse" x1="0" y1="1030" x2="0" y2="1150"><stop offset="0" stop-color="#3f7cb8"/><stop offset="0.6" stop-color="#7da7d2" stop-opacity="0.8"/><stop offset="1" stop-color="#c9dcee" stop-opacity="0"/></linearGradient>
<filter id="eblur" x="-10%" y="-10%" width="120%" height="120%"><feGaussianBlur stdDeviation="1.5"/></filter>
<filter id="eblur4" x="-20%" y="-20%" width="140%" height="140%"><feGaussianBlur stdDeviation="4"/></filter>
</defs>
<text x="708" y="808.5" font-size="30" fill="#000" text-anchor="start" font-weight="bold" >e</text>
<linearGradient id="eFade" gradientUnits="userSpaceOnUse" x1="0" y1="1130" x2="0" y2="1192"><stop offset="0" stop-color="#fff" stop-opacity="0.1"/><stop offset="0.5" stop-color="#fff" stop-opacity="0.45"/><stop offset="1" stop-color="#fff" stop-opacity="1"/></linearGradient><mask id="eMask"><rect x="700" y="1120" width="300" height="130" fill="url(#eFade)"/></mask>
<g mask="url(#eMask)">
<ellipse cx="843.3" cy="1186.2" rx="138" ry="60" fill="none" stroke="#d5e4f2" stroke-width="1" opacity="0.5" stroke-dasharray="40 60 70 50"/>
<ellipse cx="843.3" cy="1186.2" rx="119" ry="52" fill="none" stroke="#c5daee" stroke-width="1" opacity="0.6" stroke-dasharray="90 35 120 30"/>
<ellipse cx="843.3" cy="1186.2" rx="100.5" ry="44" fill="none" stroke="#a9c9e6" stroke-width="1.1" opacity="0.85" stroke-dasharray="200 18"/>
<ellipse cx="843.3" cy="1186.2" rx="79.6" ry="33.5" fill="none" stroke="#7fb0da" stroke-width="1.1" opacity="1" stroke-dasharray=""/>
<ellipse cx="843.3" cy="1186.2" rx="54.4" ry="23" fill="none" stroke="#4f90c8" stroke-width="1.2" opacity="1" stroke-dasharray=""/>
<ellipse cx="843.3" cy="1186.2" rx="12.6" ry="6.3" fill="none" stroke="#2f74b8" stroke-width="1.3" opacity="1" stroke-dasharray=""/>
</g>
<path d="M843.3 1186.2 L987.8 1180 M843.3 1186.2 L781.8 1235.6" stroke="#333" stroke-width="1" stroke-dasharray="5 4" fill="none"/>
<text x="838.5" y="1177.6" font-size="15" fill="#111" class="serif">Γ</text>
<path d="M854.3 1173.6 H866.5" stroke="#111" stroke-width="1"/><path d="M868 1173.6 L863.5 1171 L864.5 1173.6 L863.5 1176.2 Z" fill="#111"/>
<text x="874" y="1178" font-size="11" fill="#111" text-anchor="start" >M</text>
<text x="804.8" y="1195.3" font-size="12.6" fill="#111" text-anchor="start" >X</text>
<path d="M829.5 1176.7 L819.5 1184.6" stroke="#111" stroke-width="1"/><path d="M817.8 1186 L823.6 1184.6 L820.6 1180.8 Z" fill="#111"/>
<path d="M838 1030 C853 1029.5 867 1035.5 877.4 1045.2 C888 1054 896 1061 902.7 1068 C912 1078 920 1087 928 1095.9 C938 1108 946 1119 953.4 1128.8 L963.5 1141.5 L940 1125 C925 1100 905 1078 877 1075.6 C850 1078 830 1088 811.5 1093 L796 1112 L790 1075 L815 1045 Z" fill="url(#eBlueV)"/>
<path d="M838 1030 C853 1029.5 867 1035.5 877.4 1045.2 C888 1054 896 1061 902.7 1068 C912 1078 920 1087 928 1095.9 C938 1108 946 1119 953.4 1128.8 L963.5 1141.5" fill="none" stroke="url(#eRim)" stroke-width="1.6"/>
<path d="M842 1030 C830 1030 820 1038 811.5 1050.3 C800 1062 792 1071 783.6 1080.7 C774 1092 766 1100 758.3 1108.6 C748 1120 740 1128 733 1136.4 L719 1161.8 L788.7 1144 C792 1130 797 1118 801.3 1106 C805 1094 808 1084 811.5 1073.1 C816 1060 821 1050 826.7 1042.7 C831 1037 836 1032 842 1030 Z" fill="url(#eWing)"/>
<g fill="none" stroke="#5f8fc2" stroke-width="0.6" opacity="0.4"><path d="M823.7 1051.9 L822 1055.4" /><path d="M806.9 1069.7 L816 1070.9" /><path d="M790 1087.6 L810 1086.3" /><path d="M773.2 1105.4 L804 1101.7" /><path d="M756.3 1123.3 L798 1117.1" /><path d="M739.5 1141.1 L792 1132.6" /><path d="M846.6 1033.2 C853 1052 857 1062.4 859 1077.6"/><path d="M832.4 1042.8 C850 1040.8 870 1043.2 888 1056"/><path d="M848.2 1034.4 C856 1054 862 1064.8 868 1079.2"/><path d="M832.8 1045.6 C850 1043.6 870 1046.4 890 1060"/><path d="M849.8 1035.6 C859 1056 867 1067.2 877 1080.8"/><path d="M833.2 1048.4 C850 1046.4 870 1049.6 892 1064"/><path d="M851.4 1036.8 C862 1058 872 1069.6 886 1082.4"/><path d="M833.6 1051.2 C850 1049.2 870 1052.8 894 1068"/></g>
<ellipse cx="842.5" cy="1036.3" rx="21" ry="6.3" fill="none" stroke="#e87722" stroke-width="1.8" stroke-dasharray="4 2.6"/>
<path d="M840.6 1030 L840.7 1029.6 L841.1 1029.2 L841.5 1028.9 L842 1028.5 L842.4 1028.1 L842.7 1027.8 L842.6 1027.4 L842.2 1027 L841.6 1026.6 L840.6 1026.2 L839.5 1025.9 L838.3 1025.5 L837.2 1025.1 L836.4 1024.8 L835.9 1024.4 L835.9 1024 L836.4 1023.6 L837.4 1023.2 L838.9 1022.9 L840.6 1022.5 L842.5 1022.1 L844.3 1021.8 L845.8 1021.4 L846.9 1021 L847.4 1020.6 L847.2 1020.2 L846.3 1019.9 L844.8 1019.5 L842.9 1019.1 L840.6 1018.8 L838.3 1018.4 L836.1 1018 L834.3 1017.6 L833.2 1017.2 L832.7 1016.9 L833.1 1016.5 L834.2 1016.1 L835.9 1015.8 L838.1 1015.4 L840.6 1015 L843.1 1014.6 L845.3 1014.2 L847 1013.9 L848.1 1013.5 L848.5 1013.1 L848 1012.8 L846.9 1012.4 L845.1 1012 L842.9 1011.6 L840.6 1011.2 L838.3 1010.9 L836.4 1010.5 L834.9 1010.1 L834 1009.8 L833.8 1009.4 L834.3 1009 L835.4 1008.6 L836.9 1008.2 L838.7 1007.9 L840.6 1007.5 L842.3 1007.1 L843.8 1006.8 L844.8 1006.4 L845.3 1006 L845.3 1005.6 L844.8 1005.2 L844 1004.9 L842.9 1004.5 L841.7 1004.1 L840.6 1003.8 L839.6 1003.4 L839 1003 L838.6 1002.6 L838.5 1002.2 L838.8 1001.9 L839.2 1001.5 L839.7 1001.1 L840.1 1000.8 L840.5 1000.4 L840.6 1000" fill="none" stroke="#8cc0f5" stroke-width="4" opacity="0.45" filter="url(#eblur)"/>
<path d="M840.6 1030 L840.7 1029.6 L841.1 1029.2 L841.5 1028.9 L842 1028.5 L842.4 1028.1 L842.7 1027.8 L842.6 1027.4 L842.2 1027 L841.6 1026.6 L840.6 1026.2 L839.5 1025.9 L838.3 1025.5 L837.2 1025.1 L836.4 1024.8 L835.9 1024.4 L835.9 1024 L836.4 1023.6 L837.4 1023.2 L838.9 1022.9 L840.6 1022.5 L842.5 1022.1 L844.3 1021.8 L845.8 1021.4 L846.9 1021 L847.4 1020.6 L847.2 1020.2 L846.3 1019.9 L844.8 1019.5 L842.9 1019.1 L840.6 1018.8 L838.3 1018.4 L836.1 1018 L834.3 1017.6 L833.2 1017.2 L832.7 1016.9 L833.1 1016.5 L834.2 1016.1 L835.9 1015.8 L838.1 1015.4 L840.6 1015 L843.1 1014.6 L845.3 1014.2 L847 1013.9 L848.1 1013.5 L848.5 1013.1 L848 1012.8 L846.9 1012.4 L845.1 1012 L842.9 1011.6 L840.6 1011.2 L838.3 1010.9 L836.4 1010.5 L834.9 1010.1 L834 1009.8 L833.8 1009.4 L834.3 1009 L835.4 1008.6 L836.9 1008.2 L838.7 1007.9 L840.6 1007.5 L842.3 1007.1 L843.8 1006.8 L844.8 1006.4 L845.3 1006 L845.3 1005.6 L844.8 1005.2 L844 1004.9 L842.9 1004.5 L841.7 1004.1 L840.6 1003.8 L839.6 1003.4 L839 1003 L838.6 1002.6 L838.5 1002.2 L838.8 1001.9 L839.2 1001.5 L839.7 1001.1 L840.1 1000.8 L840.5 1000.4 L840.6 1000 L840.6 994" fill="none" stroke="#3a8ef0" stroke-width="1.3"/>
<path d="M840.6 992.5 L844.3 998.5 M840.6 992.5 L836.9 998.5" stroke="#3a8ef0" stroke-width="1.3" fill="none"/>
<path d="M770 866 C772 872 771 870 773.5 873 C776 883 779 890 783.6 898.3 C789 907 794 914 801.3 921 C808 929 814 935 821.6 940 C828 945 833 946.5 838 946.4 C845 946.4 850 943 857 938.8 C865 932 871 925 877.4 916 C884 907 889 899 895 890.7 C901 882 906 875 910.3 867.9 L913 860 C900 862 890 860 878 858 C865 855 850 857 838 858 C820 856 800 858 785 862 Z" fill="url(#eRedV)" filter="url(#eblur)"/>
<path d="M986.8 1182 L996.6 858" stroke="#222" stroke-width="1"/>
<path d="M996.9 852.5 L1000.3 862.5 L996.7 860.5 L993.2 862.2 Z" fill="#111"/>
<path d="M992.2 920.1 L997.7 919.2" stroke="#111" stroke-width="1"/>
<text x="1021.3" y="929.8" font-size="16.5" fill="#111" text-anchor="middle" textLength="29.5" lengthAdjust="spacingAndGlyphs" >340</text>
<path d="M990.2 986.1 L995.7 985.2" stroke="#111" stroke-width="1"/>
<text x="1019.2" y="994.8" font-size="16.5" fill="#111" text-anchor="middle" textLength="29.5" lengthAdjust="spacingAndGlyphs" >330</text>
<path d="M988.2 1050.8 L993.7 1049.9" stroke="#111" stroke-width="1"/>
<text x="1017.2" y="1059.4" font-size="16.5" fill="#111" text-anchor="middle" textLength="29.5" lengthAdjust="spacingAndGlyphs" >320</text>
<path d="M986.3 1113.4 L991.8 1112.5" stroke="#111" stroke-width="1"/>
<text x="1014.5" y="1122" font-size="16.5" fill="#111" text-anchor="middle" textLength="26" lengthAdjust="spacingAndGlyphs" >310</text>
<path d="M984.5 1174.7 L990 1173.8" stroke="#111" stroke-width="1"/>
<text x="1014.1" y="1183.4" font-size="16.5" fill="#111" text-anchor="middle" textLength="29.5" lengthAdjust="spacingAndGlyphs" >300</text>
<text transform="translate(1059.5,1023.5) rotate(-90)" font-size="16.5" fill="#111" text-anchor="middle" textLength="55" lengthAdjust="spacingAndGlyphs">f (THz)</text>
<path d="M696.8 1206.3 L870.5 1266.6 L987.8 1182" fill="none" stroke="#222" stroke-width="1"/>
<path d="M707.2 1209.9 l-1.3 4" stroke="#111" stroke-width="1"/>
<path d="M781.8 1235.8 l-1.3 4" stroke="#111" stroke-width="1"/>
<path d="M858 1262.3 l-1.3 4" stroke="#111" stroke-width="1"/>
<path d="M873 1264.8 l3 3" stroke="#111" stroke-width="1"/>
<path d="M929.5 1224 l3 3" stroke="#111" stroke-width="1"/>
<path d="M985 1184 l3 3" stroke="#111" stroke-width="1"/>
<text x="698" y="1226" font-size="16.5" fill="#111" text-anchor="middle" textLength="34" lengthAdjust="spacingAndGlyphs" >−0.3</text>
<text x="774.2" y="1252.4" font-size="16.5" fill="#111" text-anchor="middle" textLength="25" lengthAdjust="spacingAndGlyphs" >0.0</text>
<text x="851.7" y="1278.3" font-size="16.5" fill="#111" text-anchor="middle" textLength="25" lengthAdjust="spacingAndGlyphs" >0.3</text>
<text x="892" y="1275.4" font-size="16.5" fill="#111" text-anchor="middle" textLength="34" lengthAdjust="spacingAndGlyphs" >−0.3</text>
<text x="943.8" y="1239.4" font-size="16.5" fill="#111" text-anchor="middle" textLength="25" lengthAdjust="spacingAndGlyphs" >0.0</text>
<text x="991.5" y="1202.8" font-size="16.5" fill="#111" text-anchor="middle" textLength="24" lengthAdjust="spacingAndGlyphs" >0.3</text>
<text transform="translate(750.5,1275) rotate(19)" font-size="16.5" fill="#111" text-anchor="middle"><tspan font-style="italic">k</tspan><tspan font-size="11" dy="3">x</tspan><tspan dy="-3"> (a/π)</tspan></text>
<text transform="translate(975,1255.5) rotate(-37)" font-size="16.5" fill="#111" text-anchor="middle">k<tspan font-size="11" dy="3">y</tspan><tspan dy="-3"> (a/π)</tspan></text>
</g>
<g id="panel_f">
<defs>
<clipPath id="semclip"><rect x="1180.2" y="786" width="383.8" height="247"/></clipPath>
<pattern id="semp" x="1182.4" y="793.9" width="19.2" height="19.05" patternUnits="userSpaceOnUse">
<rect width="19.2" height="19.05" fill="#949494"/>
<circle cx="9.6" cy="9.525" r="6.1" fill="#030303" stroke="#dcdcdc" stroke-width="1.1"/>
</pattern>
<filter id="fglow" x="-5%" y="-5%" width="110%" height="110%"><feGaussianBlur stdDeviation="0.5"/></filter>
<filter id="fsoft" x="-2%" y="-2%" width="104%" height="104%"><feGaussianBlur stdDeviation="0.35"/></filter>
<filter id="ftext" x="-20%" y="-20%" width="140%" height="140%"><feGaussianBlur stdDeviation="1.2"/></filter>
</defs>
<text x="1101" y="808" font-size="30" fill="#000" text-anchor="start" font-weight="bold" >f</text>
<g clip-path="url(#semclip)"><g filter="url(#fsoft)"><rect x="1178.2" y="784" width="387.8" height="251" fill="url(#semp)"/><g fill="#030303" stroke="#cfcfcf" stroke-width="0.6" stroke-linejoin="round"><path d="M3.1 -1.5 Q5.7 0 3.1 1.5 L-0.3 3.5 Q-2.8 4.9 -2.9 2 L-2.9 -2 Q-2.9 -4.9 -0.3 -3.5 Z" transform="translate(1182.4,774.7) rotate(-30)"/><path d="M3.1 -1.5 Q5.7 0 3.1 1.5 L-0.3 3.5 Q-2.8 4.9 -2.9 2 L-2.9 -2 Q-2.9 -4.9 -0.3 -3.5 Z" transform="translate(1201.6,774.7) rotate(-40)"/><path d="M3.1 -1.5 Q5.7 0 3.1 1.5 L-0.3 3.5 Q-2.8 4.9 -2.9 2 L-2.9 -2 Q-2.9 -4.9 -0.3 -3.5 Z" transform="translate(1220.8,774.7) rotate(-50)"/><path d="M3.1 -1.5 Q5.7 0 3.1 1.5 L-0.3 3.5 Q-2.8 4.9 -2.9 2 L-2.9 -2 Q-2.9 -4.9 -0.3 -3.5 Z" transform="translate(1240,774.7) rotate(-60)"/><path d="M3.1 -1.5 Q5.7 0 3.1 1.5 L-0.3 3.5 Q-2.8 4.9 -2.9 2 L-2.9 -2 Q-2.9 -4.9 -0.3 -3.5 Z" transform="translate(1259.2,774.7) rotate(-70)"/><path d="M3.1 -1.5 Q5.7 0 3.1 1.5 L-0.3 3.5 Q-2.8 4.9 -2.9 2 L-2.9 -2 Q-2.9 -4.9 -0.3 -3.5 Z" transform="translate(1278.4,774.7) rotate(-60)"/><path d="M3.1 -1.5 Q5.7 0 3.1 1.5 L-0.3 3.5 Q-2.8 4.9 -2.9 2 L-2.9 -2 Q-2.9 -4.9 -0.3 -3.5 Z" transform="translate(1297.6,774.7) rotate(-50)"/><path d="M3.1 -1.5 Q5.7 0 3.1 1.5 L-0.3 3.5 Q-2.8 4.9 -2.9 2 L-2.9 -2 Q-2.9 -4.9 -0.3 -3.5 Z" transform="translate(1316.8,774.7) rotate(-40)"/><path d="M3.1 -1.5 Q5.7 0 3.1 1.5 L-0.3 3.5 Q-2.8 4.9 -2.9 2 L-2.9 -2 Q-2.9 -4.9 -0.3 -3.5 Z" transform="translate(1336,774.7) rotate(-30)"/><path d="M3.1 -1.5 Q5.7 0 3.1 1.5 L-0.3 3.5 Q-2.8 4.9 -2.9 2 L-2.9 -2 Q-2.9 -4.9 -0.3 -3.5 Z" transform="translate(1355.2,774.7) rotate(-30)"/><path d="M3.1 -1.5 Q5.7 0 3.1 1.5 L-0.3 3.5 Q-2.8 4.9 -2.9 2 L-2.9 -2 Q-2.9 -4.9 -0.3 -3.5 Z" transform="translate(1374.4,774.7) rotate(-50)"/><path d="M3.1 -1.5 Q5.7 0 3.1 1.5 L-0.3 3.5 Q-2.8 4.9 -2.9 2 L-2.9 -2 Q-2.9 -4.9 -0.3 -3.5 Z" transform="translate(1393.6,774.7) rotate(-90)"/><path d="M3.1 -1.5 Q5.7 0 3.1 1.5 L-0.3 3.5 Q-2.8 4.9 -2.9 2 L-2.9 -2 Q-2.9 -4.9 -0.3 -3.5 Z" transform="translate(1412.8,774.7) rotate(-20)"/><path d="M3.1 -1.5 Q5.7 0 3.1 1.5 L-0.3 3.5 Q-2.8 4.9 -2.9 2 L-2.9 -2 Q-2.9 -4.9 -0.3 -3.5 Z" transform="translate(1432,774.7) rotate(-80)"/><path d="M3.1 -1.5 Q5.7 0 3.1 1.5 L-0.3 3.5 Q-2.8 4.9 -2.9 2 L-2.9 -2 Q-2.9 -4.9 -0.3 -3.5 Z" transform="translate(1451.2,774.7) rotate(-30)"/><path d="M3.1 -1.5 Q5.7 0 3.1 1.5 L-0.3 3.5 Q-2.8 4.9 -2.9 2 L-2.9 -2 Q-2.9 -4.9 -0.3 -3.5 Z" transform="translate(1470.4,774.7) rotate(-100)"/><path d="M3.1 -1.5 Q5.7 0 3.1 1.5 L-0.3 3.5 Q-2.8 4.9 -2.9 2 L-2.9 -2 Q-2.9 -4.9 -0.3 -3.5 Z" transform="translate(1489.6,774.7) rotate(-40)"/><path d="M3.1 -1.5 Q5.7 0 3.1 1.5 L-0.3 3.5 Q-2.8 4.9 -2.9 2 L-2.9 -2 Q-2.9 -4.9 -0.3 -3.5 Z" transform="translate(1508.8,774.7) rotate(-100)"/><path d="M3.1 -1.5 Q5.7 0 3.1 1.5 L-0.3 3.5 Q-2.8 4.9 -2.9 2 L-2.9 -2 Q-2.9 -4.9 -0.3 -3.5 Z" transform="translate(1528,774.7) rotate(-30)"/><path d="M3.1 -1.5 Q5.7 0 3.1 1.5 L-0.3 3.5 Q-2.8 4.9 -2.9 2 L-2.9 -2 Q-2.9 -4.9 -0.3 -3.5 Z" transform="translate(1547.2,774.7) rotate(-80)"/><path d="M3.1 -1.5 Q5.7 0 3.1 1.5 L-0.3 3.5 Q-2.8 4.9 -2.9 2 L-2.9 -2 Q-2.9 -4.9 -0.3 -3.5 Z" transform="translate(1566.4,774.7) rotate(-20)"/><path d="M3.1 -1.5 Q5.7 0 3.1 1.5 L-0.3 3.5 Q-2.8 4.9 -2.9 2 L-2.9 -2 Q-2.9 -4.9 -0.3 -3.5 Z" transform="translate(1585.6,774.7) rotate(-90)"/><path d="M3.1 -1.5 Q5.7 0 3.1 1.5 L-0.3 3.5 Q-2.8 4.9 -2.9 2 L-2.9 -2 Q-2.9 -4.9 -0.3 -3.5 Z" transform="translate(1182.4,793.7) rotate(-30)"/><path d="M3.1 -1.5 Q5.7 0 3.1 1.5 L-0.3 3.5 Q-2.8 4.9 -2.9 2 L-2.9 -2 Q-2.9 -4.9 -0.3 -3.5 Z" transform="translate(1201.6,793.7) rotate(-50)"/><path d="M3.1 -1.5 Q5.7 0 3.1 1.5 L-0.3 3.5 Q-2.8 4.9 -2.9 2 L-2.9 -2 Q-2.9 -4.9 -0.3 -3.5 Z" transform="translate(1220.8,793.7) rotate(-70)"/><path d="M3.1 -1.5 Q5.7 0 3.1 1.5 L-0.3 3.5 Q-2.8 4.9 -2.9 2 L-2.9 -2 Q-2.9 -4.9 -0.3 -3.5 Z" transform="translate(1240,793.7) rotate(-90)"/><path d="M3.1 -1.5 Q5.7 0 3.1 1.5 L-0.3 3.5 Q-2.8 4.9 -2.9 2 L-2.9 -2 Q-2.9 -4.9 -0.3 -3.5 Z" transform="translate(1259.2,793.7) rotate(-90)"/><path d="M3.1 -1.5 Q5.7 0 3.1 1.5 L-0.3 3.5 Q-2.8 4.9 -2.9 2 L-2.9 -2 Q-2.9 -4.9 -0.3 -3.5 Z" transform="translate(1278.4,793.7) rotate(-90)"/><path d="M3.1 -1.5 Q5.7 0 3.1 1.5 L-0.3 3.5 Q-2.8 4.9 -2.9 2 L-2.9 -2 Q-2.9 -4.9 -0.3 -3.5 Z" transform="translate(1297.6,793.7) rotate(-70)"/><path d="M3.1 -1.5 Q5.7 0 3.1 1.5 L-0.3 3.5 Q-2.8 4.9 -2.9 2 L-2.9 -2 Q-2.9 -4.9 -0.3 -3.5 Z" transform="translate(1316.8,793.7) rotate(-60)"/><path d="M3.1 -1.5 Q5.7 0 3.1 1.5 L-0.3 3.5 Q-2.8 4.9 -2.9 2 L-2.9 -2 Q-2.9 -4.9 -0.3 -3.5 Z" transform="translate(1336,793.7) rotate(-50)"/><path d="M3.1 -1.5 Q5.7 0 3.1 1.5 L-0.3 3.5 Q-2.8 4.9 -2.9 2 L-2.9 -2 Q-2.9 -4.9 -0.3 -3.5 Z" transform="translate(1355.2,793.7) rotate(-50)"/><path d="M3.1 -1.5 Q5.7 0 3.1 1.5 L-0.3 3.5 Q-2.8 4.9 -2.9 2 L-2.9 -2 Q-2.9 -4.9 -0.3 -3.5 Z" transform="translate(1374.4,793.7) rotate(-70)"/><path d="M3.1 -1.5 Q5.7 0 3.1 1.5 L-0.3 3.5 Q-2.8 4.9 -2.9 2 L-2.9 -2 Q-2.9 -4.9 -0.3 -3.5 Z" transform="translate(1393.6,793.7) rotate(-100)"/><path d="M3.1 -1.5 Q5.7 0 3.1 1.5 L-0.3 3.5 Q-2.8 4.9 -2.9 2 L-2.9 -2 Q-2.9 -4.9 -0.3 -3.5 Z" transform="translate(1412.8,793.7) rotate(-30)"/><path d="M3.1 -1.5 Q5.7 0 3.1 1.5 L-0.3 3.5 Q-2.8 4.9 -2.9 2 L-2.9 -2 Q-2.9 -4.9 -0.3 -3.5 Z" transform="translate(1432,793.7) rotate(-80)"/><path d="M3.1 -1.5 Q5.7 0 3.1 1.5 L-0.3 3.5 Q-2.8 4.9 -2.9 2 L-2.9 -2 Q-2.9 -4.9 -0.3 -3.5 Z" transform="translate(1451.2,793.7) rotate(-20)"/><path d="M3.1 -1.5 Q5.7 0 3.1 1.5 L-0.3 3.5 Q-2.8 4.9 -2.9 2 L-2.9 -2 Q-2.9 -4.9 -0.3 -3.5 Z" transform="translate(1470.4,793.7) rotate(-80)"/><path d="M3.1 -1.5 Q5.7 0 3.1 1.5 L-0.3 3.5 Q-2.8 4.9 -2.9 2 L-2.9 -2 Q-2.9 -4.9 -0.3 -3.5 Z" transform="translate(1489.6,793.7) rotate(-10)"/><path d="M3.1 -1.5 Q5.7 0 3.1 1.5 L-0.3 3.5 Q-2.8 4.9 -2.9 2 L-2.9 -2 Q-2.9 -4.9 -0.3 -3.5 Z" transform="translate(1508.8,793.7) rotate(-60)"/><path d="M3.1 -1.5 Q5.7 0 3.1 1.5 L-0.3 3.5 Q-2.8 4.9 -2.9 2 L-2.9 -2 Q-2.9 -4.9 -0.3 -3.5 Z" transform="translate(1528,793.7) rotate(-110)"/><path d="M3.1 -1.5 Q5.7 0 3.1 1.5 L-0.3 3.5 Q-2.8 4.9 -2.9 2 L-2.9 -2 Q-2.9 -4.9 -0.3 -3.5 Z" transform="translate(1547.2,793.7) rotate(-40)"/><path d="M3.1 -1.5 Q5.7 0 3.1 1.5 L-0.3 3.5 Q-2.8 4.9 -2.9 2 L-2.9 -2 Q-2.9 -4.9 -0.3 -3.5 Z" transform="translate(1566.4,793.7) rotate(-100)"/><path d="M3.1 -1.5 Q5.7 0 3.1 1.5 L-0.3 3.5 Q-2.8 4.9 -2.9 2 L-2.9 -2 Q-2.9 -4.9 -0.3 -3.5 Z" transform="translate(1585.6,793.7) rotate(-60)"/><path d="M3.1 -1.5 Q5.7 0 3.1 1.5 L-0.3 3.5 Q-2.8 4.9 -2.9 2 L-2.9 -2 Q-2.9 -4.9 -0.3 -3.5 Z" transform="translate(1182.4,812.8) rotate(-30)"/><path d="M3.1 -1.5 Q5.7 0 3.1 1.5 L-0.3 3.5 Q-2.8 4.9 -2.9 2 L-2.9 -2 Q-2.9 -4.9 -0.3 -3.5 Z" transform="translate(1201.6,812.8) rotate(-50)"/><path d="M3.1 -1.5 Q5.7 0 3.1 1.5 L-0.3 3.5 Q-2.8 4.9 -2.9 2 L-2.9 -2 Q-2.9 -4.9 -0.3 -3.5 Z" transform="translate(1220.8,812.8) rotate(-80)"/><path d="M3.1 -1.5 Q5.7 0 3.1 1.5 L-0.3 3.5 Q-2.8 4.9 -2.9 2 L-2.9 -2 Q-2.9 -4.9 -0.3 -3.5 Z" transform="translate(1240,812.8) rotate(-100)"/><path d="M3.1 -1.5 Q5.7 0 3.1 1.5 L-0.3 3.5 Q-2.8 4.9 -2.9 2 L-2.9 -2 Q-2.9 -4.9 -0.3 -3.5 Z" transform="translate(1259.2,812.8) rotate(-110)"/><path d="M3.1 -1.5 Q5.7 0 3.1 1.5 L-0.3 3.5 Q-2.8 4.9 -2.9 2 L-2.9 -2 Q-2.9 -4.9 -0.3 -3.5 Z" transform="translate(1278.4,812.8) rotate(-100)"/><path d="M3.1 -1.5 Q5.7 0 3.1 1.5 L-0.3 3.5 Q-2.8 4.9 -2.9 2 L-2.9 -2 Q-2.9 -4.9 -0.3 -3.5 Z" transform="translate(1297.6,812.8) rotate(-90)"/><path d="M3.1 -1.5 Q5.7 0 3.1 1.5 L-0.3 3.5 Q-2.8 4.9 -2.9 2 L-2.9 -2 Q-2.9 -4.9 -0.3 -3.5 Z" transform="translate(1316.8,812.8) rotate(-80)"/><path d="M3.1 -1.5 Q5.7 0 3.1 1.5 L-0.3 3.5 Q-2.8 4.9 -2.9 2 L-2.9 -2 Q-2.9 -4.9 -0.3 -3.5 Z" transform="translate(1336,812.8) rotate(-80)"/><path d="M3.1 -1.5 Q5.7 0 3.1 1.5 L-0.3 3.5 Q-2.8 4.9 -2.9 2 L-2.9 -2 Q-2.9 -4.9 -0.3 -3.5 Z" transform="translate(1355.2,812.8) rotate(-80)"/><path d="M3.1 -1.5 Q5.7 0 3.1 1.5 L-0.3 3.5 Q-2.8 4.9 -2.9 2 L-2.9 -2 Q-2.9 -4.9 -0.3 -3.5 Z" transform="translate(1374.4,812.8) rotate(-100)"/><path d="M3.1 -1.5 Q5.7 0 3.1 1.5 L-0.3 3.5 Q-2.8 4.9 -2.9 2 L-2.9 -2 Q-2.9 -4.9 -0.3 -3.5 Z" transform="translate(1393.6,812.8) rotate(-10)"/><path d="M3.1 -1.5 Q5.7 0 3.1 1.5 L-0.3 3.5 Q-2.8 4.9 -2.9 2 L-2.9 -2 Q-2.9 -4.9 -0.3 -3.5 Z" transform="translate(1412.8,812.8) rotate(-60)"/><path d="M3.1 -1.5 Q5.7 0 3.1 1.5 L-0.3 3.5 Q-2.8 4.9 -2.9 2 L-2.9 -2 Q-2.9 -4.9 -0.3 -3.5 Z" transform="translate(1432,812.8) rotate(-110)"/><path d="M3.1 -1.5 Q5.7 0 3.1 1.5 L-0.3 3.5 Q-2.8 4.9 -2.9 2 L-2.9 -2 Q-2.9 -4.9 -0.3 -3.5 Z" transform="translate(1451.2,812.8) rotate(-40)"/><path d="M3.1 -1.5 Q5.7 0 3.1 1.5 L-0.3 3.5 Q-2.8 4.9 -2.9 2 L-2.9 -2 Q-2.9 -4.9 -0.3 -3.5 Z" transform="translate(1470.4,812.8) rotate(-80)"/><path d="M3.1 -1.5 Q5.7 0 3.1 1.5 L-0.3 3.5 Q-2.8 4.9 -2.9 2 L-2.9 -2 Q-2.9 -4.9 -0.3 -3.5 Z" transform="translate(1489.6,812.8) rotate(0)"/><path d="M3.1 -1.5 Q5.7 0 3.1 1.5 L-0.3 3.5 Q-2.8 4.9 -2.9 2 L-2.9 -2 Q-2.9 -4.9 -0.3 -3.5 Z" transform="translate(1508.8,812.8) rotate(-40)"/><path d="M3.1 -1.5 Q5.7 0 3.1 1.5 L-0.3 3.5 Q-2.8 4.9 -2.9 2 L-2.9 -2 Q-2.9 -4.9 -0.3 -3.5 Z" transform="translate(1528,812.8) rotate(-80)"/><path d="M3.1 -1.5 Q5.7 0 3.1 1.5 L-0.3 3.5 Q-2.8 4.9 -2.9 2 L-2.9 -2 Q-2.9 -4.9 -0.3 -3.5 Z" transform="translate(1547.2,812.8) rotate(-10)"/><path d="M3.1 -1.5 Q5.7 0 3.1 1.5 L-0.3 3.5 Q-2.8 4.9 -2.9 2 L-2.9 -2 Q-2.9 -4.9 -0.3 -3.5 Z" transform="translate(1566.4,812.8) rotate(-70)"/><path d="M3.1 -1.5 Q5.7 0 3.1 1.5 L-0.3 3.5 Q-2.8 4.9 -2.9 2 L-2.9 -2 Q-2.9 -4.9 -0.3 -3.5 Z" transform="translate(1585.6,812.8) rotate(-30)"/><path d="M3.1 -1.5 Q5.7 0 3.1 1.5 L-0.3 3.5 Q-2.8 4.9 -2.9 2 L-2.9 -2 Q-2.9 -4.9 -0.3 -3.5 Z" transform="translate(1182.4,831.8) rotate(-10)"/><path d="M3.1 -1.5 Q5.7 0 3.1 1.5 L-0.3 3.5 Q-2.8 4.9 -2.9 2 L-2.9 -2 Q-2.9 -4.9 -0.3 -3.5 Z" transform="translate(1201.6,831.8) rotate(-40)"/><path d="M3.1 -1.5 Q5.7 0 3.1 1.5 L-0.3 3.5 Q-2.8 4.9 -2.9 2 L-2.9 -2 Q-2.9 -4.9 -0.3 -3.5 Z" transform="translate(1220.8,831.8) rotate(-70)"/><path d="M3.1 -1.5 Q5.7 0 3.1 1.5 L-0.3 3.5 Q-2.8 4.9 -2.9 2 L-2.9 -2 Q-2.9 -4.9 -0.3 -3.5 Z" transform="translate(1240,831.8) rotate(-90)"/><path d="M3.1 -1.5 Q5.7 0 3.1 1.5 L-0.3 3.5 Q-2.8 4.9 -2.9 2 L-2.9 -2 Q-2.9 -4.9 -0.3 -3.5 Z" transform="translate(1259.2,831.8) rotate(-110)"/><path d="M3.1 -1.5 Q5.7 0 3.1 1.5 L-0.3 3.5 Q-2.8 4.9 -2.9 2 L-2.9 -2 Q-2.9 -4.9 -0.3 -3.5 Z" transform="translate(1278.4,831.8) rotate(-110)"/><path d="M3.1 -1.5 Q5.7 0 3.1 1.5 L-0.3 3.5 Q-2.8 4.9 -2.9 2 L-2.9 -2 Q-2.9 -4.9 -0.3 -3.5 Z" transform="translate(1297.6,831.8) rotate(-100)"/><path d="M3.1 -1.5 Q5.7 0 3.1 1.5 L-0.3 3.5 Q-2.8 4.9 -2.9 2 L-2.9 -2 Q-2.9 -4.9 -0.3 -3.5 Z" transform="translate(1316.8,831.8) rotate(-100)"/><path d="M3.1 -1.5 Q5.7 0 3.1 1.5 L-0.3 3.5 Q-2.8 4.9 -2.9 2 L-2.9 -2 Q-2.9 -4.9 -0.3 -3.5 Z" transform="translate(1336,831.8) rotate(-100)"/><path d="M3.1 -1.5 Q5.7 0 3.1 1.5 L-0.3 3.5 Q-2.8 4.9 -2.9 2 L-2.9 -2 Q-2.9 -4.9 -0.3 -3.5 Z" transform="translate(1355.2,831.8) rotate(-120)"/><path d="M3.1 -1.5 Q5.7 0 3.1 1.5 L-0.3 3.5 Q-2.8 4.9 -2.9 2 L-2.9 -2 Q-2.9 -4.9 -0.3 -3.5 Z" transform="translate(1374.4,831.8) rotate(-20)"/><path d="M3.1 -1.5 Q5.7 0 3.1 1.5 L-0.3 3.5 Q-2.8 4.9 -2.9 2 L-2.9 -2 Q-2.9 -4.9 -0.3 -3.5 Z" transform="translate(1393.6,831.8) rotate(-60)"/><path d="M3.1 -1.5 Q5.7 0 3.1 1.5 L-0.3 3.5 Q-2.8 4.9 -2.9 2 L-2.9 -2 Q-2.9 -4.9 -0.3 -3.5 Z" transform="translate(1412.8,831.8) rotate(-100)"/><path d="M3.1 -1.5 Q5.7 0 3.1 1.5 L-0.3 3.5 Q-2.8 4.9 -2.9 2 L-2.9 -2 Q-2.9 -4.9 -0.3 -3.5 Z" transform="translate(1432,831.8) rotate(-30)"/><path d="M3.1 -1.5 Q5.7 0 3.1 1.5 L-0.3 3.5 Q-2.8 4.9 -2.9 2 L-2.9 -2 Q-2.9 -4.9 -0.3 -3.5 Z" transform="translate(1451.2,831.8) rotate(-70)"/><path d="M3.1 -1.5 Q5.7 0 3.1 1.5 L-0.3 3.5 Q-2.8 4.9 -2.9 2 L-2.9 -2 Q-2.9 -4.9 -0.3 -3.5 Z" transform="translate(1470.4,831.8) rotate(-100)"/><path d="M3.1 -1.5 Q5.7 0 3.1 1.5 L-0.3 3.5 Q-2.8 4.9 -2.9 2 L-2.9 -2 Q-2.9 -4.9 -0.3 -3.5 Z" transform="translate(1489.6,831.8) rotate(-10)"/><path d="M3.1 -1.5 Q5.7 0 3.1 1.5 L-0.3 3.5 Q-2.8 4.9 -2.9 2 L-2.9 -2 Q-2.9 -4.9 -0.3 -3.5 Z" transform="translate(1508.8,831.8) rotate(-40)"/><path d="M3.1 -1.5 Q5.7 0 3.1 1.5 L-0.3 3.5 Q-2.8 4.9 -2.9 2 L-2.9 -2 Q-2.9 -4.9 -0.3 -3.5 Z" transform="translate(1528,831.8) rotate(-80)"/><path d="M3.1 -1.5 Q5.7 0 3.1 1.5 L-0.3 3.5 Q-2.8 4.9 -2.9 2 L-2.9 -2 Q-2.9 -4.9 -0.3 -3.5 Z" transform="translate(1547.2,831.8) rotate(-120)"/><path d="M3.1 -1.5 Q5.7 0 3.1 1.5 L-0.3 3.5 Q-2.8 4.9 -2.9 2 L-2.9 -2 Q-2.9 -4.9 -0.3 -3.5 Z" transform="translate(1566.4,831.8) rotate(-60)"/><path d="M3.1 -1.5 Q5.7 0 3.1 1.5 L-0.3 3.5 Q-2.8 4.9 -2.9 2 L-2.9 -2 Q-2.9 -4.9 -0.3 -3.5 Z" transform="translate(1585.6,831.8) rotate(-10)"/><path d="M3.1 -1.5 Q5.7 0 3.1 1.5 L-0.3 3.5 Q-2.8 4.9 -2.9 2 L-2.9 -2 Q-2.9 -4.9 -0.3 -3.5 Z" transform="translate(1182.4,850.9) rotate(-120)"/><path d="M3.1 -1.5 Q5.7 0 3.1 1.5 L-0.3 3.5 Q-2.8 4.9 -2.9 2 L-2.9 -2 Q-2.9 -4.9 -0.3 -3.5 Z" transform="translate(1201.6,850.9) rotate(-30)"/><path d="M3.1 -1.5 Q5.7 0 3.1 1.5 L-0.3 3.5 Q-2.8 4.9 -2.9 2 L-2.9 -2 Q-2.9 -4.9 -0.3 -3.5 Z" transform="translate(1220.8,850.9) rotate(-60)"/><path d="M3.1 -1.5 Q5.7 0 3.1 1.5 L-0.3 3.5 Q-2.8 4.9 -2.9 2 L-2.9 -2 Q-2.9 -4.9 -0.3 -3.5 Z" transform="translate(1240,850.9) rotate(-80)"/><path d="M3.1 -1.5 Q5.7 0 3.1 1.5 L-0.3 3.5 Q-2.8 4.9 -2.9 2 L-2.9 -2 Q-2.9 -4.9 -0.3 -3.5 Z" transform="translate(1259.2,850.9) rotate(-90)"/><path d="M3.1 -1.5 Q5.7 0 3.1 1.5 L-0.3 3.5 Q-2.8 4.9 -2.9 2 L-2.9 -2 Q-2.9 -4.9 -0.3 -3.5 Z" transform="translate(1278.4,850.9) rotate(-100)"/><path d="M3.1 -1.5 Q5.7 0 3.1 1.5 L-0.3 3.5 Q-2.8 4.9 -2.9 2 L-2.9 -2 Q-2.9 -4.9 -0.3 -3.5 Z" transform="translate(1297.6,850.9) rotate(-100)"/><path d="M3.1 -1.5 Q5.7 0 3.1 1.5 L-0.3 3.5 Q-2.8 4.9 -2.9 2 L-2.9 -2 Q-2.9 -4.9 -0.3 -3.5 Z" transform="translate(1316.8,850.9) rotate(-110)"/><path d="M3.1 -1.5 Q5.7 0 3.1 1.5 L-0.3 3.5 Q-2.8 4.9 -2.9 2 L-2.9 -2 Q-2.9 -4.9 -0.3 -3.5 Z" transform="translate(1336,850.9) rotate(0)"/><path d="M3.1 -1.5 Q5.7 0 3.1 1.5 L-0.3 3.5 Q-2.8 4.9 -2.9 2 L-2.9 -2 Q-2.9 -4.9 -0.3 -3.5 Z" transform="translate(1355.2,850.9) rotate(-30)"/><path d="M3.1 -1.5 Q5.7 0 3.1 1.5 L-0.3 3.5 Q-2.8 4.9 -2.9 2 L-2.9 -2 Q-2.9 -4.9 -0.3 -3.5 Z" transform="translate(1374.4,850.9) rotate(-60)"/><path d="M3.1 -1.5 Q5.7 0 3.1 1.5 L-0.3 3.5 Q-2.8 4.9 -2.9 2 L-2.9 -2 Q-2.9 -4.9 -0.3 -3.5 Z" transform="translate(1393.6,850.9) rotate(-100)"/><path d="M3.1 -1.5 Q5.7 0 3.1 1.5 L-0.3 3.5 Q-2.8 4.9 -2.9 2 L-2.9 -2 Q-2.9 -4.9 -0.3 -3.5 Z" transform="translate(1412.8,850.9) rotate(-30)"/><path d="M3.1 -1.5 Q5.7 0 3.1 1.5 L-0.3 3.5 Q-2.8 4.9 -2.9 2 L-2.9 -2 Q-2.9 -4.9 -0.3 -3.5 Z" transform="translate(1432,850.9) rotate(-70)"/><path d="M3.1 -1.5 Q5.7 0 3.1 1.5 L-0.3 3.5 Q-2.8 4.9 -2.9 2 L-2.9 -2 Q-2.9 -4.9 -0.3 -3.5 Z" transform="translate(1451.2,850.9) rotate(-110)"/><path d="M3.1 -1.5 Q5.7 0 3.1 1.5 L-0.3 3.5 Q-2.8 4.9 -2.9 2 L-2.9 -2 Q-2.9 -4.9 -0.3 -3.5 Z" transform="translate(1470.4,850.9) rotate(-20)"/><path d="M3.1 -1.5 Q5.7 0 3.1 1.5 L-0.3 3.5 Q-2.8 4.9 -2.9 2 L-2.9 -2 Q-2.9 -4.9 -0.3 -3.5 Z" transform="translate(1489.6,850.9) rotate(-40)"/><path d="M3.1 -1.5 Q5.7 0 3.1 1.5 L-0.3 3.5 Q-2.8 4.9 -2.9 2 L-2.9 -2 Q-2.9 -4.9 -0.3 -3.5 Z" transform="translate(1508.8,850.9) rotate(-70)"/><path d="M3.1 -1.5 Q5.7 0 3.1 1.5 L-0.3 3.5 Q-2.8 4.9 -2.9 2 L-2.9 -2 Q-2.9 -4.9 -0.3 -3.5 Z" transform="translate(1528,850.9) rotate(-90)"/><path d="M3.1 -1.5 Q5.7 0 3.1 1.5 L-0.3 3.5 Q-2.8 4.9 -2.9 2 L-2.9 -2 Q-2.9 -4.9 -0.3 -3.5 Z" transform="translate(1547.2,850.9) rotate(-10)"/><path d="M3.1 -1.5 Q5.7 0 3.1 1.5 L-0.3 3.5 Q-2.8 4.9 -2.9 2 L-2.9 -2 Q-2.9 -4.9 -0.3 -3.5 Z" transform="translate(1566.4,850.9) rotate(-70)"/><path d="M3.1 -1.5 Q5.7 0 3.1 1.5 L-0.3 3.5 Q-2.8 4.9 -2.9 2 L-2.9 -2 Q-2.9 -4.9 -0.3 -3.5 Z" transform="translate(1585.6,850.9) rotate(-20)"/><path d="M3.1 -1.5 Q5.7 0 3.1 1.5 L-0.3 3.5 Q-2.8 4.9 -2.9 2 L-2.9 -2 Q-2.9 -4.9 -0.3 -3.5 Z" transform="translate(1182.4,869.9) rotate(0)"/><path d="M3.1 -1.5 Q5.7 0 3.1 1.5 L-0.3 3.5 Q-2.8 4.9 -2.9 2 L-2.9 -2 Q-2.9 -4.9 -0.3 -3.5 Z" transform="translate(1201.6,869.9) rotate(-20)"/><path d="M3.1 -1.5 Q5.7 0 3.1 1.5 L-0.3 3.5 Q-2.8 4.9 -2.9 2 L-2.9 -2 Q-2.9 -4.9 -0.3 -3.5 Z" transform="translate(1220.8,869.9) rotate(-50)"/><path d="M3.1 -1.5 Q5.7 0 3.1 1.5 L-0.3 3.5 Q-2.8 4.9 -2.9 2 L-2.9 -2 Q-2.9 -4.9 -0.3 -3.5 Z" transform="translate(1240,869.9) rotate(-60)"/><path d="M3.1 -1.5 Q5.7 0 3.1 1.5 L-0.3 3.5 Q-2.8 4.9 -2.9 2 L-2.9 -2 Q-2.9 -4.9 -0.3 -3.5 Z" transform="translate(1259.2,869.9) rotate(-70)"/><path d="M3.1 -1.5 Q5.7 0 3.1 1.5 L-0.3 3.5 Q-2.8 4.9 -2.9 2 L-2.9 -2 Q-2.9 -4.9 -0.3 -3.5 Z" transform="translate(1278.4,869.9) rotate(-80)"/><path d="M3.1 -1.5 Q5.7 0 3.1 1.5 L-0.3 3.5 Q-2.8 4.9 -2.9 2 L-2.9 -2 Q-2.9 -4.9 -0.3 -3.5 Z" transform="translate(1297.6,869.9) rotate(-90)"/><path d="M3.1 -1.5 Q5.7 0 3.1 1.5 L-0.3 3.5 Q-2.8 4.9 -2.9 2 L-2.9 -2 Q-2.9 -4.9 -0.3 -3.5 Z" transform="translate(1316.8,869.9) rotate(-100)"/><path d="M3.1 -1.5 Q5.7 0 3.1 1.5 L-0.3 3.5 Q-2.8 4.9 -2.9 2 L-2.9 -2 Q-2.9 -4.9 -0.3 -3.5 Z" transform="translate(1336,869.9) rotate(-10)"/><path d="M3.1 -1.5 Q5.7 0 3.1 1.5 L-0.3 3.5 Q-2.8 4.9 -2.9 2 L-2.9 -2 Q-2.9 -4.9 -0.3 -3.5 Z" transform="translate(1355.2,869.9) rotate(-40)"/><path d="M3.1 -1.5 Q5.7 0 3.1 1.5 L-0.3 3.5 Q-2.8 4.9 -2.9 2 L-2.9 -2 Q-2.9 -4.9 -0.3 -3.5 Z" transform="translate(1374.4,869.9) rotate(-90)"/><path d="M3.1 -1.5 Q5.7 0 3.1 1.5 L-0.3 3.5 Q-2.8 4.9 -2.9 2 L-2.9 -2 Q-2.9 -4.9 -0.3 -3.5 Z" transform="translate(1393.6,869.9) rotate(-20)"/><path d="M3.1 -1.5 Q5.7 0 3.1 1.5 L-0.3 3.5 Q-2.8 4.9 -2.9 2 L-2.9 -2 Q-2.9 -4.9 -0.3 -3.5 Z" transform="translate(1412.8,869.9) rotate(-70)"/><path d="M3.1 -1.5 Q5.7 0 3.1 1.5 L-0.3 3.5 Q-2.8 4.9 -2.9 2 L-2.9 -2 Q-2.9 -4.9 -0.3 -3.5 Z" transform="translate(1432,869.9) rotate(-120)"/><path d="M3.1 -1.5 Q5.7 0 3.1 1.5 L-0.3 3.5 Q-2.8 4.9 -2.9 2 L-2.9 -2 Q-2.9 -4.9 -0.3 -3.5 Z" transform="translate(1451.2,869.9) rotate(-40)"/><path d="M3.1 -1.5 Q5.7 0 3.1 1.5 L-0.3 3.5 Q-2.8 4.9 -2.9 2 L-2.9 -2 Q-2.9 -4.9 -0.3 -3.5 Z" transform="translate(1470.4,869.9) rotate(-60)"/><path d="M3.1 -1.5 Q5.7 0 3.1 1.5 L-0.3 3.5 Q-2.8 4.9 -2.9 2 L-2.9 -2 Q-2.9 -4.9 -0.3 -3.5 Z" transform="translate(1489.6,869.9) rotate(-80)"/><path d="M3.1 -1.5 Q5.7 0 3.1 1.5 L-0.3 3.5 Q-2.8 4.9 -2.9 2 L-2.9 -2 Q-2.9 -4.9 -0.3 -3.5 Z" transform="translate(1508.8,869.9) rotate(-100)"/><path d="M3.1 -1.5 Q5.7 0 3.1 1.5 L-0.3 3.5 Q-2.8 4.9 -2.9 2 L-2.9 -2 Q-2.9 -4.9 -0.3 -3.5 Z" transform="translate(1528,869.9) rotate(-10)"/><path d="M3.1 -1.5 Q5.7 0 3.1 1.5 L-0.3 3.5 Q-2.8 4.9 -2.9 2 L-2.9 -2 Q-2.9 -4.9 -0.3 -3.5 Z" transform="translate(1547.2,869.9) rotate(-50)"/><path d="M3.1 -1.5 Q5.7 0 3.1 1.5 L-0.3 3.5 Q-2.8 4.9 -2.9 2 L-2.9 -2 Q-2.9 -4.9 -0.3 -3.5 Z" transform="translate(1566.4,869.9) rotate(-100)"/><path d="M3.1 -1.5 Q5.7 0 3.1 1.5 L-0.3 3.5 Q-2.8 4.9 -2.9 2 L-2.9 -2 Q-2.9 -4.9 -0.3 -3.5 Z" transform="translate(1585.6,869.9) rotate(-50)"/><path d="M3.1 -1.5 Q5.7 0 3.1 1.5 L-0.3 3.5 Q-2.8 4.9 -2.9 2 L-2.9 -2 Q-2.9 -4.9 -0.3 -3.5 Z" transform="translate(1182.4,889) rotate(-20)"/><path d="M3.1 -1.5 Q5.7 0 3.1 1.5 L-0.3 3.5 Q-2.8 4.9 -2.9 2 L-2.9 -2 Q-2.9 -4.9 -0.3 -3.5 Z" transform="translate(1201.6,889) rotate(-40)"/><path d="M3.1 -1.5 Q5.7 0 3.1 1.5 L-0.3 3.5 Q-2.8 4.9 -2.9 2 L-2.9 -2 Q-2.9 -4.9 -0.3 -3.5 Z" transform="translate(1220.8,889) rotate(-50)"/><path d="M3.1 -1.5 Q5.7 0 3.1 1.5 L-0.3 3.5 Q-2.8 4.9 -2.9 2 L-2.9 -2 Q-2.9 -4.9 -0.3 -3.5 Z" transform="translate(1240,889) rotate(-50)"/><path d="M3.1 -1.5 Q5.7 0 3.1 1.5 L-0.3 3.5 Q-2.8 4.9 -2.9 2 L-2.9 -2 Q-2.9 -4.9 -0.3 -3.5 Z" transform="translate(1259.2,889) rotate(-60)"/><path d="M3.1 -1.5 Q5.7 0 3.1 1.5 L-0.3 3.5 Q-2.8 4.9 -2.9 2 L-2.9 -2 Q-2.9 -4.9 -0.3 -3.5 Z" transform="translate(1278.4,889) rotate(-60)"/><path d="M3.1 -1.5 Q5.7 0 3.1 1.5 L-0.3 3.5 Q-2.8 4.9 -2.9 2 L-2.9 -2 Q-2.9 -4.9 -0.3 -3.5 Z" transform="translate(1297.6,889) rotate(-70)"/><path d="M3.1 -1.5 Q5.7 0 3.1 1.5 L-0.3 3.5 Q-2.8 4.9 -2.9 2 L-2.9 -2 Q-2.9 -4.9 -0.3 -3.5 Z" transform="translate(1316.8,889) rotate(-90)"/><path d="M3.1 -1.5 Q5.7 0 3.1 1.5 L-0.3 3.5 Q-2.8 4.9 -2.9 2 L-2.9 -2 Q-2.9 -4.9 -0.3 -3.5 Z" transform="translate(1336,889) rotate(0)"/><path d="M3.1 -1.5 Q5.7 0 3.1 1.5 L-0.3 3.5 Q-2.8 4.9 -2.9 2 L-2.9 -2 Q-2.9 -4.9 -0.3 -3.5 Z" transform="translate(1355.2,889) rotate(-50)"/><path d="M3.1 -1.5 Q5.7 0 3.1 1.5 L-0.3 3.5 Q-2.8 4.9 -2.9 2 L-2.9 -2 Q-2.9 -4.9 -0.3 -3.5 Z" transform="translate(1374.4,889) rotate(-100)"/><path d="M3.1 -1.5 Q5.7 0 3.1 1.5 L-0.3 3.5 Q-2.8 4.9 -2.9 2 L-2.9 -2 Q-2.9 -4.9 -0.3 -3.5 Z" transform="translate(1393.6,889) rotate(-40)"/><path d="M3.1 -1.5 Q5.7 0 3.1 1.5 L-0.3 3.5 Q-2.8 4.9 -2.9 2 L-2.9 -2 Q-2.9 -4.9 -0.3 -3.5 Z" transform="translate(1412.8,889) rotate(-100)"/><path d="M3.1 -1.5 Q5.7 0 3.1 1.5 L-0.3 3.5 Q-2.8 4.9 -2.9 2 L-2.9 -2 Q-2.9 -4.9 -0.3 -3.5 Z" transform="translate(1432,889) rotate(-30)"/><path d="M3.1 -1.5 Q5.7 0 3.1 1.5 L-0.3 3.5 Q-2.8 4.9 -2.9 2 L-2.9 -2 Q-2.9 -4.9 -0.3 -3.5 Z" transform="translate(1451.2,889) rotate(-70)"/><path d="M3.1 -1.5 Q5.7 0 3.1 1.5 L-0.3 3.5 Q-2.8 4.9 -2.9 2 L-2.9 -2 Q-2.9 -4.9 -0.3 -3.5 Z" transform="translate(1470.4,889) rotate(-100)"/><path d="M3.1 -1.5 Q5.7 0 3.1 1.5 L-0.3 3.5 Q-2.8 4.9 -2.9 2 L-2.9 -2 Q-2.9 -4.9 -0.3 -3.5 Z" transform="translate(1489.6,889) rotate(-10)"/><path d="M3.1 -1.5 Q5.7 0 3.1 1.5 L-0.3 3.5 Q-2.8 4.9 -2.9 2 L-2.9 -2 Q-2.9 -4.9 -0.3 -3.5 Z" transform="translate(1508.8,889) rotate(-30)"/><path d="M3.1 -1.5 Q5.7 0 3.1 1.5 L-0.3 3.5 Q-2.8 4.9 -2.9 2 L-2.9 -2 Q-2.9 -4.9 -0.3 -3.5 Z" transform="translate(1528,889) rotate(-60)"/><path d="M3.1 -1.5 Q5.7 0 3.1 1.5 L-0.3 3.5 Q-2.8 4.9 -2.9 2 L-2.9 -2 Q-2.9 -4.9 -0.3 -3.5 Z" transform="translate(1547.2,889) rotate(-100)"/><path d="M3.1 -1.5 Q5.7 0 3.1 1.5 L-0.3 3.5 Q-2.8 4.9 -2.9 2 L-2.9 -2 Q-2.9 -4.9 -0.3 -3.5 Z" transform="translate(1566.4,889) rotate(-30)"/><path d="M3.1 -1.5 Q5.7 0 3.1 1.5 L-0.3 3.5 Q-2.8 4.9 -2.9 2 L-2.9 -2 Q-2.9 -4.9 -0.3 -3.5 Z" transform="translate(1585.6,889) rotate(-100)"/><path d="M3.1 -1.5 Q5.7 0 3.1 1.5 L-0.3 3.5 Q-2.8 4.9 -2.9 2 L-2.9 -2 Q-2.9 -4.9 -0.3 -3.5 Z" transform="translate(1182.4,908) rotate(-70)"/><path d="M3.1 -1.5 Q5.7 0 3.1 1.5 L-0.3 3.5 Q-2.8 4.9 -2.9 2 L-2.9 -2 Q-2.9 -4.9 -0.3 -3.5 Z" transform="translate(1201.6,908) rotate(-70)"/><path d="M3.1 -1.5 Q5.7 0 3.1 1.5 L-0.3 3.5 Q-2.8 4.9 -2.9 2 L-2.9 -2 Q-2.9 -4.9 -0.3 -3.5 Z" transform="translate(1220.8,908) rotate(-70)"/><path d="M3.1 -1.5 Q5.7 0 3.1 1.5 L-0.3 3.5 Q-2.8 4.9 -2.9 2 L-2.9 -2 Q-2.9 -4.9 -0.3 -3.5 Z" transform="translate(1240,908) rotate(-60)"/><path d="M3.1 -1.5 Q5.7 0 3.1 1.5 L-0.3 3.5 Q-2.8 4.9 -2.9 2 L-2.9 -2 Q-2.9 -4.9 -0.3 -3.5 Z" transform="translate(1259.2,908) rotate(-60)"/><path d="M3.1 -1.5 Q5.7 0 3.1 1.5 L-0.3 3.5 Q-2.8 4.9 -2.9 2 L-2.9 -2 Q-2.9 -4.9 -0.3 -3.5 Z" transform="translate(1278.4,908) rotate(-60)"/><path d="M3.1 -1.5 Q5.7 0 3.1 1.5 L-0.3 3.5 Q-2.8 4.9 -2.9 2 L-2.9 -2 Q-2.9 -4.9 -0.3 -3.5 Z" transform="translate(1297.6,908) rotate(-60)"/><path d="M3.1 -1.5 Q5.7 0 3.1 1.5 L-0.3 3.5 Q-2.8 4.9 -2.9 2 L-2.9 -2 Q-2.9 -4.9 -0.3 -3.5 Z" transform="translate(1316.8,908) rotate(-80)"/><path d="M3.1 -1.5 Q5.7 0 3.1 1.5 L-0.3 3.5 Q-2.8 4.9 -2.9 2 L-2.9 -2 Q-2.9 -4.9 -0.3 -3.5 Z" transform="translate(1336,908) rotate(-120)"/><path d="M3.1 -1.5 Q5.7 0 3.1 1.5 L-0.3 3.5 Q-2.8 4.9 -2.9 2 L-2.9 -2 Q-2.9 -4.9 -0.3 -3.5 Z" transform="translate(1355.2,908) rotate(-50)"/><path d="M3.1 -1.5 Q5.7 0 3.1 1.5 L-0.3 3.5 Q-2.8 4.9 -2.9 2 L-2.9 -2 Q-2.9 -4.9 -0.3 -3.5 Z" transform="translate(1374.4,908) rotate(-110)"/><path d="M3.1 -1.5 Q5.7 0 3.1 1.5 L-0.3 3.5 Q-2.8 4.9 -2.9 2 L-2.9 -2 Q-2.9 -4.9 -0.3 -3.5 Z" transform="translate(1393.6,908) rotate(-50)"/><path d="M3.1 -1.5 Q5.7 0 3.1 1.5 L-0.3 3.5 Q-2.8 4.9 -2.9 2 L-2.9 -2 Q-2.9 -4.9 -0.3 -3.5 Z" transform="translate(1412.8,908) rotate(-110)"/><path d="M3.1 -1.5 Q5.7 0 3.1 1.5 L-0.3 3.5 Q-2.8 4.9 -2.9 2 L-2.9 -2 Q-2.9 -4.9 -0.3 -3.5 Z" transform="translate(1432,908) rotate(-50)"/><path d="M3.1 -1.5 Q5.7 0 3.1 1.5 L-0.3 3.5 Q-2.8 4.9 -2.9 2 L-2.9 -2 Q-2.9 -4.9 -0.3 -3.5 Z" transform="translate(1451.2,908) rotate(-90)"/><path d="M3.1 -1.5 Q5.7 0 3.1 1.5 L-0.3 3.5 Q-2.8 4.9 -2.9 2 L-2.9 -2 Q-2.9 -4.9 -0.3 -3.5 Z" transform="translate(1470.4,908) rotate(-10)"/><path d="M3.1 -1.5 Q5.7 0 3.1 1.5 L-0.3 3.5 Q-2.8 4.9 -2.9 2 L-2.9 -2 Q-2.9 -4.9 -0.3 -3.5 Z" transform="translate(1489.6,908) rotate(-40)"/><path d="M3.1 -1.5 Q5.7 0 3.1 1.5 L-0.3 3.5 Q-2.8 4.9 -2.9 2 L-2.9 -2 Q-2.9 -4.9 -0.3 -3.5 Z" transform="translate(1508.8,908) rotate(-70)"/><path d="M3.1 -1.5 Q5.7 0 3.1 1.5 L-0.3 3.5 Q-2.8 4.9 -2.9 2 L-2.9 -2 Q-2.9 -4.9 -0.3 -3.5 Z" transform="translate(1528,908) rotate(-100)"/><path d="M3.1 -1.5 Q5.7 0 3.1 1.5 L-0.3 3.5 Q-2.8 4.9 -2.9 2 L-2.9 -2 Q-2.9 -4.9 -0.3 -3.5 Z" transform="translate(1547.2,908) rotate(-30)"/><path d="M3.1 -1.5 Q5.7 0 3.1 1.5 L-0.3 3.5 Q-2.8 4.9 -2.9 2 L-2.9 -2 Q-2.9 -4.9 -0.3 -3.5 Z" transform="translate(1566.4,908) rotate(-90)"/><path d="M3.1 -1.5 Q5.7 0 3.1 1.5 L-0.3 3.5 Q-2.8 4.9 -2.9 2 L-2.9 -2 Q-2.9 -4.9 -0.3 -3.5 Z" transform="translate(1585.6,908) rotate(-40)"/><path d="M3.1 -1.5 Q5.7 0 3.1 1.5 L-0.3 3.5 Q-2.8 4.9 -2.9 2 L-2.9 -2 Q-2.9 -4.9 -0.3 -3.5 Z" transform="translate(1182.4,927.1) rotate(-10)"/><path d="M3.1 -1.5 Q5.7 0 3.1 1.5 L-0.3 3.5 Q-2.8 4.9 -2.9 2 L-2.9 -2 Q-2.9 -4.9 -0.3 -3.5 Z" transform="translate(1201.6,927.1) rotate(0)"/><path d="M3.1 -1.5 Q5.7 0 3.1 1.5 L-0.3 3.5 Q-2.8 4.9 -2.9 2 L-2.9 -2 Q-2.9 -4.9 -0.3 -3.5 Z" transform="translate(1220.8,927.1) rotate(-110)"/><path d="M3.1 -1.5 Q5.7 0 3.1 1.5 L-0.3 3.5 Q-2.8 4.9 -2.9 2 L-2.9 -2 Q-2.9 -4.9 -0.3 -3.5 Z" transform="translate(1240,927.1) rotate(-100)"/><path d="M3.1 -1.5 Q5.7 0 3.1 1.5 L-0.3 3.5 Q-2.8 4.9 -2.9 2 L-2.9 -2 Q-2.9 -4.9 -0.3 -3.5 Z" transform="translate(1259.2,927.1) rotate(-80)"/><path d="M3.1 -1.5 Q5.7 0 3.1 1.5 L-0.3 3.5 Q-2.8 4.9 -2.9 2 L-2.9 -2 Q-2.9 -4.9 -0.3 -3.5 Z" transform="translate(1278.4,927.1) rotate(-70)"/><path d="M3.1 -1.5 Q5.7 0 3.1 1.5 L-0.3 3.5 Q-2.8 4.9 -2.9 2 L-2.9 -2 Q-2.9 -4.9 -0.3 -3.5 Z" transform="translate(1297.6,927.1) rotate(-70)"/><path d="M3.1 -1.5 Q5.7 0 3.1 1.5 L-0.3 3.5 Q-2.8 4.9 -2.9 2 L-2.9 -2 Q-2.9 -4.9 -0.3 -3.5 Z" transform="translate(1316.8,927.1) rotate(-90)"/><path d="M3.1 -1.5 Q5.7 0 3.1 1.5 L-0.3 3.5 Q-2.8 4.9 -2.9 2 L-2.9 -2 Q-2.9 -4.9 -0.3 -3.5 Z" transform="translate(1336,927.1) rotate(0)"/><path d="M3.1 -1.5 Q5.7 0 3.1 1.5 L-0.3 3.5 Q-2.8 4.9 -2.9 2 L-2.9 -2 Q-2.9 -4.9 -0.3 -3.5 Z" transform="translate(1355.2,927.1) rotate(-50)"/><path d="M3.1 -1.5 Q5.7 0 3.1 1.5 L-0.3 3.5 Q-2.8 4.9 -2.9 2 L-2.9 -2 Q-2.9 -4.9 -0.3 -3.5 Z" transform="translate(1374.4,927.1) rotate(-110)"/><path d="M3.1 -1.5 Q5.7 0 3.1 1.5 L-0.3 3.5 Q-2.8 4.9 -2.9 2 L-2.9 -2 Q-2.9 -4.9 -0.3 -3.5 Z" transform="translate(1393.6,927.1) rotate(-60)"/><path d="M3.1 -1.5 Q5.7 0 3.1 1.5 L-0.3 3.5 Q-2.8 4.9 -2.9 2 L-2.9 -2 Q-2.9 -4.9 -0.3 -3.5 Z" transform="translate(1412.8,927.1) rotate(-120)"/><path d="M3.1 -1.5 Q5.7 0 3.1 1.5 L-0.3 3.5 Q-2.8 4.9 -2.9 2 L-2.9 -2 Q-2.9 -4.9 -0.3 -3.5 Z" transform="translate(1432,927.1) rotate(-50)"/><path d="M3.1 -1.5 Q5.7 0 3.1 1.5 L-0.3 3.5 Q-2.8 4.9 -2.9 2 L-2.9 -2 Q-2.9 -4.9 -0.3 -3.5 Z" transform="translate(1451.2,927.1) rotate(-100)"/><path d="M3.1 -1.5 Q5.7 0 3.1 1.5 L-0.3 3.5 Q-2.8 4.9 -2.9 2 L-2.9 -2 Q-2.9 -4.9 -0.3 -3.5 Z" transform="translate(1470.4,927.1) rotate(-20)"/><path d="M3.1 -1.5 Q5.7 0 3.1 1.5 L-0.3 3.5 Q-2.8 4.9 -2.9 2 L-2.9 -2 Q-2.9 -4.9 -0.3 -3.5 Z" transform="translate(1489.6,927.1) rotate(-50)"/><path d="M3.1 -1.5 Q5.7 0 3.1 1.5 L-0.3 3.5 Q-2.8 4.9 -2.9 2 L-2.9 -2 Q-2.9 -4.9 -0.3 -3.5 Z" transform="translate(1508.8,927.1) rotate(-90)"/><path d="M3.1 -1.5 Q5.7 0 3.1 1.5 L-0.3 3.5 Q-2.8 4.9 -2.9 2 L-2.9 -2 Q-2.9 -4.9 -0.3 -3.5 Z" transform="translate(1528,927.1) rotate(-20)"/><path d="M3.1 -1.5 Q5.7 0 3.1 1.5 L-0.3 3.5 Q-2.8 4.9 -2.9 2 L-2.9 -2 Q-2.9 -4.9 -0.3 -3.5 Z" transform="translate(1547.2,927.1) rotate(-80)"/><path d="M3.1 -1.5 Q5.7 0 3.1 1.5 L-0.3 3.5 Q-2.8 4.9 -2.9 2 L-2.9 -2 Q-2.9 -4.9 -0.3 -3.5 Z" transform="translate(1566.4,927.1) rotate(-30)"/><path d="M3.1 -1.5 Q5.7 0 3.1 1.5 L-0.3 3.5 Q-2.8 4.9 -2.9 2 L-2.9 -2 Q-2.9 -4.9 -0.3 -3.5 Z" transform="translate(1585.6,927.1) rotate(-100)"/><path d="M3.1 -1.5 Q5.7 0 3.1 1.5 L-0.3 3.5 Q-2.8 4.9 -2.9 2 L-2.9 -2 Q-2.9 -4.9 -0.3 -3.5 Z" transform="translate(1182.4,946.1) rotate(-80)"/><path d="M3.1 -1.5 Q5.7 0 3.1 1.5 L-0.3 3.5 Q-2.8 4.9 -2.9 2 L-2.9 -2 Q-2.9 -4.9 -0.3 -3.5 Z" transform="translate(1201.6,946.1) rotate(-70)"/><path d="M3.1 -1.5 Q5.7 0 3.1 1.5 L-0.3 3.5 Q-2.8 4.9 -2.9 2 L-2.9 -2 Q-2.9 -4.9 -0.3 -3.5 Z" transform="translate(1220.8,946.1) rotate(-50)"/><path d="M3.1 -1.5 Q5.7 0 3.1 1.5 L-0.3 3.5 Q-2.8 4.9 -2.9 2 L-2.9 -2 Q-2.9 -4.9 -0.3 -3.5 Z" transform="translate(1240,946.1) rotate(-30)"/><path d="M3.1 -1.5 Q5.7 0 3.1 1.5 L-0.3 3.5 Q-2.8 4.9 -2.9 2 L-2.9 -2 Q-2.9 -4.9 -0.3 -3.5 Z" transform="translate(1259.2,946.1) rotate(-10)"/><path d="M3.1 -1.5 Q5.7 0 3.1 1.5 L-0.3 3.5 Q-2.8 4.9 -2.9 2 L-2.9 -2 Q-2.9 -4.9 -0.3 -3.5 Z" transform="translate(1278.4,946.1) rotate(-110)"/><path d="M3.1 -1.5 Q5.7 0 3.1 1.5 L-0.3 3.5 Q-2.8 4.9 -2.9 2 L-2.9 -2 Q-2.9 -4.9 -0.3 -3.5 Z" transform="translate(1297.6,946.1) rotate(-110)"/><path d="M3.1 -1.5 Q5.7 0 3.1 1.5 L-0.3 3.5 Q-2.8 4.9 -2.9 2 L-2.9 -2 Q-2.9 -4.9 -0.3 -3.5 Z" transform="translate(1316.8,946.1) rotate(-120)"/><path d="M3.1 -1.5 Q5.7 0 3.1 1.5 L-0.3 3.5 Q-2.8 4.9 -2.9 2 L-2.9 -2 Q-2.9 -4.9 -0.3 -3.5 Z" transform="translate(1336,946.1) rotate(-30)"/><path d="M3.1 -1.5 Q5.7 0 3.1 1.5 L-0.3 3.5 Q-2.8 4.9 -2.9 2 L-2.9 -2 Q-2.9 -4.9 -0.3 -3.5 Z" transform="translate(1355.2,946.1) rotate(-80)"/><path d="M3.1 -1.5 Q5.7 0 3.1 1.5 L-0.3 3.5 Q-2.8 4.9 -2.9 2 L-2.9 -2 Q-2.9 -4.9 -0.3 -3.5 Z" transform="translate(1374.4,946.1) rotate(-10)"/><path d="M3.1 -1.5 Q5.7 0 3.1 1.5 L-0.3 3.5 Q-2.8 4.9 -2.9 2 L-2.9 -2 Q-2.9 -4.9 -0.3 -3.5 Z" transform="translate(1393.6,946.1) rotate(-70)"/><path d="M3.1 -1.5 Q5.7 0 3.1 1.5 L-0.3 3.5 Q-2.8 4.9 -2.9 2 L-2.9 -2 Q-2.9 -4.9 -0.3 -3.5 Z" transform="translate(1412.8,946.1) rotate(0)"/><path d="M3.1 -1.5 Q5.7 0 3.1 1.5 L-0.3 3.5 Q-2.8 4.9 -2.9 2 L-2.9 -2 Q-2.9 -4.9 -0.3 -3.5 Z" transform="translate(1432,946.1) rotate(-50)"/><path d="M3.1 -1.5 Q5.7 0 3.1 1.5 L-0.3 3.5 Q-2.8 4.9 -2.9 2 L-2.9 -2 Q-2.9 -4.9 -0.3 -3.5 Z" transform="translate(1451.2,946.1) rotate(-100)"/><path d="M3.1 -1.5 Q5.7 0 3.1 1.5 L-0.3 3.5 Q-2.8 4.9 -2.9 2 L-2.9 -2 Q-2.9 -4.9 -0.3 -3.5 Z" transform="translate(1470.4,946.1) rotate(-20)"/><path d="M3.1 -1.5 Q5.7 0 3.1 1.5 L-0.3 3.5 Q-2.8 4.9 -2.9 2 L-2.9 -2 Q-2.9 -4.9 -0.3 -3.5 Z" transform="translate(1489.6,946.1) rotate(-60)"/><path d="M3.1 -1.5 Q5.7 0 3.1 1.5 L-0.3 3.5 Q-2.8 4.9 -2.9 2 L-2.9 -2 Q-2.9 -4.9 -0.3 -3.5 Z" transform="translate(1508.8,946.1) rotate(-110)"/><path d="M3.1 -1.5 Q5.7 0 3.1 1.5 L-0.3 3.5 Q-2.8 4.9 -2.9 2 L-2.9 -2 Q-2.9 -4.9 -0.3 -3.5 Z" transform="translate(1528,946.1) rotate(-50)"/><path d="M3.1 -1.5 Q5.7 0 3.1 1.5 L-0.3 3.5 Q-2.8 4.9 -2.9 2 L-2.9 -2 Q-2.9 -4.9 -0.3 -3.5 Z" transform="translate(1547.2,946.1) rotate(-120)"/><path d="M3.1 -1.5 Q5.7 0 3.1 1.5 L-0.3 3.5 Q-2.8 4.9 -2.9 2 L-2.9 -2 Q-2.9 -4.9 -0.3 -3.5 Z" transform="translate(1566.4,946.1) rotate(-80)"/><path d="M3.1 -1.5 Q5.7 0 3.1 1.5 L-0.3 3.5 Q-2.8 4.9 -2.9 2 L-2.9 -2 Q-2.9 -4.9 -0.3 -3.5 Z" transform="translate(1585.6,946.1) rotate(-40)"/><path d="M3.1 -1.5 Q5.7 0 3.1 1.5 L-0.3 3.5 Q-2.8 4.9 -2.9 2 L-2.9 -2 Q-2.9 -4.9 -0.3 -3.5 Z" transform="translate(1182.4,965.2) rotate(-30)"/><path d="M3.1 -1.5 Q5.7 0 3.1 1.5 L-0.3 3.5 Q-2.8 4.9 -2.9 2 L-2.9 -2 Q-2.9 -4.9 -0.3 -3.5 Z" transform="translate(1201.6,965.2) rotate(-20)"/><path d="M3.1 -1.5 Q5.7 0 3.1 1.5 L-0.3 3.5 Q-2.8 4.9 -2.9 2 L-2.9 -2 Q-2.9 -4.9 -0.3 -3.5 Z" transform="translate(1220.8,965.2) rotate(-120)"/><path d="M3.1 -1.5 Q5.7 0 3.1 1.5 L-0.3 3.5 Q-2.8 4.9 -2.9 2 L-2.9 -2 Q-2.9 -4.9 -0.3 -3.5 Z" transform="translate(1240,965.2) rotate(-90)"/><path d="M3.1 -1.5 Q5.7 0 3.1 1.5 L-0.3 3.5 Q-2.8 4.9 -2.9 2 L-2.9 -2 Q-2.9 -4.9 -0.3 -3.5 Z" transform="translate(1259.2,965.2) rotate(-70)"/><path d="M3.1 -1.5 Q5.7 0 3.1 1.5 L-0.3 3.5 Q-2.8 4.9 -2.9 2 L-2.9 -2 Q-2.9 -4.9 -0.3 -3.5 Z" transform="translate(1278.4,965.2) rotate(-50)"/><path d="M3.1 -1.5 Q5.7 0 3.1 1.5 L-0.3 3.5 Q-2.8 4.9 -2.9 2 L-2.9 -2 Q-2.9 -4.9 -0.3 -3.5 Z" transform="translate(1297.6,965.2) rotate(-40)"/><path d="M3.1 -1.5 Q5.7 0 3.1 1.5 L-0.3 3.5 Q-2.8 4.9 -2.9 2 L-2.9 -2 Q-2.9 -4.9 -0.3 -3.5 Z" transform="translate(1316.8,965.2) rotate(-50)"/><path d="M3.1 -1.5 Q5.7 0 3.1 1.5 L-0.3 3.5 Q-2.8 4.9 -2.9 2 L-2.9 -2 Q-2.9 -4.9 -0.3 -3.5 Z" transform="translate(1336,965.2) rotate(-80)"/><path d="M3.1 -1.5 Q5.7 0 3.1 1.5 L-0.3 3.5 Q-2.8 4.9 -2.9 2 L-2.9 -2 Q-2.9 -4.9 -0.3 -3.5 Z" transform="translate(1355.2,965.2) rotate(0)"/><path d="M3.1 -1.5 Q5.7 0 3.1 1.5 L-0.3 3.5 Q-2.8 4.9 -2.9 2 L-2.9 -2 Q-2.9 -4.9 -0.3 -3.5 Z" transform="translate(1374.4,965.2) rotate(-50)"/><path d="M3.1 -1.5 Q5.7 0 3.1 1.5 L-0.3 3.5 Q-2.8 4.9 -2.9 2 L-2.9 -2 Q-2.9 -4.9 -0.3 -3.5 Z" transform="translate(1393.6,965.2) rotate(-100)"/><path d="M3.1 -1.5 Q5.7 0 3.1 1.5 L-0.3 3.5 Q-2.8 4.9 -2.9 2 L-2.9 -2 Q-2.9 -4.9 -0.3 -3.5 Z" transform="translate(1412.8,965.2) rotate(-20)"/><path d="M3.1 -1.5 Q5.7 0 3.1 1.5 L-0.3 3.5 Q-2.8 4.9 -2.9 2 L-2.9 -2 Q-2.9 -4.9 -0.3 -3.5 Z" transform="translate(1432,965.2) rotate(-60)"/><path d="M3.1 -1.5 Q5.7 0 3.1 1.5 L-0.3 3.5 Q-2.8 4.9 -2.9 2 L-2.9 -2 Q-2.9 -4.9 -0.3 -3.5 Z" transform="translate(1451.2,965.2) rotate(-100)"/><path d="M3.1 -1.5 Q5.7 0 3.1 1.5 L-0.3 3.5 Q-2.8 4.9 -2.9 2 L-2.9 -2 Q-2.9 -4.9 -0.3 -3.5 Z" transform="translate(1470.4,965.2) rotate(-20)"/><path d="M3.1 -1.5 Q5.7 0 3.1 1.5 L-0.3 3.5 Q-2.8 4.9 -2.9 2 L-2.9 -2 Q-2.9 -4.9 -0.3 -3.5 Z" transform="translate(1489.6,965.2) rotate(-60)"/><path d="M3.1 -1.5 Q5.7 0 3.1 1.5 L-0.3 3.5 Q-2.8 4.9 -2.9 2 L-2.9 -2 Q-2.9 -4.9 -0.3 -3.5 Z" transform="translate(1508.8,965.2) rotate(-120)"/><path d="M3.1 -1.5 Q5.7 0 3.1 1.5 L-0.3 3.5 Q-2.8 4.9 -2.9 2 L-2.9 -2 Q-2.9 -4.9 -0.3 -3.5 Z" transform="translate(1528,965.2) rotate(-60)"/><path d="M3.1 -1.5 Q5.7 0 3.1 1.5 L-0.3 3.5 Q-2.8 4.9 -2.9 2 L-2.9 -2 Q-2.9 -4.9 -0.3 -3.5 Z" transform="translate(1547.2,965.2) rotate(-20)"/><path d="M3.1 -1.5 Q5.7 0 3.1 1.5 L-0.3 3.5 Q-2.8 4.9 -2.9 2 L-2.9 -2 Q-2.9 -4.9 -0.3 -3.5 Z" transform="translate(1566.4,965.2) rotate(-110)"/><path d="M3.1 -1.5 Q5.7 0 3.1 1.5 L-0.3 3.5 Q-2.8 4.9 -2.9 2 L-2.9 -2 Q-2.9 -4.9 -0.3 -3.5 Z" transform="translate(1585.6,965.2) rotate(-80)"/><path d="M3.1 -1.5 Q5.7 0 3.1 1.5 L-0.3 3.5 Q-2.8 4.9 -2.9 2 L-2.9 -2 Q-2.9 -4.9 -0.3 -3.5 Z" transform="translate(1182.4,984.2) rotate(-80)"/><path d="M3.1 -1.5 Q5.7 0 3.1 1.5 L-0.3 3.5 Q-2.8 4.9 -2.9 2 L-2.9 -2 Q-2.9 -4.9 -0.3 -3.5 Z" transform="translate(1201.6,984.2) rotate(-70)"/><path d="M3.1 -1.5 Q5.7 0 3.1 1.5 L-0.3 3.5 Q-2.8 4.9 -2.9 2 L-2.9 -2 Q-2.9 -4.9 -0.3 -3.5 Z" transform="translate(1220.8,984.2) rotate(-60)"/><path d="M3.1 -1.5 Q5.7 0 3.1 1.5 L-0.3 3.5 Q-2.8 4.9 -2.9 2 L-2.9 -2 Q-2.9 -4.9 -0.3 -3.5 Z" transform="translate(1240,984.2) rotate(-40)"/><path d="M3.1 -1.5 Q5.7 0 3.1 1.5 L-0.3 3.5 Q-2.8 4.9 -2.9 2 L-2.9 -2 Q-2.9 -4.9 -0.3 -3.5 Z" transform="translate(1259.2,984.2) rotate(-10)"/><path d="M3.1 -1.5 Q5.7 0 3.1 1.5 L-0.3 3.5 Q-2.8 4.9 -2.9 2 L-2.9 -2 Q-2.9 -4.9 -0.3 -3.5 Z" transform="translate(1278.4,984.2) rotate(-120)"/><path d="M3.1 -1.5 Q5.7 0 3.1 1.5 L-0.3 3.5 Q-2.8 4.9 -2.9 2 L-2.9 -2 Q-2.9 -4.9 -0.3 -3.5 Z" transform="translate(1297.6,984.2) rotate(-120)"/><path d="M3.1 -1.5 Q5.7 0 3.1 1.5 L-0.3 3.5 Q-2.8 4.9 -2.9 2 L-2.9 -2 Q-2.9 -4.9 -0.3 -3.5 Z" transform="translate(1316.8,984.2) rotate(-10)"/><path d="M3.1 -1.5 Q5.7 0 3.1 1.5 L-0.3 3.5 Q-2.8 4.9 -2.9 2 L-2.9 -2 Q-2.9 -4.9 -0.3 -3.5 Z" transform="translate(1336,984.2) rotate(-30)"/><path d="M3.1 -1.5 Q5.7 0 3.1 1.5 L-0.3 3.5 Q-2.8 4.9 -2.9 2 L-2.9 -2 Q-2.9 -4.9 -0.3 -3.5 Z" transform="translate(1355.2,984.2) rotate(-70)"/><path d="M3.1 -1.5 Q5.7 0 3.1 1.5 L-0.3 3.5 Q-2.8 4.9 -2.9 2 L-2.9 -2 Q-2.9 -4.9 -0.3 -3.5 Z" transform="translate(1374.4,984.2) rotate(-110)"/><path d="M3.1 -1.5 Q5.7 0 3.1 1.5 L-0.3 3.5 Q-2.8 4.9 -2.9 2 L-2.9 -2 Q-2.9 -4.9 -0.3 -3.5 Z" transform="translate(1393.6,984.2) rotate(-30)"/><path d="M3.1 -1.5 Q5.7 0 3.1 1.5 L-0.3 3.5 Q-2.8 4.9 -2.9 2 L-2.9 -2 Q-2.9 -4.9 -0.3 -3.5 Z" transform="translate(1412.8,984.2) rotate(-60)"/><path d="M3.1 -1.5 Q5.7 0 3.1 1.5 L-0.3 3.5 Q-2.8 4.9 -2.9 2 L-2.9 -2 Q-2.9 -4.9 -0.3 -3.5 Z" transform="translate(1432,984.2) rotate(-90)"/><path d="M3.1 -1.5 Q5.7 0 3.1 1.5 L-0.3 3.5 Q-2.8 4.9 -2.9 2 L-2.9 -2 Q-2.9 -4.9 -0.3 -3.5 Z" transform="translate(1451.2,984.2) rotate(-120)"/><path d="M3.1 -1.5 Q5.7 0 3.1 1.5 L-0.3 3.5 Q-2.8 4.9 -2.9 2 L-2.9 -2 Q-2.9 -4.9 -0.3 -3.5 Z" transform="translate(1470.4,984.2) rotate(-30)"/><path d="M3.1 -1.5 Q5.7 0 3.1 1.5 L-0.3 3.5 Q-2.8 4.9 -2.9 2 L-2.9 -2 Q-2.9 -4.9 -0.3 -3.5 Z" transform="translate(1489.6,984.2) rotate(-70)"/><path d="M3.1 -1.5 Q5.7 0 3.1 1.5 L-0.3 3.5 Q-2.8 4.9 -2.9 2 L-2.9 -2 Q-2.9 -4.9 -0.3 -3.5 Z" transform="translate(1508.8,984.2) rotate(-10)"/><path d="M3.1 -1.5 Q5.7 0 3.1 1.5 L-0.3 3.5 Q-2.8 4.9 -2.9 2 L-2.9 -2 Q-2.9 -4.9 -0.3 -3.5 Z" transform="translate(1528,984.2) rotate(-80)"/><path d="M3.1 -1.5 Q5.7 0 3.1 1.5 L-0.3 3.5 Q-2.8 4.9 -2.9 2 L-2.9 -2 Q-2.9 -4.9 -0.3 -3.5 Z" transform="translate(1547.2,984.2) rotate(-40)"/><path d="M3.1 -1.5 Q5.7 0 3.1 1.5 L-0.3 3.5 Q-2.8 4.9 -2.9 2 L-2.9 -2 Q-2.9 -4.9 -0.3 -3.5 Z" transform="translate(1566.4,984.2) rotate(-20)"/><path d="M3.1 -1.5 Q5.7 0 3.1 1.5 L-0.3 3.5 Q-2.8 4.9 -2.9 2 L-2.9 -2 Q-2.9 -4.9 -0.3 -3.5 Z" transform="translate(1585.6,984.2) rotate(-110)"/><path d="M3.1 -1.5 Q5.7 0 3.1 1.5 L-0.3 3.5 Q-2.8 4.9 -2.9 2 L-2.9 -2 Q-2.9 -4.9 -0.3 -3.5 Z" transform="translate(1182.4,1003.2) rotate(0)"/><path d="M3.1 -1.5 Q5.7 0 3.1 1.5 L-0.3 3.5 Q-2.8 4.9 -2.9 2 L-2.9 -2 Q-2.9 -4.9 -0.3 -3.5 Z" transform="translate(1201.6,1003.2) rotate(-120)"/><path d="M3.1 -1.5 Q5.7 0 3.1 1.5 L-0.3 3.5 Q-2.8 4.9 -2.9 2 L-2.9 -2 Q-2.9 -4.9 -0.3 -3.5 Z" transform="translate(1220.8,1003.2) rotate(-110)"/><path d="M3.1 -1.5 Q5.7 0 3.1 1.5 L-0.3 3.5 Q-2.8 4.9 -2.9 2 L-2.9 -2 Q-2.9 -4.9 -0.3 -3.5 Z" transform="translate(1240,1003.2) rotate(-90)"/><path d="M3.1 -1.5 Q5.7 0 3.1 1.5 L-0.3 3.5 Q-2.8 4.9 -2.9 2 L-2.9 -2 Q-2.9 -4.9 -0.3 -3.5 Z" transform="translate(1259.2,1003.2) rotate(-80)"/><path d="M3.1 -1.5 Q5.7 0 3.1 1.5 L-0.3 3.5 Q-2.8 4.9 -2.9 2 L-2.9 -2 Q-2.9 -4.9 -0.3 -3.5 Z" transform="translate(1278.4,1003.2) rotate(-70)"/><path d="M3.1 -1.5 Q5.7 0 3.1 1.5 L-0.3 3.5 Q-2.8 4.9 -2.9 2 L-2.9 -2 Q-2.9 -4.9 -0.3 -3.5 Z" transform="translate(1297.6,1003.2) rotate(-80)"/><path d="M3.1 -1.5 Q5.7 0 3.1 1.5 L-0.3 3.5 Q-2.8 4.9 -2.9 2 L-2.9 -2 Q-2.9 -4.9 -0.3 -3.5 Z" transform="translate(1316.8,1003.2) rotate(-90)"/><path d="M3.1 -1.5 Q5.7 0 3.1 1.5 L-0.3 3.5 Q-2.8 4.9 -2.9 2 L-2.9 -2 Q-2.9 -4.9 -0.3 -3.5 Z" transform="translate(1336,1003.2) rotate(0)"/><path d="M3.1 -1.5 Q5.7 0 3.1 1.5 L-0.3 3.5 Q-2.8 4.9 -2.9 2 L-2.9 -2 Q-2.9 -4.9 -0.3 -3.5 Z" transform="translate(1355.2,1003.2) rotate(-30)"/><path d="M3.1 -1.5 Q5.7 0 3.1 1.5 L-0.3 3.5 Q-2.8 4.9 -2.9 2 L-2.9 -2 Q-2.9 -4.9 -0.3 -3.5 Z" transform="translate(1374.4,1003.2) rotate(-70)"/><path d="M3.1 -1.5 Q5.7 0 3.1 1.5 L-0.3 3.5 Q-2.8 4.9 -2.9 2 L-2.9 -2 Q-2.9 -4.9 -0.3 -3.5 Z" transform="translate(1393.6,1003.2) rotate(-90)"/><path d="M3.1 -1.5 Q5.7 0 3.1 1.5 L-0.3 3.5 Q-2.8 4.9 -2.9 2 L-2.9 -2 Q-2.9 -4.9 -0.3 -3.5 Z" transform="translate(1412.8,1003.2) rotate(-120)"/><path d="M3.1 -1.5 Q5.7 0 3.1 1.5 L-0.3 3.5 Q-2.8 4.9 -2.9 2 L-2.9 -2 Q-2.9 -4.9 -0.3 -3.5 Z" transform="translate(1432,1003.2) rotate(-20)"/><path d="M3.1 -1.5 Q5.7 0 3.1 1.5 L-0.3 3.5 Q-2.8 4.9 -2.9 2 L-2.9 -2 Q-2.9 -4.9 -0.3 -3.5 Z" transform="translate(1451.2,1003.2) rotate(-40)"/><path d="M3.1 -1.5 Q5.7 0 3.1 1.5 L-0.3 3.5 Q-2.8 4.9 -2.9 2 L-2.9 -2 Q-2.9 -4.9 -0.3 -3.5 Z" transform="translate(1470.4,1003.2) rotate(-60)"/><path d="M3.1 -1.5 Q5.7 0 3.1 1.5 L-0.3 3.5 Q-2.8 4.9 -2.9 2 L-2.9 -2 Q-2.9 -4.9 -0.3 -3.5 Z" transform="translate(1489.6,1003.2) rotate(-100)"/><path d="M3.1 -1.5 Q5.7 0 3.1 1.5 L-0.3 3.5 Q-2.8 4.9 -2.9 2 L-2.9 -2 Q-2.9 -4.9 -0.3 -3.5 Z" transform="translate(1508.8,1003.2) rotate(-30)"/><path d="M3.1 -1.5 Q5.7 0 3.1 1.5 L-0.3 3.5 Q-2.8 4.9 -2.9 2 L-2.9 -2 Q-2.9 -4.9 -0.3 -3.5 Z" transform="translate(1528,1003.2) rotate(-100)"/><path d="M3.1 -1.5 Q5.7 0 3.1 1.5 L-0.3 3.5 Q-2.8 4.9 -2.9 2 L-2.9 -2 Q-2.9 -4.9 -0.3 -3.5 Z" transform="translate(1547.2,1003.2) rotate(-70)"/><path d="M3.1 -1.5 Q5.7 0 3.1 1.5 L-0.3 3.5 Q-2.8 4.9 -2.9 2 L-2.9 -2 Q-2.9 -4.9 -0.3 -3.5 Z" transform="translate(1566.4,1003.2) rotate(-40)"/><path d="M3.1 -1.5 Q5.7 0 3.1 1.5 L-0.3 3.5 Q-2.8 4.9 -2.9 2 L-2.9 -2 Q-2.9 -4.9 -0.3 -3.5 Z" transform="translate(1585.6,1003.2) rotate(-20)"/><path d="M3.1 -1.5 Q5.7 0 3.1 1.5 L-0.3 3.5 Q-2.8 4.9 -2.9 2 L-2.9 -2 Q-2.9 -4.9 -0.3 -3.5 Z" transform="translate(1182.4,1022.3) rotate(-30)"/><path d="M3.1 -1.5 Q5.7 0 3.1 1.5 L-0.3 3.5 Q-2.8 4.9 -2.9 2 L-2.9 -2 Q-2.9 -4.9 -0.3 -3.5 Z" transform="translate(1201.6,1022.3) rotate(-30)"/><path d="M3.1 -1.5 Q5.7 0 3.1 1.5 L-0.3 3.5 Q-2.8 4.9 -2.9 2 L-2.9 -2 Q-2.9 -4.9 -0.3 -3.5 Z" transform="translate(1220.8,1022.3) rotate(-20)"/><path d="M3.1 -1.5 Q5.7 0 3.1 1.5 L-0.3 3.5 Q-2.8 4.9 -2.9 2 L-2.9 -2 Q-2.9 -4.9 -0.3 -3.5 Z" transform="translate(1240,1022.3) rotate(-10)"/><path d="M3.1 -1.5 Q5.7 0 3.1 1.5 L-0.3 3.5 Q-2.8 4.9 -2.9 2 L-2.9 -2 Q-2.9 -4.9 -0.3 -3.5 Z" transform="translate(1259.2,1022.3) rotate(-10)"/><path d="M3.1 -1.5 Q5.7 0 3.1 1.5 L-0.3 3.5 Q-2.8 4.9 -2.9 2 L-2.9 -2 Q-2.9 -4.9 -0.3 -3.5 Z" transform="translate(1278.4,1022.3) rotate(-10)"/><path d="M3.1 -1.5 Q5.7 0 3.1 1.5 L-0.3 3.5 Q-2.8 4.9 -2.9 2 L-2.9 -2 Q-2.9 -4.9 -0.3 -3.5 Z" transform="translate(1297.6,1022.3) rotate(-30)"/><path d="M3.1 -1.5 Q5.7 0 3.1 1.5 L-0.3 3.5 Q-2.8 4.9 -2.9 2 L-2.9 -2 Q-2.9 -4.9 -0.3 -3.5 Z" transform="translate(1316.8,1022.3) rotate(-60)"/><path d="M3.1 -1.5 Q5.7 0 3.1 1.5 L-0.3 3.5 Q-2.8 4.9 -2.9 2 L-2.9 -2 Q-2.9 -4.9 -0.3 -3.5 Z" transform="translate(1336,1022.3) rotate(-90)"/><path d="M3.1 -1.5 Q5.7 0 3.1 1.5 L-0.3 3.5 Q-2.8 4.9 -2.9 2 L-2.9 -2 Q-2.9 -4.9 -0.3 -3.5 Z" transform="translate(1355.2,1022.3) rotate(0)"/><path d="M3.1 -1.5 Q5.7 0 3.1 1.5 L-0.3 3.5 Q-2.8 4.9 -2.9 2 L-2.9 -2 Q-2.9 -4.9 -0.3 -3.5 Z" transform="translate(1374.4,1022.3) rotate(-30)"/><path d="M3.1 -1.5 Q5.7 0 3.1 1.5 L-0.3 3.5 Q-2.8 4.9 -2.9 2 L-2.9 -2 Q-2.9 -4.9 -0.3 -3.5 Z" transform="translate(1393.6,1022.3) rotate(-60)"/><path d="M3.1 -1.5 Q5.7 0 3.1 1.5 L-0.3 3.5 Q-2.8 4.9 -2.9 2 L-2.9 -2 Q-2.9 -4.9 -0.3 -3.5 Z" transform="translate(1412.8,1022.3) rotate(-70)"/><path d="M3.1 -1.5 Q5.7 0 3.1 1.5 L-0.3 3.5 Q-2.8 4.9 -2.9 2 L-2.9 -2 Q-2.9 -4.9 -0.3 -3.5 Z" transform="translate(1432,1022.3) rotate(-90)"/><path d="M3.1 -1.5 Q5.7 0 3.1 1.5 L-0.3 3.5 Q-2.8 4.9 -2.9 2 L-2.9 -2 Q-2.9 -4.9 -0.3 -3.5 Z" transform="translate(1451.2,1022.3) rotate(-100)"/><path d="M3.1 -1.5 Q5.7 0 3.1 1.5 L-0.3 3.5 Q-2.8 4.9 -2.9 2 L-2.9 -2 Q-2.9 -4.9 -0.3 -3.5 Z" transform="translate(1470.4,1022.3) rotate(-120)"/><path d="M3.1 -1.5 Q5.7 0 3.1 1.5 L-0.3 3.5 Q-2.8 4.9 -2.9 2 L-2.9 -2 Q-2.9 -4.9 -0.3 -3.5 Z" transform="translate(1489.6,1022.3) rotate(-30)"/><path d="M3.1 -1.5 Q5.7 0 3.1 1.5 L-0.3 3.5 Q-2.8 4.9 -2.9 2 L-2.9 -2 Q-2.9 -4.9 -0.3 -3.5 Z" transform="translate(1508.8,1022.3) rotate(-80)"/><path d="M3.1 -1.5 Q5.7 0 3.1 1.5 L-0.3 3.5 Q-2.8 4.9 -2.9 2 L-2.9 -2 Q-2.9 -4.9 -0.3 -3.5 Z" transform="translate(1528,1022.3) rotate(-20)"/><path d="M3.1 -1.5 Q5.7 0 3.1 1.5 L-0.3 3.5 Q-2.8 4.9 -2.9 2 L-2.9 -2 Q-2.9 -4.9 -0.3 -3.5 Z" transform="translate(1547.2,1022.3) rotate(-100)"/><path d="M3.1 -1.5 Q5.7 0 3.1 1.5 L-0.3 3.5 Q-2.8 4.9 -2.9 2 L-2.9 -2 Q-2.9 -4.9 -0.3 -3.5 Z" transform="translate(1566.4,1022.3) rotate(-70)"/><path d="M3.1 -1.5 Q5.7 0 3.1 1.5 L-0.3 3.5 Q-2.8 4.9 -2.9 2 L-2.9 -2 Q-2.9 -4.9 -0.3 -3.5 Z" transform="translate(1585.6,1022.3) rotate(-50)"/><path d="M3.1 -1.5 Q5.7 0 3.1 1.5 L-0.3 3.5 Q-2.8 4.9 -2.9 2 L-2.9 -2 Q-2.9 -4.9 -0.3 -3.5 Z" transform="translate(1182.4,1041.4) rotate(-50)"/><path d="M3.1 -1.5 Q5.7 0 3.1 1.5 L-0.3 3.5 Q-2.8 4.9 -2.9 2 L-2.9 -2 Q-2.9 -4.9 -0.3 -3.5 Z" transform="translate(1201.6,1041.4) rotate(-50)"/><path d="M3.1 -1.5 Q5.7 0 3.1 1.5 L-0.3 3.5 Q-2.8 4.9 -2.9 2 L-2.9 -2 Q-2.9 -4.9 -0.3 -3.5 Z" transform="translate(1220.8,1041.4) rotate(-50)"/><path d="M3.1 -1.5 Q5.7 0 3.1 1.5 L-0.3 3.5 Q-2.8 4.9 -2.9 2 L-2.9 -2 Q-2.9 -4.9 -0.3 -3.5 Z" transform="translate(1240,1041.4) rotate(-40)"/><path d="M3.1 -1.5 Q5.7 0 3.1 1.5 L-0.3 3.5 Q-2.8 4.9 -2.9 2 L-2.9 -2 Q-2.9 -4.9 -0.3 -3.5 Z" transform="translate(1259.2,1041.4) rotate(-50)"/><path d="M3.1 -1.5 Q5.7 0 3.1 1.5 L-0.3 3.5 Q-2.8 4.9 -2.9 2 L-2.9 -2 Q-2.9 -4.9 -0.3 -3.5 Z" transform="translate(1278.4,1041.4) rotate(-70)"/><path d="M3.1 -1.5 Q5.7 0 3.1 1.5 L-0.3 3.5 Q-2.8 4.9 -2.9 2 L-2.9 -2 Q-2.9 -4.9 -0.3 -3.5 Z" transform="translate(1297.6,1041.4) rotate(-90)"/><path d="M3.1 -1.5 Q5.7 0 3.1 1.5 L-0.3 3.5 Q-2.8 4.9 -2.9 2 L-2.9 -2 Q-2.9 -4.9 -0.3 -3.5 Z" transform="translate(1316.8,1041.4) rotate(-10)"/><path d="M3.1 -1.5 Q5.7 0 3.1 1.5 L-0.3 3.5 Q-2.8 4.9 -2.9 2 L-2.9 -2 Q-2.9 -4.9 -0.3 -3.5 Z" transform="translate(1336,1041.4) rotate(-50)"/><path d="M3.1 -1.5 Q5.7 0 3.1 1.5 L-0.3 3.5 Q-2.8 4.9 -2.9 2 L-2.9 -2 Q-2.9 -4.9 -0.3 -3.5 Z" transform="translate(1355.2,1041.4) rotate(-90)"/><path d="M3.1 -1.5 Q5.7 0 3.1 1.5 L-0.3 3.5 Q-2.8 4.9 -2.9 2 L-2.9 -2 Q-2.9 -4.9 -0.3 -3.5 Z" transform="translate(1374.4,1041.4) rotate(0)"/><path d="M3.1 -1.5 Q5.7 0 3.1 1.5 L-0.3 3.5 Q-2.8 4.9 -2.9 2 L-2.9 -2 Q-2.9 -4.9 -0.3 -3.5 Z" transform="translate(1393.6,1041.4) rotate(-20)"/><path d="M3.1 -1.5 Q5.7 0 3.1 1.5 L-0.3 3.5 Q-2.8 4.9 -2.9 2 L-2.9 -2 Q-2.9 -4.9 -0.3 -3.5 Z" transform="translate(1412.8,1041.4) rotate(-40)"/><path d="M3.1 -1.5 Q5.7 0 3.1 1.5 L-0.3 3.5 Q-2.8 4.9 -2.9 2 L-2.9 -2 Q-2.9 -4.9 -0.3 -3.5 Z" transform="translate(1432,1041.4) rotate(-50)"/><path d="M3.1 -1.5 Q5.7 0 3.1 1.5 L-0.3 3.5 Q-2.8 4.9 -2.9 2 L-2.9 -2 Q-2.9 -4.9 -0.3 -3.5 Z" transform="translate(1451.2,1041.4) rotate(-60)"/><path d="M3.1 -1.5 Q5.7 0 3.1 1.5 L-0.3 3.5 Q-2.8 4.9 -2.9 2 L-2.9 -2 Q-2.9 -4.9 -0.3 -3.5 Z" transform="translate(1470.4,1041.4) rotate(-70)"/><path d="M3.1 -1.5 Q5.7 0 3.1 1.5 L-0.3 3.5 Q-2.8 4.9 -2.9 2 L-2.9 -2 Q-2.9 -4.9 -0.3 -3.5 Z" transform="translate(1489.6,1041.4) rotate(-100)"/><path d="M3.1 -1.5 Q5.7 0 3.1 1.5 L-0.3 3.5 Q-2.8 4.9 -2.9 2 L-2.9 -2 Q-2.9 -4.9 -0.3 -3.5 Z" transform="translate(1508.8,1041.4) rotate(-30)"/><path d="M3.1 -1.5 Q5.7 0 3.1 1.5 L-0.3 3.5 Q-2.8 4.9 -2.9 2 L-2.9 -2 Q-2.9 -4.9 -0.3 -3.5 Z" transform="translate(1528,1041.4) rotate(-90)"/><path d="M3.1 -1.5 Q5.7 0 3.1 1.5 L-0.3 3.5 Q-2.8 4.9 -2.9 2 L-2.9 -2 Q-2.9 -4.9 -0.3 -3.5 Z" transform="translate(1547.2,1041.4) rotate(-40)"/><path d="M3.1 -1.5 Q5.7 0 3.1 1.5 L-0.3 3.5 Q-2.8 4.9 -2.9 2 L-2.9 -2 Q-2.9 -4.9 -0.3 -3.5 Z" transform="translate(1566.4,1041.4) rotate(-10)"/><path d="M3.1 -1.5 Q5.7 0 3.1 1.5 L-0.3 3.5 Q-2.8 4.9 -2.9 2 L-2.9 -2 Q-2.9 -4.9 -0.3 -3.5 Z" transform="translate(1585.6,1041.4) rotate(-90)"/></g></g></g>
<rect x="1492.6" y="801.2" width="53.2" height="5.5" fill="#fff"/>
<rect x="1250.2" y="803.6" width="20.5" height="20.5" fill="none" stroke="#f0953a" stroke-width="1.8"/>
<text x="1266" y="828.8" font-size="16" font-weight="bold" fill="#fff" opacity="0.6" filter="url(#ftext)" textLength="21" lengthAdjust="spacingAndGlyphs">60</text>
<text x="1266" y="828.8" font-size="16" font-weight="bold" fill="#fff" textLength="21" lengthAdjust="spacingAndGlyphs">60</text>
<rect x="1307.9" y="822.6" width="20.5" height="20.5" fill="none" stroke="#f0953a" stroke-width="1.8"/>
<text x="1324" y="847.6" font-size="16" font-weight="bold" fill="#fff" opacity="0.6" filter="url(#ftext)" textLength="29" lengthAdjust="spacingAndGlyphs">100</text>
<text x="1324" y="847.6" font-size="16" font-weight="bold" fill="#fff" textLength="29" lengthAdjust="spacingAndGlyphs">100</text>
<rect x="1442.9" y="918.2" width="20.5" height="20.5" fill="none" stroke="#f0953a" stroke-width="1.8"/>
<text x="1457.5" y="919.8" font-size="16" font-weight="bold" fill="#fff" opacity="0.6" filter="url(#ftext)" textLength="21.4" lengthAdjust="spacingAndGlyphs">80</text>
<text x="1457.5" y="919.8" font-size="16" font-weight="bold" fill="#fff" textLength="21.4" lengthAdjust="spacingAndGlyphs">80</text>
<rect x="1211.8" y="956.5" width="20.5" height="20.5" fill="none" stroke="#f0953a" stroke-width="1.8"/>
<text x="1227" y="959.7" font-size="16" font-weight="bold" fill="#fff" opacity="0.6" filter="url(#ftext)" textLength="20.8" lengthAdjust="spacingAndGlyphs">20</text>
<text x="1227" y="959.7" font-size="16" font-weight="bold" fill="#fff" textLength="20.8" lengthAdjust="spacingAndGlyphs">20</text>
<rect x="1384.9" y="956.5" width="20.5" height="20.5" fill="none" stroke="#f0953a" stroke-width="1.8"/>
<text x="1398.6" y="958.7" font-size="16" font-weight="bold" fill="#fff" opacity="0.6" filter="url(#ftext)" textLength="21.4" lengthAdjust="spacingAndGlyphs">40</text>
<text x="1398.6" y="958.7" font-size="16" font-weight="bold" fill="#fff" textLength="21.4" lengthAdjust="spacingAndGlyphs">40</text>
<rect x="1500.6" y="994.7" width="20.5" height="20.5" fill="none" stroke="#f0953a" stroke-width="1.8"/>
<text x="1517.2" y="998.9" font-size="16" font-weight="bold" fill="#fff" opacity="0.6" filter="url(#ftext)" textLength="9.5" lengthAdjust="spacingAndGlyphs">0</text>
<text x="1517.2" y="998.9" font-size="16" font-weight="bold" fill="#fff" textLength="9.5" lengthAdjust="spacingAndGlyphs">0</text>
<g transform="translate(1150,1037.6)"><svg x="0" y="0" width="44" height="44" viewBox="0 0 44 44" overflow="hidden"><rect width="44" height="44" fill="#999"/><g filter="url(#fglow)"><circle cx="0" cy="0" r="15.5" fill="#050505" stroke="#e8e8e8" stroke-width="1.6"/><circle cx="44" cy="0" r="15.5" fill="#050505" stroke="#e8e8e8" stroke-width="1.6"/><circle cx="0" cy="44" r="15.5" fill="#050505" stroke="#e8e8e8" stroke-width="1.6"/><circle cx="44" cy="44" r="15.5" fill="#050505" stroke="#e8e8e8" stroke-width="1.6"/><path d="M6.6 -4 Q13.5 0 6.6 4 L0.1 7.7 Q-6.7 11.7 -6.8 3.7 L-6.8 -3.7 Q-6.8 -11.7 0.1 -7.7 Z" transform="translate(21,23) rotate(0)" fill="#050505" stroke="#d8d8d8" stroke-width="1.4" stroke-linejoin="round"/></g></svg><rect x="0" y="0" width="44" height="44" fill="none" stroke="#f0953a" stroke-width="1.3"/><path d="M22 23 H35" stroke="#fff" stroke-width="0.9" stroke-dasharray="2 1.5"/><circle cx="35" cy="23" r="1.4" fill="#f0504a"/></g>
<text x="1172" y="1099.6" font-size="16" fill="#111" text-anchor="middle" textLength="9" lengthAdjust="spacingAndGlyphs" >0</text>
<g transform="translate(1217.1,1037.6)"><svg x="0" y="0" width="44" height="44" viewBox="0 0 44 44" overflow="hidden"><rect width="44" height="44" fill="#999"/><g filter="url(#fglow)"><circle cx="0" cy="0" r="15.5" fill="#050505" stroke="#e8e8e8" stroke-width="1.6"/><circle cx="44" cy="0" r="15.5" fill="#050505" stroke="#e8e8e8" stroke-width="1.6"/><circle cx="0" cy="44" r="15.5" fill="#050505" stroke="#e8e8e8" stroke-width="1.6"/><circle cx="44" cy="44" r="15.5" fill="#050505" stroke="#e8e8e8" stroke-width="1.6"/><path d="M6.6 -4 Q13.5 0 6.6 4 L0.1 7.7 Q-6.7 11.7 -6.8 3.7 L-6.8 -3.7 Q-6.8 -11.7 0.1 -7.7 Z" transform="translate(21,23) rotate(-20)" fill="#050505" stroke="#d8d8d8" stroke-width="1.4" stroke-linejoin="round"/></g></svg><rect x="0" y="0" width="44" height="44" fill="none" stroke="#f0953a" stroke-width="1.3"/><path d="M22 23 H35" stroke="#fff" stroke-width="0.9" stroke-dasharray="2 1.5"/><path d="M22 23 L34.2 18.6" stroke="#fff" stroke-width="0.9" stroke-dasharray="2 1.5"/><path d="M36 23 A14 14 0 0 0 35.2 18.2" fill="none" stroke="#f0504a" stroke-width="1.3"/><path d="M34.1 15.4 L38.2 19.2 L33.5 20.9 Z" fill="#f0504a"/><circle cx="35" cy="23" r="1.4" fill="#f0504a"/></g>
<text x="1239.1" y="1099.6" font-size="16" fill="#111" text-anchor="middle" textLength="18" lengthAdjust="spacingAndGlyphs" >20</text>
<g transform="translate(1284.1,1037.6)"><svg x="0" y="0" width="44" height="44" viewBox="0 0 44 44" overflow="hidden"><rect width="44" height="44" fill="#999"/><g filter="url(#fglow)"><circle cx="0" cy="0" r="15.5" fill="#050505" stroke="#e8e8e8" stroke-width="1.6"/><circle cx="44" cy="0" r="15.5" fill="#050505" stroke="#e8e8e8" stroke-width="1.6"/><circle cx="0" cy="44" r="15.5" fill="#050505" stroke="#e8e8e8" stroke-width="1.6"/><circle cx="44" cy="44" r="15.5" fill="#050505" stroke="#e8e8e8" stroke-width="1.6"/><path d="M6.6 -4 Q13.5 0 6.6 4 L0.1 7.7 Q-6.7 11.7 -6.8 3.7 L-6.8 -3.7 Q-6.8 -11.7 0.1 -7.7 Z" transform="translate(21,23) rotate(-40)" fill="#050505" stroke="#d8d8d8" stroke-width="1.4" stroke-linejoin="round"/></g></svg><rect x="0" y="0" width="44" height="44" fill="none" stroke="#f0953a" stroke-width="1.3"/><path d="M22 23 H35" stroke="#fff" stroke-width="0.9" stroke-dasharray="2 1.5"/><path d="M22 23 L32 14.6" stroke="#fff" stroke-width="0.9" stroke-dasharray="2 1.5"/><path d="M36 23 A14 14 0 0 0 32.7 14" fill="none" stroke="#f0504a" stroke-width="1.3"/><path d="M30.8 11.7 L35.9 13.9 L32.1 17.1 Z" fill="#f0504a"/><circle cx="35" cy="23" r="1.4" fill="#f0504a"/></g>
<text x="1306.1" y="1099.6" font-size="16" fill="#111" text-anchor="middle" textLength="18" lengthAdjust="spacingAndGlyphs" >40</text>
<g transform="translate(1351.1,1037.6)"><svg x="0" y="0" width="44" height="44" viewBox="0 0 44 44" overflow="hidden"><rect width="44" height="44" fill="#999"/><g filter="url(#fglow)"><circle cx="0" cy="0" r="15.5" fill="#050505" stroke="#e8e8e8" stroke-width="1.6"/><circle cx="44" cy="0" r="15.5" fill="#050505" stroke="#e8e8e8" stroke-width="1.6"/><circle cx="0" cy="44" r="15.5" fill="#050505" stroke="#e8e8e8" stroke-width="1.6"/><circle cx="44" cy="44" r="15.5" fill="#050505" stroke="#e8e8e8" stroke-width="1.6"/><path d="M6.6 -4 Q13.5 0 6.6 4 L0.1 7.7 Q-6.7 11.7 -6.8 3.7 L-6.8 -3.7 Q-6.8 -11.7 0.1 -7.7 Z" transform="translate(21,23) rotate(-60)" fill="#050505" stroke="#d8d8d8" stroke-width="1.4" stroke-linejoin="round"/></g></svg><rect x="0" y="0" width="44" height="44" fill="none" stroke="#f0953a" stroke-width="1.3"/><path d="M22 23 H35" stroke="#fff" stroke-width="0.9" stroke-dasharray="2 1.5"/><path d="M22 23 L28.5 11.7" stroke="#fff" stroke-width="0.9" stroke-dasharray="2 1.5"/><path d="M36 23 A14 14 0 0 0 29 10.9" fill="none" stroke="#f0504a" stroke-width="1.3"/><path d="M26.4 9.4 L32 9.7 L29.5 14 Z" fill="#f0504a"/><circle cx="35" cy="23" r="1.4" fill="#f0504a"/></g>
<text x="1373.1" y="1099.6" font-size="16" fill="#111" text-anchor="middle" textLength="18" lengthAdjust="spacingAndGlyphs" >60</text>
<g transform="translate(1418.1,1037.6)"><svg x="0" y="0" width="44" height="44" viewBox="0 0 44 44" overflow="hidden"><rect width="44" height="44" fill="#999"/><g filter="url(#fglow)"><circle cx="0" cy="0" r="15.5" fill="#050505" stroke="#e8e8e8" stroke-width="1.6"/><circle cx="44" cy="0" r="15.5" fill="#050505" stroke="#e8e8e8" stroke-width="1.6"/><circle cx="0" cy="44" r="15.5" fill="#050505" stroke="#e8e8e8" stroke-width="1.6"/><circle cx="44" cy="44" r="15.5" fill="#050505" stroke="#e8e8e8" stroke-width="1.6"/><path d="M6.6 -4 Q13.5 0 6.6 4 L0.1 7.7 Q-6.7 11.7 -6.8 3.7 L-6.8 -3.7 Q-6.8 -11.7 0.1 -7.7 Z" transform="translate(21,23) rotate(-80)" fill="#050505" stroke="#d8d8d8" stroke-width="1.4" stroke-linejoin="round"/></g></svg><rect x="0" y="0" width="44" height="44" fill="none" stroke="#f0953a" stroke-width="1.3"/><path d="M22 23 H35" stroke="#fff" stroke-width="0.9" stroke-dasharray="2 1.5"/><path d="M22 23 L24.3 10.2" stroke="#fff" stroke-width="0.9" stroke-dasharray="2 1.5"/><path d="M36 23 A14 14 0 0 0 24.4 9.2" fill="none" stroke="#f0504a" stroke-width="1.3"/><path d="M21.5 8.7 L26.8 7.1 L26 12 Z" fill="#f0504a"/><circle cx="35" cy="23" r="1.4" fill="#f0504a"/></g>
<text x="1440.1" y="1099.6" font-size="16" fill="#111" text-anchor="middle" textLength="18" lengthAdjust="spacingAndGlyphs" >80</text>
<g transform="translate(1485.1,1037.6)"><svg x="0" y="0" width="44" height="44" viewBox="0 0 44 44" overflow="hidden"><rect width="44" height="44" fill="#999"/><g filter="url(#fglow)"><circle cx="0" cy="0" r="15.5" fill="#050505" stroke="#e8e8e8" stroke-width="1.6"/><circle cx="44" cy="0" r="15.5" fill="#050505" stroke="#e8e8e8" stroke-width="1.6"/><circle cx="0" cy="44" r="15.5" fill="#050505" stroke="#e8e8e8" stroke-width="1.6"/><circle cx="44" cy="44" r="15.5" fill="#050505" stroke="#e8e8e8" stroke-width="1.6"/><path d="M6.6 -4 Q13.5 0 6.6 4 L0.1 7.7 Q-6.7 11.7 -6.8 3.7 L-6.8 -3.7 Q-6.8 -11.7 0.1 -7.7 Z" transform="translate(21,23) rotate(-100)" fill="#050505" stroke="#d8d8d8" stroke-width="1.4" stroke-linejoin="round"/></g></svg><rect x="0" y="0" width="44" height="44" fill="none" stroke="#f0953a" stroke-width="1.3"/><path d="M22 23 H35" stroke="#fff" stroke-width="0.9" stroke-dasharray="2 1.5"/><path d="M22 23 L19.7 10.2" stroke="#fff" stroke-width="0.9" stroke-dasharray="2 1.5"/><path d="M36 23 A14 14 0 0 0 19.6 9.2" fill="none" stroke="#f0504a" stroke-width="1.3"/><path d="M16.6 9.7 L21.1 6.4 L22 11.3 Z" fill="#f0504a"/><circle cx="35" cy="23" r="1.4" fill="#f0504a"/></g>
<text x="1507.1" y="1099.6" font-size="16" fill="#111" text-anchor="middle" textLength="26.5" lengthAdjust="spacingAndGlyphs" >100</text>
<g transform="translate(1552,1037.6)"><svg x="0" y="0" width="44" height="44" viewBox="0 0 44 44" overflow="hidden"><rect width="44" height="44" fill="#999"/><g filter="url(#fglow)"><circle cx="0" cy="0" r="15.5" fill="#050505" stroke="#e8e8e8" stroke-width="1.6"/><circle cx="44" cy="0" r="15.5" fill="#050505" stroke="#e8e8e8" stroke-width="1.6"/><circle cx="0" cy="44" r="15.5" fill="#050505" stroke="#e8e8e8" stroke-width="1.6"/><circle cx="44" cy="44" r="15.5" fill="#050505" stroke="#e8e8e8" stroke-width="1.6"/><path d="M6.6 -4 Q13.5 0 6.6 4 L0.1 7.7 Q-6.7 11.7 -6.8 3.7 L-6.8 -3.7 Q-6.8 -11.7 0.1 -7.7 Z" transform="translate(21,23) rotate(-120)" fill="#050505" stroke="#d8d8d8" stroke-width="1.4" stroke-linejoin="round"/></g></svg><rect x="0" y="0" width="44" height="44" fill="none" stroke="#f0953a" stroke-width="1.3"/><path d="M22 23 H35" stroke="#fff" stroke-width="0.9" stroke-dasharray="2 1.5"/><path d="M22 23 L15.5 11.7" stroke="#fff" stroke-width="0.9" stroke-dasharray="2 1.5"/><path d="M36 23 A14 14 0 0 0 15 10.9" fill="none" stroke="#f0504a" stroke-width="1.3"/><path d="M12.4 12.4 L15.5 7.7 L18 12 Z" fill="#f0504a"/><circle cx="35" cy="23" r="1.4" fill="#f0504a"/></g>
<text x="1574" y="1099.6" font-size="16" fill="#111" text-anchor="middle" textLength="26.5" lengthAdjust="spacingAndGlyphs" >120</text>
</g>
<g id="panel_g">
<text x="1100.5" y="1121.5" font-size="30" fill="#000" text-anchor="start" font-weight="bold" >g</text>
<path d="M1171 1277.4 L1574.5 1122.8" stroke="#c8191e" stroke-width="2.2" stroke-dasharray="7 4.5"/>
<path d="M1171 1122.8 L1574.5 1277.4" stroke="#2d4c9e" stroke-width="2.2" stroke-dasharray="7 4.5"/>
<clipPath id="gclip"><rect x="1162.1" y="1109.8" width="417.6" height="180.4"/></clipPath>
<polygon points="1171,1128.6 1166,1125.7 1166,1119.9 1171,1117 1176,1119.9 1176,1125.7" fill="#b3bce2"/>
<polygon points="1204.6,1141.5 1199.6,1138.6 1199.6,1132.8 1204.6,1129.9 1209.6,1132.8 1209.6,1138.6" fill="#a8b2dc"/>
<polygon points="1238.2,1154.4 1233.2,1151.5 1233.2,1145.7 1238.2,1142.8 1243.3,1145.7 1243.3,1151.5" fill="#9ca9d7"/>
<polygon points="1271.9,1167.2 1266.9,1164.4 1266.9,1158.5 1271.9,1155.7 1276.9,1158.5 1276.9,1164.4" fill="#91a0d2"/>
<polygon points="1305.5,1180.1 1300.5,1177.2 1300.5,1171.4 1305.5,1168.5 1310.5,1171.4 1310.5,1177.2" fill="#8596cc"/>
<polygon points="1339.1,1193 1334.1,1190.1 1334.1,1184.3 1339.1,1181.4 1344.1,1184.3 1344.1,1190.1" fill="#7a8cc6"/>
<polygon points="1372.8,1205.9 1367.7,1203 1367.7,1197.2 1372.8,1194.3 1377.8,1197.2 1377.8,1203" fill="#6e83c1"/>
<polygon points="1406.4,1218.8 1401.4,1215.9 1401.4,1210.1 1406.4,1207.2 1411.4,1210.1 1411.4,1215.9" fill="#637abc"/>
<polygon points="1440,1231.7 1435,1228.8 1435,1223 1440,1220.1 1445,1223 1445,1228.8" fill="#5870b6"/>
<polygon points="1473.6,1244.5 1468.6,1241.7 1468.6,1235.8 1473.6,1233 1478.6,1235.8 1478.6,1241.7" fill="#4c66b0"/>
<polygon points="1507.2,1257.4 1502.2,1254.5 1502.2,1248.7 1507.2,1245.8 1512.3,1248.7 1512.3,1254.5" fill="#415dab"/>
<polygon points="1540.9,1270.3 1535.9,1267.4 1535.9,1261.6 1540.9,1258.7 1545.9,1261.6 1545.9,1267.4" fill="#3554a6"/>
<polygon points="1574.5,1283.2 1569.5,1280.3 1569.5,1274.5 1574.5,1271.6 1579.5,1274.5 1579.5,1280.3" fill="#2a4aa0"/>
<polygon points="1171,1283.2 1166,1280.3 1166,1274.5 1171,1271.6 1176,1274.5 1176,1280.3" fill="#f08a8a"/>
<polygon points="1204.6,1270.3 1199.6,1267.4 1199.6,1261.6 1204.6,1258.7 1209.6,1261.6 1209.6,1267.4" fill="#ed8081"/>
<polygon points="1238.2,1257.4 1233.2,1254.5 1233.2,1248.7 1238.2,1245.8 1243.3,1248.7 1243.3,1254.5" fill="#eb7678"/>
<polygon points="1271.9,1244.5 1266.9,1241.7 1266.9,1235.8 1271.9,1233 1276.9,1235.8 1276.9,1241.7" fill="#e86d6e"/>
<polygon points="1305.5,1231.7 1300.5,1228.8 1300.5,1223 1305.5,1220.1 1310.5,1223 1310.5,1228.8" fill="#e56365"/>
<polygon points="1339.1,1218.8 1334.1,1215.9 1334.1,1210.1 1339.1,1207.2 1344.1,1210.1 1344.1,1215.9" fill="#e3595c"/>
<polygon points="1372.8,1205.9 1367.7,1203 1367.7,1197.2 1372.8,1194.3 1377.8,1197.2 1377.8,1203" fill="#e05052"/>
<polygon points="1406.4,1193 1401.4,1190.1 1401.4,1184.3 1406.4,1181.4 1411.4,1184.3 1411.4,1190.1" fill="#dd4649"/>
<polygon points="1440,1180.1 1435,1177.2 1435,1171.4 1440,1168.5 1445,1171.4 1445,1177.2" fill="#db3c40"/>
<polygon points="1473.6,1167.2 1468.6,1164.4 1468.6,1158.5 1473.6,1155.7 1478.6,1158.5 1478.6,1164.4" fill="#d83237"/>
<polygon points="1507.2,1154.4 1502.2,1151.5 1502.2,1145.7 1507.2,1142.8 1512.3,1145.7 1512.3,1151.5" fill="#d5282e"/>
<polygon points="1540.9,1141.5 1535.9,1138.6 1535.9,1132.8 1540.9,1129.9 1545.9,1132.8 1545.9,1138.6" fill="#d31f24"/>
<polygon points="1574.5,1128.6 1569.5,1125.7 1569.5,1119.9 1574.5,1117 1579.5,1119.9 1579.5,1125.7" fill="#d0151b"/>
<rect x="1168.1" y="1109.8" width="409.6" height="180.4" fill="none" stroke="#2b2b2b" stroke-width="1.4"/>
<path d="M1171 1290.2 v-4.5 M1171 1109.8 v4.5 M1204.6 1290.2 v-2.8 M1204.6 1109.8 v2.8 M1238.2 1290.2 v-4.5 M1238.2 1109.8 v4.5 M1271.9 1290.2 v-2.8 M1271.9 1109.8 v2.8 M1305.5 1290.2 v-4.5 M1305.5 1109.8 v4.5 M1339.1 1290.2 v-2.8 M1339.1 1109.8 v2.8 M1372.8 1290.2 v-4.5 M1372.8 1109.8 v4.5 M1406.4 1290.2 v-2.8 M1406.4 1109.8 v2.8 M1440 1290.2 v-4.5 M1440 1109.8 v4.5 M1473.6 1290.2 v-2.8 M1473.6 1109.8 v2.8 M1507.2 1290.2 v-4.5 M1507.2 1109.8 v4.5 M1540.9 1290.2 v-2.8 M1540.9 1109.8 v2.8 M1574.5 1290.2 v-4.5 M1574.5 1109.8 v4.5 M1168.1 1277.4 h4.5 M1168.1 1238.8 h2.8 M1168.1 1200.1 h4.5 M1168.1 1161.5 h2.8 M1168.1 1122.8 h4.5" stroke="#2b2b2b" stroke-width="1.2" fill="none"/>
<text x="1171.0" y="1308.4" font-size="17.5" fill="#111" text-anchor="middle" textLength="10" lengthAdjust="spacingAndGlyphs" >0</text>
<text x="1238.25" y="1308.4" font-size="17.5" fill="#111" text-anchor="middle" textLength="19.5" lengthAdjust="spacingAndGlyphs" >20</text>
<text x="1305.5" y="1308.4" font-size="17.5" fill="#111" text-anchor="middle" textLength="19.5" lengthAdjust="spacingAndGlyphs" >40</text>
<text x="1372.75" y="1308.4" font-size="17.5" fill="#111" text-anchor="middle" textLength="19.5" lengthAdjust="spacingAndGlyphs" >60</text>
<text x="1440.0" y="1308.4" font-size="17.5" fill="#111" text-anchor="middle" textLength="19.5" lengthAdjust="spacingAndGlyphs" >80</text>
<text x="1507.25" y="1308.4" font-size="17.5" fill="#111" text-anchor="middle" textLength="29" lengthAdjust="spacingAndGlyphs" >100</text>
<text x="1574.5" y="1308.4" font-size="17.5" fill="#111" text-anchor="middle" textLength="29" lengthAdjust="spacingAndGlyphs" >120</text>
<text x="1161.7" y="1128.9" font-size="17.5" fill="#111" text-anchor="end" textLength="29.3" lengthAdjust="spacingAndGlyphs" >360</text>
<text x="1161.7" y="1206.4" font-size="17.5" fill="#111" text-anchor="end" textLength="29.3" lengthAdjust="spacingAndGlyphs" >180</text>
<text x="1161.7" y="1283.5" font-size="17.5" fill="#111" text-anchor="end" textLength="10" lengthAdjust="spacingAndGlyphs" >0</text>
<text x="1372" y="1334" font-size="19" fill="#111" text-anchor="middle" textLength="63" lengthAdjust="spacingAndGlyphs" >θ (deg)</text>
<text transform="translate(1119.5,1200) rotate(-90)" font-size="19" fill="#111" text-anchor="middle" textLength="64" lengthAdjust="spacingAndGlyphs"><tspan font-style="italic">ϕ</tspan> (deg)</text>
<text x="1287" y="1272.3" font-size="15" fill="#c8191e" text-anchor="middle" textLength="32" lengthAdjust="spacingAndGlyphs" >RCP</text>
<text x="1459.3" y="1272.3" font-size="15" fill="#3a57a8" text-anchor="middle" textLength="31" lengthAdjust="spacingAndGlyphs" >LCP</text>
</g>
</svg>
</body></html>
